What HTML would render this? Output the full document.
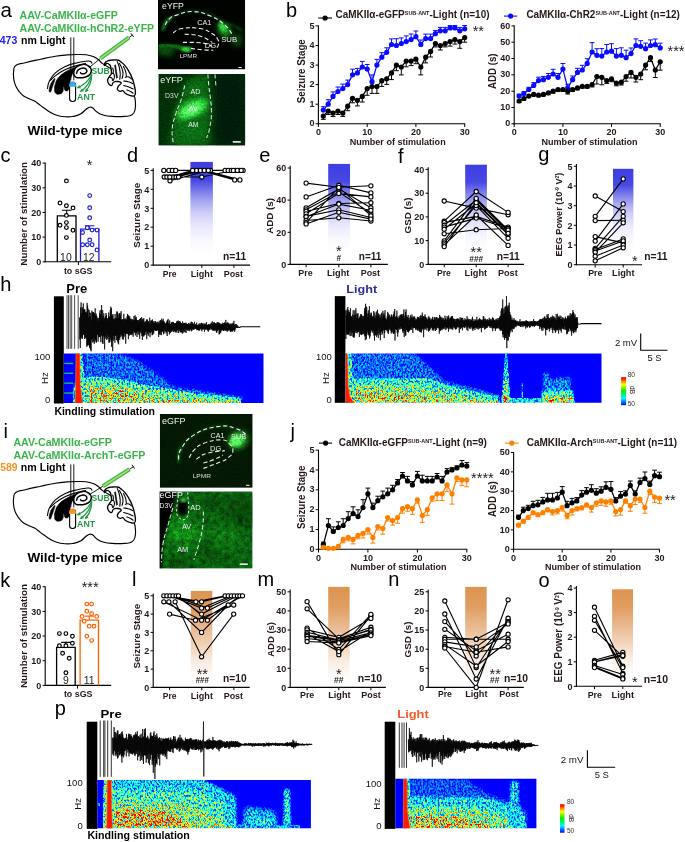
<!DOCTYPE html>
<html><head><meta charset="utf-8"><title>Figure</title>
<style>
html,body{margin:0;padding:0;background:#fff;}
svg{display:block;font-family:'Liberation Sans', Arial, sans-serif;font-weight:bold;will-change:transform;}
</style></head><body>
<svg width="685" height="842" viewBox="0 0 685 842">
<defs>
<linearGradient id="gb" x1="0" y1="0" x2="0" y2="1"><stop offset="0" stop-color="#3e3ee2"/><stop offset="0.2" stop-color="#4848e4"/><stop offset="0.3" stop-color="#7474ea"/><stop offset="0.42" stop-color="#a4a4f2"/><stop offset="0.55" stop-color="#cdcdf8"/><stop offset="0.7" stop-color="#e9e9fc"/><stop offset="0.85" stop-color="#f8f8ff"/><stop offset="1" stop-color="#fff"/></linearGradient>
<linearGradient id="go" x1="0" y1="0" x2="0" y2="1"><stop offset="0" stop-color="#dd9450"/><stop offset="0.22" stop-color="#e09e62"/><stop offset="0.5" stop-color="#ecc3a0"/><stop offset="0.8" stop-color="#f9ece0"/><stop offset="1" stop-color="#fff"/></linearGradient>
<filter id="bl1" x="-20%" y="-20%" width="140%" height="140%"><feGaussianBlur stdDeviation="1.6"/></filter>
<filter id="bl2" x="-30%" y="-30%" width="160%" height="160%"><feGaussianBlur stdDeviation="3.2"/></filter>
<filter id="bl3" x="-30%" y="-30%" width="160%" height="160%"><feGaussianBlur stdDeviation="6"/></filter>
<filter id="grain" x="0" y="0" width="1" height="1" color-interpolation-filters="sRGB">
<feTurbulence type="fractalNoise" baseFrequency="0.55" numOctaves="3" seed="7" result="n"/>
<feColorMatrix in="n" type="matrix" values="0 0 0 0 0  2.4 0 0 0 -0.7  0 0 0 0 0  0 0 0 0 1" result="g"/>
<feComposite in="SourceGraphic" in2="g" operator="arithmetic" k1="0.4" k2="0.82" k3="0" k4="0"/>
</filter>
<filter id="grain2" x="0" y="0" width="1" height="1" color-interpolation-filters="sRGB">
<feTurbulence type="fractalNoise" baseFrequency="0.2" numOctaves="3" seed="11" result="n1"/>
<feTurbulence type="fractalNoise" baseFrequency="0.8" numOctaves="2" seed="5" result="n2"/>
<feComposite in="n1" in2="n2" operator="arithmetic" k1="0" k2="0.62" k3="0.38" k4="0" result="n"/>
<feColorMatrix in="n" type="matrix" values="0 0 0 0 0  0 2.4 0 0 -0.7  0 0 0 0 0  0 0 0 0 1" result="g"/>
<feComposite in="SourceGraphic" in2="g" operator="arithmetic" k1="0.75" k2="0.62" k3="0" k4="0"/>
</filter>
<clipPath id="cA1"><rect x="158" y="0" width="87.2" height="69.4"/></clipPath>
<clipPath id="cA2"><rect x="158.4" y="73.9" width="86.8" height="71.7"/></clipPath>
<clipPath id="cI1"><rect x="159.8" y="414" width="92.8" height="73.7"/></clipPath>
<clipPath id="cI2"><rect x="159.6" y="491.4" width="92.9" height="77.1"/></clipPath>
<filter id="sb1" x="-50%" y="-10%" width="200%" height="120%"><feGaussianBlur stdDeviation="0.7"/></filter>
<filter id="sb2" x="-10%" y="-30%" width="120%" height="160%"><feGaussianBlur stdDeviation="1.8"/></filter>
<filter id="sb3" x="-10%" y="-30%" width="120%" height="160%"><feGaussianBlur stdDeviation="3"/></filter>
<linearGradient id="cbar" x1="0" y1="0" x2="0" y2="1"><stop offset="0" stop-color="#ff0a00"/><stop offset="0.06" stop-color="#ff1800"/><stop offset="0.16" stop-color="#ff9000"/><stop offset="0.26" stop-color="#ffff00"/><stop offset="0.48" stop-color="#0af000"/><stop offset="0.62" stop-color="#00f060"/><stop offset="0.76" stop-color="#00f8ff"/><stop offset="0.88" stop-color="#0078ff"/><stop offset="1" stop-color="#0000ff"/></linearGradient>
<clipPath id="sc1"><rect x="63.8" y="353.6" width="199.7" height="49.4"/></clipPath>
<filter id="jet1" x="0" y="0" width="1" height="1" color-interpolation-filters="sRGB">
<feTurbulence type="fractalNoise" baseFrequency="0.55 0.42" numOctaves="2" seed="3" result="n"/>
<feColorMatrix in="n" type="matrix" values="2.8 0 0 0 -0.9  2.8 0 0 0 -0.9  2.8 0 0 0 -0.9  0 0 0 0 1" result="g"/>
<feComposite in="SourceGraphic" in2="g" operator="arithmetic" k1="1.15" k2="0.44" k3="0" k4="-0.11" result="m"/>
<feComponentTransfer in="m"><feFuncR type="table" tableValues="0 0 0 0.5 1 1 1"/><feFuncG type="table" tableValues="0 0.5 1 1 1 0.45 0"/><feFuncB type="table" tableValues="1 1 1 0.5 0 0 0"/></feComponentTransfer>
</filter>
<clipPath id="sc2"><rect x="345.4" y="353.4" width="256.1" height="49.4"/></clipPath>
<filter id="jet2" x="0" y="0" width="1" height="1" color-interpolation-filters="sRGB">
<feTurbulence type="fractalNoise" baseFrequency="0.55 0.42" numOctaves="2" seed="9" result="n"/>
<feColorMatrix in="n" type="matrix" values="2.8 0 0 0 -0.9  2.8 0 0 0 -0.9  2.8 0 0 0 -0.9  0 0 0 0 1" result="g"/>
<feComposite in="SourceGraphic" in2="g" operator="arithmetic" k1="1.15" k2="0.44" k3="0" k4="-0.11" result="m"/>
<feComponentTransfer in="m"><feFuncR type="table" tableValues="0 0 0 0.5 1 1 1"/><feFuncG type="table" tableValues="0 0.5 1 1 1 0.45 0"/><feFuncB type="table" tableValues="1 1 1 0.5 0 0 0"/></feComponentTransfer>
</filter>
<clipPath id="sc3"><rect x="97.3" y="780.0" width="213.6" height="48.3"/></clipPath>
<filter id="jet3" x="0" y="0" width="1" height="1" color-interpolation-filters="sRGB">
<feTurbulence type="fractalNoise" baseFrequency="0.55 0.42" numOctaves="2" seed="21" result="n"/>
<feColorMatrix in="n" type="matrix" values="2.8 0 0 0 -0.9  2.8 0 0 0 -0.9  2.8 0 0 0 -0.9  0 0 0 0 1" result="g"/>
<feComposite in="SourceGraphic" in2="g" operator="arithmetic" k1="1.15" k2="0.44" k3="0" k4="-0.11" result="m"/>
<feComponentTransfer in="m"><feFuncR type="table" tableValues="0 0 0 0.5 1 1 1"/><feFuncG type="table" tableValues="0 0.5 1 1 1 0.45 0"/><feFuncB type="table" tableValues="1 1 1 0.5 0 0 0"/></feComponentTransfer>
</filter>
<clipPath id="sc4"><rect x="395.3" y="778.8" width="141.1" height="49.4"/></clipPath>
<filter id="jet4" x="0" y="0" width="1" height="1" color-interpolation-filters="sRGB">
<feTurbulence type="fractalNoise" baseFrequency="0.55 0.42" numOctaves="2" seed="33" result="n"/>
<feColorMatrix in="n" type="matrix" values="2.8 0 0 0 -0.9  2.8 0 0 0 -0.9  2.8 0 0 0 -0.9  0 0 0 0 1" result="g"/>
<feComposite in="SourceGraphic" in2="g" operator="arithmetic" k1="1.15" k2="0.44" k3="0" k4="-0.11" result="m"/>
<feComponentTransfer in="m"><feFuncR type="table" tableValues="0 0 0 0.5 1 1 1"/><feFuncG type="table" tableValues="0 0.5 1 1 1 0.45 0"/><feFuncB type="table" tableValues="1 1 1 0.5 0 0 0"/></feComponentTransfer>
</filter>
</defs>
<text x="286.0" y="16.6" font-size="20" font-weight="normal" fill="#000">b</text>
<line x1="318.4" y1="25.4" x2="318.4" y2="124.3" stroke="#000" stroke-width="1.1"/>
<line x1="317.9" y1="123.8" x2="465.2" y2="123.8" stroke="#000" stroke-width="1.1"/>
<line x1="315.6" y1="123.8" x2="318.4" y2="123.8" stroke="#000" stroke-width="1.0"/>
<text x="314.5" y="126.4" font-size="9" text-anchor="end" fill="#231815">0</text>
<line x1="315.6" y1="104.2" x2="318.4" y2="104.2" stroke="#000" stroke-width="1.0"/>
<text x="314.5" y="106.8" font-size="9" text-anchor="end" fill="#231815">1</text>
<line x1="315.6" y1="84.6" x2="318.4" y2="84.6" stroke="#000" stroke-width="1.0"/>
<text x="314.5" y="87.2" font-size="9" text-anchor="end" fill="#231815">2</text>
<line x1="315.6" y1="65.1" x2="318.4" y2="65.1" stroke="#000" stroke-width="1.0"/>
<text x="314.5" y="67.7" font-size="9" text-anchor="end" fill="#231815">3</text>
<line x1="315.6" y1="45.5" x2="318.4" y2="45.5" stroke="#000" stroke-width="1.0"/>
<text x="314.5" y="48.1" font-size="9" text-anchor="end" fill="#231815">4</text>
<line x1="315.6" y1="25.9" x2="318.4" y2="25.9" stroke="#000" stroke-width="1.0"/>
<text x="314.5" y="28.5" font-size="9" text-anchor="end" fill="#231815">5</text>
<line x1="318.4" y1="123.8" x2="318.4" y2="127.0" stroke="#000" stroke-width="1.0"/>
<text x="318.4" y="135.3" font-size="9" text-anchor="middle" fill="#231815">0</text>
<line x1="367.2" y1="123.8" x2="367.2" y2="127.0" stroke="#000" stroke-width="1.0"/>
<text x="367.2" y="135.3" font-size="9" text-anchor="middle" fill="#231815">10</text>
<line x1="415.9" y1="123.8" x2="415.9" y2="127.0" stroke="#000" stroke-width="1.0"/>
<text x="415.9" y="135.3" font-size="9" text-anchor="middle" fill="#231815">20</text>
<line x1="464.7" y1="123.8" x2="464.7" y2="127.0" stroke="#000" stroke-width="1.0"/>
<text x="464.7" y="135.3" font-size="9" text-anchor="middle" fill="#231815">30</text>
<text x="349.7" y="144.5" font-size="9" fill="#231815" textLength="96.0" lengthAdjust="spacingAndGlyphs">Number of stimulation</text>
<text x="304.6" y="71.2" font-size="10" text-anchor="middle" fill="#231815" textLength="64.0" lengthAdjust="spacingAndGlyphs" transform="rotate(-90 304.6 71.2)">Seizure Stage</text>
<path d="M323.3,110.1V106.7M320.9,106.7h4.8M328.2,104.2V99.7M325.8,99.7h4.8M333.0,96.4V91.9M330.6,91.9h4.8M337.9,91.5V87.0M335.5,87.0h4.8M342.8,88.6V84.1M340.4,84.1h4.8M347.7,84.6V80.1M345.3,80.1h4.8M352.5,74.8V69.2M350.1,69.2h4.8M357.4,72.9V68.4M355.0,68.4h4.8M362.3,67.0V61.4M359.9,61.4h4.8M367.2,69.0V64.5M364.8,64.5h4.8M372.0,81.7V74.9M369.6,74.9h4.8M376.9,65.1V59.4M374.5,59.4h4.8M381.8,57.2V52.7M379.4,52.7h4.8M386.7,52.3V47.8M384.3,47.8h4.8M391.5,44.5V38.9M389.1,38.9h4.8M396.4,45.5V38.7M394.0,38.7h4.8M401.3,43.5V37.9M398.9,37.9h4.8M406.2,41.6V35.9M403.8,35.9h4.8M411.1,39.6V34.0M408.7,34.0h4.8M415.9,36.7V31.0M413.5,31.0h4.8M420.8,44.5V40.0M418.4,40.0h4.8M425.7,38.6V34.1M423.3,34.1h4.8M430.6,38.6V34.1M428.2,34.1h4.8M435.4,33.7V30.4M433.0,30.4h4.8M440.3,30.8V27.4M437.9,27.4h4.8M445.2,30.8V27.4M442.8,27.4h4.8M450.1,27.9V25.6M447.7,25.6h4.8M454.9,27.9V25.6M452.5,25.6h4.8M459.8,30.8V27.4M457.4,27.4h4.8M464.7,28.8V25.5M462.3,25.5h4.8" fill="none" stroke="#0a0aff" stroke-width="1.0"/>
<path d="M323.3,110.1L328.2,104.2L333.0,96.4L337.9,91.5L342.8,88.6L347.7,84.6L352.5,74.8L357.4,72.9L362.3,67.0L367.2,69.0L372.0,81.7L376.9,65.1L381.8,57.2L386.7,52.3L391.5,44.5L396.4,45.5L401.3,43.5L406.2,41.6L411.1,39.6L415.9,36.7L420.8,44.5L425.7,38.6L430.6,38.6L435.4,33.7L440.3,30.8L445.2,30.8L450.1,27.9L454.9,27.9L459.8,30.8L464.7,28.8" fill="none" stroke="#0a0aff" stroke-width="1.25"/>
<circle cx="323.3" cy="110.1" r="2.6" fill="#0a0aff"/>
<circle cx="328.2" cy="104.2" r="2.6" fill="#0a0aff"/>
<circle cx="333.0" cy="96.4" r="2.6" fill="#0a0aff"/>
<circle cx="337.9" cy="91.5" r="2.6" fill="#0a0aff"/>
<circle cx="342.8" cy="88.6" r="2.6" fill="#0a0aff"/>
<circle cx="347.7" cy="84.6" r="2.6" fill="#0a0aff"/>
<circle cx="352.5" cy="74.8" r="2.6" fill="#0a0aff"/>
<circle cx="357.4" cy="72.9" r="2.6" fill="#0a0aff"/>
<circle cx="362.3" cy="67.0" r="2.6" fill="#0a0aff"/>
<circle cx="367.2" cy="69.0" r="2.6" fill="#0a0aff"/>
<circle cx="372.0" cy="81.7" r="2.6" fill="#0a0aff"/>
<circle cx="376.9" cy="65.1" r="2.6" fill="#0a0aff"/>
<circle cx="381.8" cy="57.2" r="2.6" fill="#0a0aff"/>
<circle cx="386.7" cy="52.3" r="2.6" fill="#0a0aff"/>
<circle cx="391.5" cy="44.5" r="2.6" fill="#0a0aff"/>
<circle cx="396.4" cy="45.5" r="2.6" fill="#0a0aff"/>
<circle cx="401.3" cy="43.5" r="2.6" fill="#0a0aff"/>
<circle cx="406.2" cy="41.6" r="2.6" fill="#0a0aff"/>
<circle cx="411.1" cy="39.6" r="2.6" fill="#0a0aff"/>
<circle cx="415.9" cy="36.7" r="2.6" fill="#0a0aff"/>
<circle cx="420.8" cy="44.5" r="2.6" fill="#0a0aff"/>
<circle cx="425.7" cy="38.6" r="2.6" fill="#0a0aff"/>
<circle cx="430.6" cy="38.6" r="2.6" fill="#0a0aff"/>
<circle cx="435.4" cy="33.7" r="2.6" fill="#0a0aff"/>
<circle cx="440.3" cy="30.8" r="2.6" fill="#0a0aff"/>
<circle cx="445.2" cy="30.8" r="2.6" fill="#0a0aff"/>
<circle cx="450.1" cy="27.9" r="2.6" fill="#0a0aff"/>
<circle cx="454.9" cy="27.9" r="2.6" fill="#0a0aff"/>
<circle cx="459.8" cy="30.8" r="2.6" fill="#0a0aff"/>
<circle cx="464.7" cy="28.8" r="2.6" fill="#0a0aff"/>
<path d="M323.3,116.0V119.3M320.9,119.3h4.8M328.2,111.1V114.5M325.8,114.5h4.8M333.0,113.0V116.4M330.6,116.4h4.8M337.9,111.1V114.5M335.5,114.5h4.8M342.8,113.0V116.4M340.4,116.4h4.8M347.7,106.2V110.7M345.3,110.7h4.8M352.5,98.3V102.8M350.1,102.8h4.8M357.4,100.3V105.9M355.0,105.9h4.8M362.3,96.4V102.0M359.9,102.0h4.8M367.2,88.6V95.3M364.8,95.3h4.8M372.0,86.6V93.4M369.6,93.4h4.8M376.9,86.6V93.4M374.5,93.4h4.8M381.8,80.7V86.4M379.4,86.4h4.8M386.7,78.8V84.4M384.3,84.4h4.8M391.5,72.9V79.6M389.1,79.6h4.8M396.4,65.1V70.7M394.0,70.7h4.8M401.3,67.0V74.9M398.9,74.9h4.8M406.2,61.1V66.8M403.8,66.8h4.8M411.1,61.1V65.6M408.7,65.6h4.8M415.9,59.2V63.7M413.5,63.7h4.8M420.8,67.0V74.9M418.4,74.9h4.8M425.7,57.2V62.9M423.3,62.9h4.8M430.6,51.4V57.0M428.2,57.0h4.8M435.4,43.5V46.9M433.0,46.9h4.8M440.3,45.5V50.0M437.9,50.0h4.8M445.2,43.5V46.9M442.8,46.9h4.8M450.1,41.6V46.1M447.7,46.1h4.8M454.9,39.6V44.1M452.5,44.1h4.8M459.8,41.6V48.3M457.4,48.3h4.8M464.7,37.6V42.2M462.3,42.2h4.8" fill="none" stroke="#000" stroke-width="1.0"/>
<path d="M323.3,116.0L328.2,111.1L333.0,113.0L337.9,111.1L342.8,113.0L347.7,106.2L352.5,98.3L357.4,100.3L362.3,96.4L367.2,88.6L372.0,86.6L376.9,86.6L381.8,80.7L386.7,78.8L391.5,72.9L396.4,65.1L401.3,67.0L406.2,61.1L411.1,61.1L415.9,59.2L420.8,67.0L425.7,57.2L430.6,51.4L435.4,43.5L440.3,45.5L445.2,43.5L450.1,41.6L454.9,39.6L459.8,41.6L464.7,37.6" fill="none" stroke="#000" stroke-width="1.25"/>
<circle cx="323.3" cy="116.0" r="2.6" fill="#000"/>
<circle cx="328.2" cy="111.1" r="2.6" fill="#000"/>
<circle cx="333.0" cy="113.0" r="2.6" fill="#000"/>
<circle cx="337.9" cy="111.1" r="2.6" fill="#000"/>
<circle cx="342.8" cy="113.0" r="2.6" fill="#000"/>
<circle cx="347.7" cy="106.2" r="2.6" fill="#000"/>
<circle cx="352.5" cy="98.3" r="2.6" fill="#000"/>
<circle cx="357.4" cy="100.3" r="2.6" fill="#000"/>
<circle cx="362.3" cy="96.4" r="2.6" fill="#000"/>
<circle cx="367.2" cy="88.6" r="2.6" fill="#000"/>
<circle cx="372.0" cy="86.6" r="2.6" fill="#000"/>
<circle cx="376.9" cy="86.6" r="2.6" fill="#000"/>
<circle cx="381.8" cy="80.7" r="2.6" fill="#000"/>
<circle cx="386.7" cy="78.8" r="2.6" fill="#000"/>
<circle cx="391.5" cy="72.9" r="2.6" fill="#000"/>
<circle cx="396.4" cy="65.1" r="2.6" fill="#000"/>
<circle cx="401.3" cy="67.0" r="2.6" fill="#000"/>
<circle cx="406.2" cy="61.1" r="2.6" fill="#000"/>
<circle cx="411.1" cy="61.1" r="2.6" fill="#000"/>
<circle cx="415.9" cy="59.2" r="2.6" fill="#000"/>
<circle cx="420.8" cy="67.0" r="2.6" fill="#000"/>
<circle cx="425.7" cy="57.2" r="2.6" fill="#000"/>
<circle cx="430.6" cy="51.4" r="2.6" fill="#000"/>
<circle cx="435.4" cy="43.5" r="2.6" fill="#000"/>
<circle cx="440.3" cy="45.5" r="2.6" fill="#000"/>
<circle cx="445.2" cy="43.5" r="2.6" fill="#000"/>
<circle cx="450.1" cy="41.6" r="2.6" fill="#000"/>
<circle cx="454.9" cy="39.6" r="2.6" fill="#000"/>
<circle cx="459.8" cy="41.6" r="2.6" fill="#000"/>
<circle cx="464.7" cy="37.6" r="2.6" fill="#000"/>
<line x1="318.3" y1="18.0" x2="332.0" y2="18.0" stroke="#000" stroke-width="1.1"/>
<circle cx="325.1" cy="18.0" r="2.6" fill="#000"/>
<text x="335.5" y="18.4" font-size="10" fill="#231815" textLength="154.0" lengthAdjust="spacingAndGlyphs">CaMKIIα-eGFP<tspan font-size="5.5" dy="-3.4">SUB-ANT</tspan><tspan dy="3.4">-Light (n=10)</tspan></text>
<text x="478.3" y="36.3" font-size="14.5" font-weight="normal" text-anchor="middle" fill="#231815">**</text>
<line x1="514.2" y1="25.4" x2="514.2" y2="124.3" stroke="#000" stroke-width="1.1"/>
<line x1="513.7" y1="123.8" x2="660.7" y2="123.8" stroke="#000" stroke-width="1.1"/>
<line x1="511.4" y1="123.8" x2="514.2" y2="123.8" stroke="#000" stroke-width="1.0"/>
<text x="510.3" y="126.4" font-size="9" text-anchor="end" fill="#231815">0</text>
<line x1="511.4" y1="107.5" x2="514.2" y2="107.5" stroke="#000" stroke-width="1.0"/>
<text x="510.3" y="110.1" font-size="9" text-anchor="end" fill="#231815">10</text>
<line x1="511.4" y1="91.2" x2="514.2" y2="91.2" stroke="#000" stroke-width="1.0"/>
<text x="510.3" y="93.8" font-size="9" text-anchor="end" fill="#231815">20</text>
<line x1="511.4" y1="74.8" x2="514.2" y2="74.8" stroke="#000" stroke-width="1.0"/>
<text x="510.3" y="77.4" font-size="9" text-anchor="end" fill="#231815">30</text>
<line x1="511.4" y1="58.5" x2="514.2" y2="58.5" stroke="#000" stroke-width="1.0"/>
<text x="510.3" y="61.1" font-size="9" text-anchor="end" fill="#231815">40</text>
<line x1="511.4" y1="42.2" x2="514.2" y2="42.2" stroke="#000" stroke-width="1.0"/>
<text x="510.3" y="44.8" font-size="9" text-anchor="end" fill="#231815">50</text>
<line x1="511.4" y1="25.9" x2="514.2" y2="25.9" stroke="#000" stroke-width="1.0"/>
<text x="510.3" y="28.5" font-size="9" text-anchor="end" fill="#231815">60</text>
<line x1="514.2" y1="123.8" x2="514.2" y2="127.0" stroke="#000" stroke-width="1.0"/>
<text x="514.2" y="135.3" font-size="9" text-anchor="middle" fill="#231815">0</text>
<line x1="562.9" y1="123.8" x2="562.9" y2="127.0" stroke="#000" stroke-width="1.0"/>
<text x="562.9" y="135.3" font-size="9" text-anchor="middle" fill="#231815">10</text>
<line x1="611.5" y1="123.8" x2="611.5" y2="127.0" stroke="#000" stroke-width="1.0"/>
<text x="611.5" y="135.3" font-size="9" text-anchor="middle" fill="#231815">20</text>
<line x1="660.2" y1="123.8" x2="660.2" y2="127.0" stroke="#000" stroke-width="1.0"/>
<text x="660.2" y="135.3" font-size="9" text-anchor="middle" fill="#231815">30</text>
<text x="541.5" y="144.5" font-size="9" fill="#231815" textLength="96.0" lengthAdjust="spacingAndGlyphs">Number of stimulation</text>
<text x="495.9" y="71.2" font-size="10" text-anchor="middle" fill="#231815" textLength="35.6" lengthAdjust="spacingAndGlyphs" transform="rotate(-90 495.9 71.2)">ADD (s)</text>
<path d="M519.1,96.1V94.2M516.7,94.2h4.8M523.9,93.6V91.7M521.5,91.7h4.8M528.8,89.5V87.3M526.4,87.3h4.8M533.7,85.5V82.6M531.3,82.6h4.8M538.5,80.6V77.2M536.1,77.2h4.8M543.4,79.7V76.4M541.0,76.4h4.8M548.3,77.3V73.5M545.9,73.5h4.8M553.1,74.0V69.3M550.7,69.3h4.8M558.0,77.3V73.5M555.6,73.5h4.8M562.9,69.1V63.5M560.5,63.5h4.8M567.7,87.9V84.2M565.3,84.2h4.8M572.6,79.7V76.0M570.2,76.0h4.8M577.5,72.4V68.3M575.1,68.3h4.8M582.3,70.0V65.3M579.9,65.3h4.8M587.2,63.4V58.7M584.8,58.7h4.8M592.1,52.0V42.6M589.7,42.6h4.8M596.9,55.3V48.7M594.5,48.7h4.8M601.8,56.1V48.6M599.4,48.6h4.8M606.7,52.0V44.5M604.3,44.5h4.8M611.5,51.2V43.7M609.1,43.7h4.8M616.4,56.1V48.6M614.0,48.6h4.8M621.3,55.3V47.8M618.9,47.8h4.8M626.1,57.7V50.2M623.7,50.2h4.8M631.0,53.6V48.0M628.6,48.0h4.8M635.9,45.5V38.9M633.5,38.9h4.8M640.7,46.3V40.7M638.3,40.7h4.8M645.6,48.7V43.1M643.2,43.1h4.8M650.5,45.5V39.9M648.1,39.9h4.8M655.3,44.7V39.0M652.9,39.0h4.8M660.2,47.9V43.2M657.8,43.2h4.8" fill="none" stroke="#0a0aff" stroke-width="1.0"/>
<path d="M519.1,96.1L523.9,93.6L528.8,89.5L533.7,85.5L538.5,80.6L543.4,79.7L548.3,77.3L553.1,74.0L558.0,77.3L562.9,69.1L567.7,87.9L572.6,79.7L577.5,72.4L582.3,70.0L587.2,63.4L592.1,52.0L596.9,55.3L601.8,56.1L606.7,52.0L611.5,51.2L616.4,56.1L621.3,55.3L626.1,57.7L631.0,53.6L635.9,45.5L640.7,46.3L645.6,48.7L650.5,45.5L655.3,44.7L660.2,47.9" fill="none" stroke="#0a0aff" stroke-width="1.25"/>
<circle cx="519.1" cy="96.1" r="2.6" fill="#0a0aff"/>
<circle cx="523.9" cy="93.6" r="2.6" fill="#0a0aff"/>
<circle cx="528.8" cy="89.5" r="2.6" fill="#0a0aff"/>
<circle cx="533.7" cy="85.5" r="2.6" fill="#0a0aff"/>
<circle cx="538.5" cy="80.6" r="2.6" fill="#0a0aff"/>
<circle cx="543.4" cy="79.7" r="2.6" fill="#0a0aff"/>
<circle cx="548.3" cy="77.3" r="2.6" fill="#0a0aff"/>
<circle cx="553.1" cy="74.0" r="2.6" fill="#0a0aff"/>
<circle cx="558.0" cy="77.3" r="2.6" fill="#0a0aff"/>
<circle cx="562.9" cy="69.1" r="2.6" fill="#0a0aff"/>
<circle cx="567.7" cy="87.9" r="2.6" fill="#0a0aff"/>
<circle cx="572.6" cy="79.7" r="2.6" fill="#0a0aff"/>
<circle cx="577.5" cy="72.4" r="2.6" fill="#0a0aff"/>
<circle cx="582.3" cy="70.0" r="2.6" fill="#0a0aff"/>
<circle cx="587.2" cy="63.4" r="2.6" fill="#0a0aff"/>
<circle cx="592.1" cy="52.0" r="2.6" fill="#0a0aff"/>
<circle cx="596.9" cy="55.3" r="2.6" fill="#0a0aff"/>
<circle cx="601.8" cy="56.1" r="2.6" fill="#0a0aff"/>
<circle cx="606.7" cy="52.0" r="2.6" fill="#0a0aff"/>
<circle cx="611.5" cy="51.2" r="2.6" fill="#0a0aff"/>
<circle cx="616.4" cy="56.1" r="2.6" fill="#0a0aff"/>
<circle cx="621.3" cy="55.3" r="2.6" fill="#0a0aff"/>
<circle cx="626.1" cy="57.7" r="2.6" fill="#0a0aff"/>
<circle cx="631.0" cy="53.6" r="2.6" fill="#0a0aff"/>
<circle cx="635.9" cy="45.5" r="2.6" fill="#0a0aff"/>
<circle cx="640.7" cy="46.3" r="2.6" fill="#0a0aff"/>
<circle cx="645.6" cy="48.7" r="2.6" fill="#0a0aff"/>
<circle cx="650.5" cy="45.5" r="2.6" fill="#0a0aff"/>
<circle cx="655.3" cy="44.7" r="2.6" fill="#0a0aff"/>
<circle cx="660.2" cy="47.9" r="2.6" fill="#0a0aff"/>
<path d="M519.1,101.0V102.5M516.7,102.5h4.8M523.9,98.5V100.0M521.5,100.0h4.8M528.8,96.1V97.6M526.4,97.6h4.8M533.7,94.4V95.9M531.3,95.9h4.8M538.5,95.2V96.7M536.1,96.7h4.8M543.4,94.4V95.9M541.0,95.9h4.8M548.3,92.8V94.7M545.9,94.7h4.8M553.1,91.2V93.0M550.7,93.0h4.8M558.0,89.5V91.4M555.6,91.4h4.8M562.9,89.5V91.4M560.5,91.4h4.8M567.7,91.2V94.0M565.3,94.0h4.8M572.6,89.5V91.4M570.2,91.4h4.8M577.5,87.9V89.8M575.1,89.8h4.8M582.3,86.3V88.1M579.9,88.1h4.8M587.2,86.3V88.1M584.8,88.1h4.8M592.1,84.6V86.9M589.7,86.9h4.8M596.9,76.5V84.0M594.5,84.0h4.8M601.8,77.3V84.8M599.4,84.8h4.8M606.7,80.6V83.4M604.3,83.4h4.8M611.5,78.9V81.7M609.1,81.7h4.8M616.4,83.0V85.8M614.0,85.8h4.8M621.3,82.2V85.0M618.9,85.0h4.8M626.1,76.5V81.2M623.7,81.2h4.8M631.0,72.4V78.0M628.6,78.0h4.8M635.9,77.3V82.0M633.5,82.0h4.8M640.7,74.0V79.7M638.3,79.7h4.8M645.6,65.1V69.8M643.2,69.8h4.8M650.5,57.7V61.5M648.1,61.5h4.8M655.3,70.0V77.5M652.9,77.5h4.8M660.2,61.8V70.2M657.8,70.2h4.8" fill="none" stroke="#000" stroke-width="1.0"/>
<path d="M519.1,101.0L523.9,98.5L528.8,96.1L533.7,94.4L538.5,95.2L543.4,94.4L548.3,92.8L553.1,91.2L558.0,89.5L562.9,89.5L567.7,91.2L572.6,89.5L577.5,87.9L582.3,86.3L587.2,86.3L592.1,84.6L596.9,76.5L601.8,77.3L606.7,80.6L611.5,78.9L616.4,83.0L621.3,82.2L626.1,76.5L631.0,72.4L635.9,77.3L640.7,74.0L645.6,65.1L650.5,57.7L655.3,70.0L660.2,61.8" fill="none" stroke="#000" stroke-width="1.25"/>
<circle cx="519.1" cy="101.0" r="2.6" fill="#000"/>
<circle cx="523.9" cy="98.5" r="2.6" fill="#000"/>
<circle cx="528.8" cy="96.1" r="2.6" fill="#000"/>
<circle cx="533.7" cy="94.4" r="2.6" fill="#000"/>
<circle cx="538.5" cy="95.2" r="2.6" fill="#000"/>
<circle cx="543.4" cy="94.4" r="2.6" fill="#000"/>
<circle cx="548.3" cy="92.8" r="2.6" fill="#000"/>
<circle cx="553.1" cy="91.2" r="2.6" fill="#000"/>
<circle cx="558.0" cy="89.5" r="2.6" fill="#000"/>
<circle cx="562.9" cy="89.5" r="2.6" fill="#000"/>
<circle cx="567.7" cy="91.2" r="2.6" fill="#000"/>
<circle cx="572.6" cy="89.5" r="2.6" fill="#000"/>
<circle cx="577.5" cy="87.9" r="2.6" fill="#000"/>
<circle cx="582.3" cy="86.3" r="2.6" fill="#000"/>
<circle cx="587.2" cy="86.3" r="2.6" fill="#000"/>
<circle cx="592.1" cy="84.6" r="2.6" fill="#000"/>
<circle cx="596.9" cy="76.5" r="2.6" fill="#000"/>
<circle cx="601.8" cy="77.3" r="2.6" fill="#000"/>
<circle cx="606.7" cy="80.6" r="2.6" fill="#000"/>
<circle cx="611.5" cy="78.9" r="2.6" fill="#000"/>
<circle cx="616.4" cy="83.0" r="2.6" fill="#000"/>
<circle cx="621.3" cy="82.2" r="2.6" fill="#000"/>
<circle cx="626.1" cy="76.5" r="2.6" fill="#000"/>
<circle cx="631.0" cy="72.4" r="2.6" fill="#000"/>
<circle cx="635.9" cy="77.3" r="2.6" fill="#000"/>
<circle cx="640.7" cy="74.0" r="2.6" fill="#000"/>
<circle cx="645.6" cy="65.1" r="2.6" fill="#000"/>
<circle cx="650.5" cy="57.7" r="2.6" fill="#000"/>
<circle cx="655.3" cy="70.0" r="2.6" fill="#000"/>
<circle cx="660.2" cy="61.8" r="2.6" fill="#000"/>
<line x1="504.0" y1="16.1" x2="517.3" y2="16.1" stroke="#0a0aff" stroke-width="1.1"/>
<circle cx="510.6" cy="16.1" r="2.6" fill="#0a0aff"/>
<text x="526.4" y="18.4" font-size="10" fill="#231815" textLength="153.4" lengthAdjust="spacingAndGlyphs">CaMKIIα-ChR2<tspan font-size="5.5" dy="-3.4">SUB-ANT</tspan><tspan dy="3.4">-Light (n=12)</tspan></text>
<text x="676.0" y="56.0" font-size="14.5" font-weight="normal" text-anchor="middle" fill="#231815">***</text>
<text x="290.5" y="437.5" font-size="20" font-weight="normal" fill="#000">j</text>
<line x1="318.5" y1="449.7" x2="318.5" y2="549.8" stroke="#000" stroke-width="1.1"/>
<line x1="318.0" y1="549.3" x2="467.3" y2="549.3" stroke="#000" stroke-width="1.1"/>
<line x1="315.7" y1="549.3" x2="318.5" y2="549.3" stroke="#000" stroke-width="1.0"/>
<text x="314.6" y="551.9" font-size="9" text-anchor="end" fill="#231815">0</text>
<line x1="315.7" y1="529.5" x2="318.5" y2="529.5" stroke="#000" stroke-width="1.0"/>
<text x="314.6" y="532.1" font-size="9" text-anchor="end" fill="#231815">1</text>
<line x1="315.7" y1="509.7" x2="318.5" y2="509.7" stroke="#000" stroke-width="1.0"/>
<text x="314.6" y="512.3" font-size="9" text-anchor="end" fill="#231815">2</text>
<line x1="315.7" y1="489.8" x2="318.5" y2="489.8" stroke="#000" stroke-width="1.0"/>
<text x="314.6" y="492.4" font-size="9" text-anchor="end" fill="#231815">3</text>
<line x1="315.7" y1="470.0" x2="318.5" y2="470.0" stroke="#000" stroke-width="1.0"/>
<text x="314.6" y="472.6" font-size="9" text-anchor="end" fill="#231815">4</text>
<line x1="315.7" y1="450.2" x2="318.5" y2="450.2" stroke="#000" stroke-width="1.0"/>
<text x="314.6" y="452.8" font-size="9" text-anchor="end" fill="#231815">5</text>
<line x1="318.5" y1="549.3" x2="318.5" y2="552.5" stroke="#000" stroke-width="1.0"/>
<text x="318.5" y="560.8" font-size="9" text-anchor="middle" fill="#231815">0</text>
<line x1="367.9" y1="549.3" x2="367.9" y2="552.5" stroke="#000" stroke-width="1.0"/>
<text x="367.9" y="560.8" font-size="9" text-anchor="middle" fill="#231815">10</text>
<line x1="417.4" y1="549.3" x2="417.4" y2="552.5" stroke="#000" stroke-width="1.0"/>
<text x="417.4" y="560.8" font-size="9" text-anchor="middle" fill="#231815">20</text>
<line x1="466.8" y1="549.3" x2="466.8" y2="552.5" stroke="#000" stroke-width="1.0"/>
<text x="466.8" y="560.8" font-size="9" text-anchor="middle" fill="#231815">30</text>
<text x="350.5" y="569.5" font-size="9" fill="#231815" textLength="96.0" lengthAdjust="spacingAndGlyphs">Number of stimulation</text>
<text x="304.6" y="497.3" font-size="10" text-anchor="middle" fill="#231815" textLength="63.4" lengthAdjust="spacingAndGlyphs" transform="rotate(-90 304.6 497.3)">Seizure Stage</text>
<path d="M323.4,544.3V542.1M321.0,542.1h4.8M328.4,525.5V518.7M326.0,518.7h4.8M333.3,531.5V526.9M330.9,526.9h4.8M338.3,527.5V521.8M335.9,521.8h4.8M343.2,525.5V518.7M340.8,518.7h4.8M348.2,518.6V511.7M345.8,511.7h4.8M353.1,513.6V506.8M350.7,506.8h4.8M358.0,516.6V509.8M355.6,509.8h4.8M363.0,507.7V499.7M360.6,499.7h4.8M367.9,493.8V488.1M365.5,488.1h4.8M372.9,507.7V503.1M370.5,503.1h4.8M377.8,500.7V496.2M375.4,496.2h4.8M382.8,496.8V491.1M380.4,491.1h4.8M387.7,493.8V488.1M385.3,488.1h4.8M392.6,489.8V485.3M390.2,485.3h4.8M397.6,482.9V479.5M395.2,479.5h4.8M402.5,476.0V472.5M400.1,472.5h4.8M407.5,480.9V476.4M405.1,476.4h4.8M412.4,484.9V481.5M410.0,481.5h4.8M417.4,476.0V471.4M415.0,471.4h4.8M422.3,480.9V475.2M419.9,475.2h4.8M427.3,480.9V476.4M424.9,476.4h4.8M432.2,480.9V476.4M429.8,476.4h4.8M437.1,477.0V473.5M434.7,473.5h4.8M442.1,480.9V476.4M439.7,476.4h4.8M447.0,472.0V468.6M444.6,468.6h4.8M452.0,470.0V467.7M449.6,467.7h4.8M456.9,468.0V465.8M454.5,465.8h4.8M461.9,465.1V460.5M459.5,460.5h4.8M466.8,466.1V462.6M464.4,462.6h4.8" fill="none" stroke="#000" stroke-width="1.0"/>
<path d="M323.4,544.3L328.4,525.5L333.3,531.5L338.3,527.5L343.2,525.5L348.2,518.6L353.1,513.6L358.0,516.6L363.0,507.7L367.9,493.8L372.9,507.7L377.8,500.7L382.8,496.8L387.7,493.8L392.6,489.8L397.6,482.9L402.5,476.0L407.5,480.9L412.4,484.9L417.4,476.0L422.3,480.9L427.3,480.9L432.2,480.9L437.1,477.0L442.1,480.9L447.0,472.0L452.0,470.0L456.9,468.0L461.9,465.1L466.8,466.1" fill="none" stroke="#000" stroke-width="1.25"/>
<circle cx="323.4" cy="544.3" r="2.6" fill="#000"/>
<circle cx="328.4" cy="525.5" r="2.6" fill="#000"/>
<circle cx="333.3" cy="531.5" r="2.6" fill="#000"/>
<circle cx="338.3" cy="527.5" r="2.6" fill="#000"/>
<circle cx="343.2" cy="525.5" r="2.6" fill="#000"/>
<circle cx="348.2" cy="518.6" r="2.6" fill="#000"/>
<circle cx="353.1" cy="513.6" r="2.6" fill="#000"/>
<circle cx="358.0" cy="516.6" r="2.6" fill="#000"/>
<circle cx="363.0" cy="507.7" r="2.6" fill="#000"/>
<circle cx="367.9" cy="493.8" r="2.6" fill="#000"/>
<circle cx="372.9" cy="507.7" r="2.6" fill="#000"/>
<circle cx="377.8" cy="500.7" r="2.6" fill="#000"/>
<circle cx="382.8" cy="496.8" r="2.6" fill="#000"/>
<circle cx="387.7" cy="493.8" r="2.6" fill="#000"/>
<circle cx="392.6" cy="489.8" r="2.6" fill="#000"/>
<circle cx="397.6" cy="482.9" r="2.6" fill="#000"/>
<circle cx="402.5" cy="476.0" r="2.6" fill="#000"/>
<circle cx="407.5" cy="480.9" r="2.6" fill="#000"/>
<circle cx="412.4" cy="484.9" r="2.6" fill="#000"/>
<circle cx="417.4" cy="476.0" r="2.6" fill="#000"/>
<circle cx="422.3" cy="480.9" r="2.6" fill="#000"/>
<circle cx="427.3" cy="480.9" r="2.6" fill="#000"/>
<circle cx="432.2" cy="480.9" r="2.6" fill="#000"/>
<circle cx="437.1" cy="477.0" r="2.6" fill="#000"/>
<circle cx="442.1" cy="480.9" r="2.6" fill="#000"/>
<circle cx="447.0" cy="472.0" r="2.6" fill="#000"/>
<circle cx="452.0" cy="470.0" r="2.6" fill="#000"/>
<circle cx="456.9" cy="468.0" r="2.6" fill="#000"/>
<circle cx="461.9" cy="465.1" r="2.6" fill="#000"/>
<circle cx="466.8" cy="466.1" r="2.6" fill="#000"/>
<path d="M323.4,547.3V548.5M321.0,548.5h4.8M328.4,548.3V549.4M326.0,549.4h4.8M333.3,548.3V549.4M330.9,549.4h4.8M338.3,546.3V548.6M335.9,548.6h4.8M343.2,539.4V542.8M340.8,542.8h4.8M348.2,537.4V540.8M345.8,540.8h4.8M353.1,539.4V543.9M350.7,543.9h4.8M358.0,535.4V538.8M355.6,538.8h4.8M363.0,533.4V538.0M360.6,538.0h4.8M367.9,529.5V534.0M365.5,534.0h4.8M372.9,537.4V543.1M370.5,543.1h4.8M377.8,526.5V529.9M375.4,529.9h4.8M382.8,528.5V534.2M380.4,534.2h4.8M387.7,517.6V521.0M385.3,521.0h4.8M392.6,520.6V525.1M390.2,525.1h4.8M397.6,517.6V523.3M395.2,523.3h4.8M402.5,508.7V513.2M400.1,513.2h4.8M407.5,506.7V511.2M405.1,511.2h4.8M412.4,508.7V514.4M410.0,514.4h4.8M417.4,499.8V503.2M415.0,503.2h4.8M422.3,515.6V522.4M419.9,522.4h4.8M427.3,509.7V515.4M424.9,515.4h4.8M432.2,497.8V501.2M429.8,501.2h4.8M437.1,493.8V500.6M434.7,500.6h4.8M442.1,493.8V500.6M439.7,500.6h4.8M447.0,484.9V491.7M444.6,491.7h4.8M452.0,493.8V504.1M449.6,504.1h4.8M456.9,477.9V481.4M454.5,481.4h4.8M461.9,479.9V485.6M459.5,485.6h4.8M466.8,479.9V486.8M464.4,486.8h4.8" fill="none" stroke="#ff8000" stroke-width="1.0"/>
<path d="M323.4,547.3L328.4,548.3L333.3,548.3L338.3,546.3L343.2,539.4L348.2,537.4L353.1,539.4L358.0,535.4L363.0,533.4L367.9,529.5L372.9,537.4L377.8,526.5L382.8,528.5L387.7,517.6L392.6,520.6L397.6,517.6L402.5,508.7L407.5,506.7L412.4,508.7L417.4,499.8L422.3,515.6L427.3,509.7L432.2,497.8L437.1,493.8L442.1,493.8L447.0,484.9L452.0,493.8L456.9,477.9L461.9,479.9L466.8,479.9" fill="none" stroke="#ff8000" stroke-width="1.25"/>
<circle cx="323.4" cy="547.3" r="2.6" fill="#ff8000"/>
<circle cx="328.4" cy="548.3" r="2.6" fill="#ff8000"/>
<circle cx="333.3" cy="548.3" r="2.6" fill="#ff8000"/>
<circle cx="338.3" cy="546.3" r="2.6" fill="#ff8000"/>
<circle cx="343.2" cy="539.4" r="2.6" fill="#ff8000"/>
<circle cx="348.2" cy="537.4" r="2.6" fill="#ff8000"/>
<circle cx="353.1" cy="539.4" r="2.6" fill="#ff8000"/>
<circle cx="358.0" cy="535.4" r="2.6" fill="#ff8000"/>
<circle cx="363.0" cy="533.4" r="2.6" fill="#ff8000"/>
<circle cx="367.9" cy="529.5" r="2.6" fill="#ff8000"/>
<circle cx="372.9" cy="537.4" r="2.6" fill="#ff8000"/>
<circle cx="377.8" cy="526.5" r="2.6" fill="#ff8000"/>
<circle cx="382.8" cy="528.5" r="2.6" fill="#ff8000"/>
<circle cx="387.7" cy="517.6" r="2.6" fill="#ff8000"/>
<circle cx="392.6" cy="520.6" r="2.6" fill="#ff8000"/>
<circle cx="397.6" cy="517.6" r="2.6" fill="#ff8000"/>
<circle cx="402.5" cy="508.7" r="2.6" fill="#ff8000"/>
<circle cx="407.5" cy="506.7" r="2.6" fill="#ff8000"/>
<circle cx="412.4" cy="508.7" r="2.6" fill="#ff8000"/>
<circle cx="417.4" cy="499.8" r="2.6" fill="#ff8000"/>
<circle cx="422.3" cy="515.6" r="2.6" fill="#ff8000"/>
<circle cx="427.3" cy="509.7" r="2.6" fill="#ff8000"/>
<circle cx="432.2" cy="497.8" r="2.6" fill="#ff8000"/>
<circle cx="437.1" cy="493.8" r="2.6" fill="#ff8000"/>
<circle cx="442.1" cy="493.8" r="2.6" fill="#ff8000"/>
<circle cx="447.0" cy="484.9" r="2.6" fill="#ff8000"/>
<circle cx="452.0" cy="493.8" r="2.6" fill="#ff8000"/>
<circle cx="456.9" cy="477.9" r="2.6" fill="#ff8000"/>
<circle cx="461.9" cy="479.9" r="2.6" fill="#ff8000"/>
<circle cx="466.8" cy="479.9" r="2.6" fill="#ff8000"/>
<line x1="319.0" y1="443.1" x2="332.1" y2="443.1" stroke="#000" stroke-width="1.1"/>
<circle cx="325.6" cy="443.1" r="2.6" fill="#000"/>
<text x="338.8" y="446.0" font-size="10" fill="#231815" textLength="148.1" lengthAdjust="spacingAndGlyphs">CaMKIIα-eGFP<tspan font-size="5.5" dy="-3.4">SUB-ANT</tspan><tspan dy="3.4">-Light (n=9)</tspan></text>
<text x="482.4" y="482.7" font-size="14.5" font-weight="normal" text-anchor="middle" fill="#231815">****</text>
<line x1="513.6" y1="452.0" x2="513.6" y2="549.8" stroke="#000" stroke-width="1.1"/>
<line x1="513.1" y1="549.3" x2="660.0" y2="549.3" stroke="#000" stroke-width="1.1"/>
<line x1="510.8" y1="549.3" x2="513.6" y2="549.3" stroke="#000" stroke-width="1.0"/>
<text x="509.7" y="551.9" font-size="9" text-anchor="end" fill="#231815">0</text>
<line x1="510.8" y1="529.9" x2="513.6" y2="529.9" stroke="#000" stroke-width="1.0"/>
<text x="509.7" y="532.5" font-size="9" text-anchor="end" fill="#231815">10</text>
<line x1="510.8" y1="510.6" x2="513.6" y2="510.6" stroke="#000" stroke-width="1.0"/>
<text x="509.7" y="513.2" font-size="9" text-anchor="end" fill="#231815">20</text>
<line x1="510.8" y1="491.2" x2="513.6" y2="491.2" stroke="#000" stroke-width="1.0"/>
<text x="509.7" y="493.8" font-size="9" text-anchor="end" fill="#231815">30</text>
<line x1="510.8" y1="471.9" x2="513.6" y2="471.9" stroke="#000" stroke-width="1.0"/>
<text x="509.7" y="474.5" font-size="9" text-anchor="end" fill="#231815">40</text>
<line x1="510.8" y1="452.5" x2="513.6" y2="452.5" stroke="#000" stroke-width="1.0"/>
<text x="509.7" y="455.1" font-size="9" text-anchor="end" fill="#231815">50</text>
<line x1="513.6" y1="549.3" x2="513.6" y2="552.5" stroke="#000" stroke-width="1.0"/>
<text x="513.6" y="560.8" font-size="9" text-anchor="middle" fill="#231815">0</text>
<line x1="562.2" y1="549.3" x2="562.2" y2="552.5" stroke="#000" stroke-width="1.0"/>
<text x="562.2" y="560.8" font-size="9" text-anchor="middle" fill="#231815">10</text>
<line x1="610.9" y1="549.3" x2="610.9" y2="552.5" stroke="#000" stroke-width="1.0"/>
<text x="610.9" y="560.8" font-size="9" text-anchor="middle" fill="#231815">20</text>
<line x1="659.5" y1="549.3" x2="659.5" y2="552.5" stroke="#000" stroke-width="1.0"/>
<text x="659.5" y="560.8" font-size="9" text-anchor="middle" fill="#231815">30</text>
<text x="545.0" y="569.5" font-size="9" fill="#231815" textLength="96.0" lengthAdjust="spacingAndGlyphs">Number of stimulation</text>
<text x="495.9" y="499.1" font-size="10" text-anchor="middle" fill="#231815" textLength="35.6" lengthAdjust="spacingAndGlyphs" transform="rotate(-90 495.9 499.1)">ADD (s)</text>
<path d="M518.5,517.4V515.1M516.1,515.1h4.8M523.3,510.6V507.2M520.9,507.2h4.8M528.2,508.6V505.3M525.8,505.3h4.8M533.1,505.7V501.3M530.7,501.3h4.8M537.9,504.8V500.3M535.5,500.3h4.8M542.8,501.9V497.4M540.4,497.4h4.8M547.6,499.9V493.3M545.2,493.3h4.8M552.5,499.9V493.3M550.1,493.3h4.8M557.4,498.0V492.4M555.0,492.4h4.8M562.2,492.2V486.6M559.8,486.6h4.8M567.1,505.7V501.3M564.7,501.3h4.8M572.0,502.8V498.4M569.6,498.4h4.8M576.8,500.9V497.6M574.4,497.6h4.8M581.7,495.1V490.6M579.3,490.6h4.8M586.5,492.2V487.7M584.1,487.7h4.8M591.4,490.3V484.7M589.0,484.7h4.8M596.3,493.2V488.7M593.9,488.7h4.8M601.1,491.2V486.8M598.7,486.8h4.8M606.0,487.3V481.8M603.6,481.8h4.8M610.9,489.3V481.5M608.5,481.5h4.8M615.7,500.9V497.6M613.3,497.6h4.8M620.6,496.1V491.6M618.2,491.6h4.8M625.5,494.1V490.8M623.1,490.8h4.8M630.3,485.4V481.0M627.9,481.0h4.8M635.2,494.1V490.8M632.8,490.8h4.8M640.0,482.5V478.1M637.6,478.1h4.8M644.9,478.6V472.0M642.5,472.0h4.8M649.8,484.4V481.1M647.4,481.1h4.8M654.6,475.7V470.2M652.2,470.2h4.8M659.5,476.7V472.2M657.1,472.2h4.8" fill="none" stroke="#000" stroke-width="1.0"/>
<path d="M518.5,517.4L523.3,510.6L528.2,508.6L533.1,505.7L537.9,504.8L542.8,501.9L547.6,499.9L552.5,499.9L557.4,498.0L562.2,492.2L567.1,505.7L572.0,502.8L576.8,500.9L581.7,495.1L586.5,492.2L591.4,490.3L596.3,493.2L601.1,491.2L606.0,487.3L610.9,489.3L615.7,500.9L620.6,496.1L625.5,494.1L630.3,485.4L635.2,494.1L640.0,482.5L644.9,478.6L649.8,484.4L654.6,475.7L659.5,476.7" fill="none" stroke="#000" stroke-width="1.25"/>
<circle cx="518.5" cy="517.4" r="2.6" fill="#000"/>
<circle cx="523.3" cy="510.6" r="2.6" fill="#000"/>
<circle cx="528.2" cy="508.6" r="2.6" fill="#000"/>
<circle cx="533.1" cy="505.7" r="2.6" fill="#000"/>
<circle cx="537.9" cy="504.8" r="2.6" fill="#000"/>
<circle cx="542.8" cy="501.9" r="2.6" fill="#000"/>
<circle cx="547.6" cy="499.9" r="2.6" fill="#000"/>
<circle cx="552.5" cy="499.9" r="2.6" fill="#000"/>
<circle cx="557.4" cy="498.0" r="2.6" fill="#000"/>
<circle cx="562.2" cy="492.2" r="2.6" fill="#000"/>
<circle cx="567.1" cy="505.7" r="2.6" fill="#000"/>
<circle cx="572.0" cy="502.8" r="2.6" fill="#000"/>
<circle cx="576.8" cy="500.9" r="2.6" fill="#000"/>
<circle cx="581.7" cy="495.1" r="2.6" fill="#000"/>
<circle cx="586.5" cy="492.2" r="2.6" fill="#000"/>
<circle cx="591.4" cy="490.3" r="2.6" fill="#000"/>
<circle cx="596.3" cy="493.2" r="2.6" fill="#000"/>
<circle cx="601.1" cy="491.2" r="2.6" fill="#000"/>
<circle cx="606.0" cy="487.3" r="2.6" fill="#000"/>
<circle cx="610.9" cy="489.3" r="2.6" fill="#000"/>
<circle cx="615.7" cy="500.9" r="2.6" fill="#000"/>
<circle cx="620.6" cy="496.1" r="2.6" fill="#000"/>
<circle cx="625.5" cy="494.1" r="2.6" fill="#000"/>
<circle cx="630.3" cy="485.4" r="2.6" fill="#000"/>
<circle cx="635.2" cy="494.1" r="2.6" fill="#000"/>
<circle cx="640.0" cy="482.5" r="2.6" fill="#000"/>
<circle cx="644.9" cy="478.6" r="2.6" fill="#000"/>
<circle cx="649.8" cy="484.4" r="2.6" fill="#000"/>
<circle cx="654.6" cy="475.7" r="2.6" fill="#000"/>
<circle cx="659.5" cy="476.7" r="2.6" fill="#000"/>
<path d="M518.5,525.1V526.9M516.1,526.9h4.8M523.3,521.2V523.0M520.9,523.0h4.8M528.2,517.4V519.1M525.8,519.1h4.8M533.1,512.5V514.7M530.7,514.7h4.8M537.9,514.5V516.7M535.5,516.7h4.8M542.8,512.5V514.7M540.4,514.7h4.8M547.6,509.6V511.8M545.2,511.8h4.8M552.5,511.5V514.9M550.1,514.9h4.8M557.4,510.6V513.9M555.0,513.9h4.8M562.2,507.7V511.0M559.8,511.0h4.8M567.1,515.4V518.8M564.7,518.8h4.8M572.0,510.6V515.0M569.6,515.0h4.8M576.8,508.6V510.9M574.4,510.9h4.8M581.7,507.7V509.9M579.3,509.9h4.8M586.5,504.8V507.0M584.1,507.0h4.8M591.4,507.7V512.1M589.0,512.1h4.8M596.3,502.8V506.2M593.9,506.2h4.8M601.1,500.9V505.4M598.7,505.4h4.8M606.0,501.9V506.3M603.6,506.3h4.8M610.9,500.9V504.2M608.5,504.2h4.8M615.7,511.5V516.0M613.3,516.0h4.8M620.6,509.6V515.2M618.2,515.2h4.8M625.5,500.9V503.1M623.1,503.1h4.8M630.3,505.7V511.3M627.9,511.3h4.8M635.2,499.0V504.5M632.8,504.5h4.8M640.0,499.0V502.3M637.6,502.3h4.8M644.9,507.7V513.2M642.5,513.2h4.8M649.8,491.2V494.6M647.4,494.6h4.8M654.6,497.0V502.6M652.2,502.6h4.8M659.5,498.0V503.6M657.1,503.6h4.8" fill="none" stroke="#ff8000" stroke-width="1.0"/>
<path d="M518.5,525.1L523.3,521.2L528.2,517.4L533.1,512.5L537.9,514.5L542.8,512.5L547.6,509.6L552.5,511.5L557.4,510.6L562.2,507.7L567.1,515.4L572.0,510.6L576.8,508.6L581.7,507.7L586.5,504.8L591.4,507.7L596.3,502.8L601.1,500.9L606.0,501.9L610.9,500.9L615.7,511.5L620.6,509.6L625.5,500.9L630.3,505.7L635.2,499.0L640.0,499.0L644.9,507.7L649.8,491.2L654.6,497.0L659.5,498.0" fill="none" stroke="#ff8000" stroke-width="1.25"/>
<circle cx="518.5" cy="525.1" r="2.6" fill="#ff8000"/>
<circle cx="523.3" cy="521.2" r="2.6" fill="#ff8000"/>
<circle cx="528.2" cy="517.4" r="2.6" fill="#ff8000"/>
<circle cx="533.1" cy="512.5" r="2.6" fill="#ff8000"/>
<circle cx="537.9" cy="514.5" r="2.6" fill="#ff8000"/>
<circle cx="542.8" cy="512.5" r="2.6" fill="#ff8000"/>
<circle cx="547.6" cy="509.6" r="2.6" fill="#ff8000"/>
<circle cx="552.5" cy="511.5" r="2.6" fill="#ff8000"/>
<circle cx="557.4" cy="510.6" r="2.6" fill="#ff8000"/>
<circle cx="562.2" cy="507.7" r="2.6" fill="#ff8000"/>
<circle cx="567.1" cy="515.4" r="2.6" fill="#ff8000"/>
<circle cx="572.0" cy="510.6" r="2.6" fill="#ff8000"/>
<circle cx="576.8" cy="508.6" r="2.6" fill="#ff8000"/>
<circle cx="581.7" cy="507.7" r="2.6" fill="#ff8000"/>
<circle cx="586.5" cy="504.8" r="2.6" fill="#ff8000"/>
<circle cx="591.4" cy="507.7" r="2.6" fill="#ff8000"/>
<circle cx="596.3" cy="502.8" r="2.6" fill="#ff8000"/>
<circle cx="601.1" cy="500.9" r="2.6" fill="#ff8000"/>
<circle cx="606.0" cy="501.9" r="2.6" fill="#ff8000"/>
<circle cx="610.9" cy="500.9" r="2.6" fill="#ff8000"/>
<circle cx="615.7" cy="511.5" r="2.6" fill="#ff8000"/>
<circle cx="620.6" cy="509.6" r="2.6" fill="#ff8000"/>
<circle cx="625.5" cy="500.9" r="2.6" fill="#ff8000"/>
<circle cx="630.3" cy="505.7" r="2.6" fill="#ff8000"/>
<circle cx="635.2" cy="499.0" r="2.6" fill="#ff8000"/>
<circle cx="640.0" cy="499.0" r="2.6" fill="#ff8000"/>
<circle cx="644.9" cy="507.7" r="2.6" fill="#ff8000"/>
<circle cx="649.8" cy="491.2" r="2.6" fill="#ff8000"/>
<circle cx="654.6" cy="497.0" r="2.6" fill="#ff8000"/>
<circle cx="659.5" cy="498.0" r="2.6" fill="#ff8000"/>
<line x1="504.9" y1="443.1" x2="518.6" y2="443.1" stroke="#ff8000" stroke-width="1.1"/>
<circle cx="511.8" cy="443.1" r="2.6" fill="#ff8000"/>
<text x="526.8" y="446.0" font-size="10" fill="#231815" textLength="150.3" lengthAdjust="spacingAndGlyphs">CaMKIIα-Arch<tspan font-size="5.5" dy="-3.4">SUB-ANT</tspan><tspan dy="3.4">-Light (n=11)</tspan></text>
<text x="670.1" y="504.8" font-size="14.5" font-weight="normal" text-anchor="middle" fill="#231815">**</text>
<text x="0.6" y="161.9" font-size="20" font-weight="normal" fill="#000">c</text>
<line x1="45.2" y1="162.6" x2="45.2" y2="262.3" stroke="#000" stroke-width="1.1"/>
<line x1="44.7" y1="261.8" x2="111.2" y2="261.8" stroke="#000" stroke-width="1.1"/>
<line x1="78.4" y1="261.8" x2="78.4" y2="265.0" stroke="#000" stroke-width="1.0"/>
<line x1="42.6" y1="261.8" x2="45.2" y2="261.8" stroke="#000" stroke-width="1.0"/>
<text x="41.3" y="265.0" font-size="9" text-anchor="end" fill="#231815">0</text>
<line x1="42.6" y1="237.1" x2="45.2" y2="237.1" stroke="#000" stroke-width="1.0"/>
<text x="41.3" y="240.3" font-size="9" text-anchor="end" fill="#231815">10</text>
<line x1="42.6" y1="212.4" x2="45.2" y2="212.4" stroke="#000" stroke-width="1.0"/>
<text x="41.3" y="215.6" font-size="9" text-anchor="end" fill="#231815">20</text>
<line x1="42.6" y1="187.8" x2="45.2" y2="187.8" stroke="#000" stroke-width="1.0"/>
<text x="41.3" y="191.0" font-size="9" text-anchor="end" fill="#231815">30</text>
<line x1="42.6" y1="163.1" x2="45.2" y2="163.1" stroke="#000" stroke-width="1.0"/>
<text x="41.3" y="166.3" font-size="9" text-anchor="end" fill="#231815">40</text>
<text x="26.9" y="213.8" font-size="9.5" text-anchor="middle" fill="#231815" textLength="103.7" lengthAdjust="spacingAndGlyphs" transform="rotate(-90 26.9 213.8)">Number of stimulation</text>
<text x="63.9" y="273.6" font-size="8.8" fill="#231815" textLength="28.6" lengthAdjust="spacingAndGlyphs">to sGS</text>
<path d="M57.3,261.8V215.9H76.0V261.8" fill="none" stroke="#000" stroke-width="1.3"/>
<path d="M66.7,215.9V210.3M61.9,210.3h9.6" fill="none" stroke="#000" stroke-width="1.1"/>
<circle cx="66.4" cy="180.9" r="1.85" fill="#fff" stroke="#000" stroke-width="1.2"/>
<circle cx="60.0" cy="203.0" r="1.85" fill="#fff" stroke="#000" stroke-width="1.2"/>
<circle cx="66.4" cy="205.7" r="1.85" fill="#fff" stroke="#000" stroke-width="1.2"/>
<circle cx="73.0" cy="207.9" r="1.85" fill="#fff" stroke="#000" stroke-width="1.2"/>
<circle cx="66.4" cy="215.4" r="1.85" fill="#fff" stroke="#000" stroke-width="1.2"/>
<circle cx="66.4" cy="222.6" r="1.85" fill="#fff" stroke="#000" stroke-width="1.2"/>
<circle cx="60.0" cy="225.3" r="1.85" fill="#fff" stroke="#000" stroke-width="1.2"/>
<circle cx="66.4" cy="227.6" r="1.85" fill="#fff" stroke="#000" stroke-width="1.2"/>
<circle cx="73.0" cy="230.3" r="1.85" fill="#fff" stroke="#000" stroke-width="1.2"/>
<circle cx="66.4" cy="237.6" r="1.85" fill="#fff" stroke="#000" stroke-width="1.2"/>
<path d="M80.5,261.8V229.2H98.9V261.8" fill="none" stroke="#2020cc" stroke-width="1.3"/>
<path d="M89.7,229.2V225.8M84.9,225.8h9.6" fill="none" stroke="#2020cc" stroke-width="1.1"/>
<circle cx="89.7" cy="195.6" r="1.85" fill="#fff" stroke="#2020cc" stroke-width="1.2"/>
<circle cx="89.7" cy="207.8" r="1.85" fill="#fff" stroke="#2020cc" stroke-width="1.2"/>
<circle cx="89.7" cy="217.8" r="1.85" fill="#fff" stroke="#2020cc" stroke-width="1.2"/>
<circle cx="87.3" cy="227.7" r="1.85" fill="#fff" stroke="#2020cc" stroke-width="1.2"/>
<circle cx="92.1" cy="230.1" r="1.85" fill="#fff" stroke="#2020cc" stroke-width="1.2"/>
<circle cx="97.0" cy="230.1" r="1.85" fill="#fff" stroke="#2020cc" stroke-width="1.2"/>
<circle cx="82.6" cy="232.5" r="1.85" fill="#fff" stroke="#2020cc" stroke-width="1.2"/>
<circle cx="89.7" cy="239.9" r="1.85" fill="#fff" stroke="#2020cc" stroke-width="1.2"/>
<circle cx="82.6" cy="244.8" r="1.85" fill="#fff" stroke="#2020cc" stroke-width="1.2"/>
<circle cx="87.3" cy="244.8" r="1.85" fill="#fff" stroke="#2020cc" stroke-width="1.2"/>
<circle cx="92.1" cy="244.8" r="1.85" fill="#fff" stroke="#2020cc" stroke-width="1.2"/>
<circle cx="97.0" cy="249.9" r="1.85" fill="#fff" stroke="#2020cc" stroke-width="1.2"/>
<text x="65.9" y="260.6" font-size="10.4" font-weight="normal" text-anchor="middle" fill="#222">10</text>
<text x="88.7" y="260.6" font-size="10.4" font-weight="normal" text-anchor="middle" fill="#222">12</text>
<text x="89.7" y="169.8" font-size="14.5" font-weight="normal" text-anchor="middle" fill="#231815">*</text>
<text x="0.3" y="586.9" font-size="20" font-weight="normal" fill="#000">k</text>
<line x1="45.2" y1="586.2" x2="45.2" y2="685.9" stroke="#000" stroke-width="1.1"/>
<line x1="44.7" y1="685.4" x2="111.2" y2="685.4" stroke="#000" stroke-width="1.1"/>
<line x1="77.5" y1="685.4" x2="77.5" y2="688.6" stroke="#000" stroke-width="1.0"/>
<line x1="42.6" y1="685.4" x2="45.2" y2="685.4" stroke="#000" stroke-width="1.0"/>
<text x="41.3" y="688.6" font-size="9" text-anchor="end" fill="#231815">0</text>
<line x1="42.6" y1="660.7" x2="45.2" y2="660.7" stroke="#000" stroke-width="1.0"/>
<text x="41.3" y="663.9" font-size="9" text-anchor="end" fill="#231815">10</text>
<line x1="42.6" y1="636.0" x2="45.2" y2="636.0" stroke="#000" stroke-width="1.0"/>
<text x="41.3" y="639.2" font-size="9" text-anchor="end" fill="#231815">20</text>
<line x1="42.6" y1="611.4" x2="45.2" y2="611.4" stroke="#000" stroke-width="1.0"/>
<text x="41.3" y="614.6" font-size="9" text-anchor="end" fill="#231815">30</text>
<line x1="42.6" y1="586.7" x2="45.2" y2="586.7" stroke="#000" stroke-width="1.0"/>
<text x="41.3" y="589.9" font-size="9" text-anchor="end" fill="#231815">40</text>
<text x="26.9" y="636.0" font-size="9.5" text-anchor="middle" fill="#231815" textLength="103.9" lengthAdjust="spacingAndGlyphs" transform="rotate(-90 26.9 636.0)">Number of stimulation</text>
<text x="63.9" y="697.2" font-size="8.8" fill="#231815" textLength="28.6" lengthAdjust="spacingAndGlyphs">to sGS</text>
<path d="M56.6,685.4V647.4H75.2V685.4" fill="none" stroke="#000" stroke-width="1.3"/>
<path d="M65.9,647.4V642.4M61.1,642.4h9.6" fill="none" stroke="#000" stroke-width="1.1"/>
<circle cx="59.4" cy="633.6" r="1.85" fill="#fff" stroke="#000" stroke-width="1.2"/>
<circle cx="65.9" cy="633.6" r="1.85" fill="#fff" stroke="#000" stroke-width="1.2"/>
<circle cx="72.4" cy="636.2" r="1.85" fill="#fff" stroke="#000" stroke-width="1.2"/>
<circle cx="72.4" cy="643.3" r="1.85" fill="#fff" stroke="#000" stroke-width="1.2"/>
<circle cx="59.4" cy="645.8" r="1.85" fill="#fff" stroke="#000" stroke-width="1.2"/>
<circle cx="65.9" cy="645.8" r="1.85" fill="#fff" stroke="#000" stroke-width="1.2"/>
<circle cx="62.6" cy="653.3" r="1.85" fill="#fff" stroke="#000" stroke-width="1.2"/>
<circle cx="69.2" cy="658.3" r="1.85" fill="#fff" stroke="#000" stroke-width="1.2"/>
<circle cx="65.9" cy="672.7" r="1.85" fill="#fff" stroke="#000" stroke-width="1.2"/>
<path d="M80.1,685.4V620.1H98.5V685.4" fill="none" stroke="#ff6200" stroke-width="1.3"/>
<path d="M89.3,620.1V616.1M84.5,616.1h9.6" fill="none" stroke="#ff6200" stroke-width="1.1"/>
<circle cx="86.8" cy="604.1" r="1.85" fill="#fff" stroke="#ff6200" stroke-width="1.2"/>
<circle cx="91.6" cy="604.1" r="1.85" fill="#fff" stroke="#ff6200" stroke-width="1.2"/>
<circle cx="86.8" cy="611.3" r="1.85" fill="#fff" stroke="#ff6200" stroke-width="1.2"/>
<circle cx="91.6" cy="613.8" r="1.85" fill="#fff" stroke="#ff6200" stroke-width="1.2"/>
<circle cx="82.0" cy="616.4" r="1.85" fill="#fff" stroke="#ff6200" stroke-width="1.2"/>
<circle cx="96.7" cy="616.4" r="1.85" fill="#fff" stroke="#ff6200" stroke-width="1.2"/>
<circle cx="84.2" cy="621.3" r="1.85" fill="#fff" stroke="#ff6200" stroke-width="1.2"/>
<circle cx="89.2" cy="626.3" r="1.85" fill="#fff" stroke="#ff6200" stroke-width="1.2"/>
<circle cx="94.0" cy="626.3" r="1.85" fill="#fff" stroke="#ff6200" stroke-width="1.2"/>
<circle cx="86.8" cy="636.2" r="1.85" fill="#fff" stroke="#ff6200" stroke-width="1.2"/>
<circle cx="91.6" cy="640.6" r="1.85" fill="#fff" stroke="#ff6200" stroke-width="1.2"/>
<text x="65.9" y="684.2" font-size="10.4" font-weight="normal" text-anchor="middle" fill="#222">9</text>
<text x="89.2" y="684.2" font-size="10.4" font-weight="normal" text-anchor="middle" fill="#222">11</text>
<text x="90.2" y="592.3" font-size="14.5" font-weight="normal" text-anchor="middle" fill="#231815">***</text>
<text x="126.9" y="161.9" font-size="20" font-weight="normal" fill="#000">d</text>
<rect x="190.4" y="161.9" width="22.5" height="92.3" fill="url(#gb)"/>
<line x1="153.2" y1="168.2" x2="153.2" y2="265.6" stroke="#000" stroke-width="1.1"/>
<line x1="152.7" y1="265.1" x2="250.1" y2="265.1" stroke="#000" stroke-width="1.1"/>
<line x1="150.6" y1="265.1" x2="153.2" y2="265.1" stroke="#000" stroke-width="1.0"/>
<text x="149.3" y="268.3" font-size="9" text-anchor="end" fill="#231815">0</text>
<line x1="150.6" y1="246.2" x2="153.2" y2="246.2" stroke="#000" stroke-width="1.0"/>
<text x="149.3" y="249.4" font-size="9" text-anchor="end" fill="#231815">1</text>
<line x1="150.6" y1="227.2" x2="153.2" y2="227.2" stroke="#000" stroke-width="1.0"/>
<text x="149.3" y="230.4" font-size="9" text-anchor="end" fill="#231815">2</text>
<line x1="150.6" y1="208.3" x2="153.2" y2="208.3" stroke="#000" stroke-width="1.0"/>
<text x="149.3" y="211.5" font-size="9" text-anchor="end" fill="#231815">3</text>
<line x1="150.6" y1="189.3" x2="153.2" y2="189.3" stroke="#000" stroke-width="1.0"/>
<text x="149.3" y="192.5" font-size="9" text-anchor="end" fill="#231815">4</text>
<line x1="150.6" y1="170.4" x2="153.2" y2="170.4" stroke="#000" stroke-width="1.0"/>
<text x="149.3" y="173.6" font-size="9" text-anchor="end" fill="#231815">5</text>
<line x1="169.6" y1="265.1" x2="169.6" y2="267.9" stroke="#000" stroke-width="1.0"/>
<line x1="201.8" y1="265.1" x2="201.8" y2="267.9" stroke="#000" stroke-width="1.0"/>
<line x1="233.9" y1="265.1" x2="233.9" y2="267.9" stroke="#000" stroke-width="1.0"/>
<text x="162.8" y="277.1" font-size="9" fill="#231815" textLength="13.7" lengthAdjust="spacingAndGlyphs">Pre</text>
<text x="190.8" y="277.1" font-size="9" fill="#231815" textLength="22.1" lengthAdjust="spacingAndGlyphs">Light</text>
<text x="223.7" y="277.1" font-size="9" fill="#231815" textLength="19.4" lengthAdjust="spacingAndGlyphs">Post</text>
<text x="139.9" y="215.2" font-size="9.5" text-anchor="middle" fill="#231815" textLength="65.0" lengthAdjust="spacingAndGlyphs" transform="rotate(-90 139.9 215.2)">Seizure Stage</text>
<text x="223.1" y="260.4" font-size="10" fill="#231815" textLength="23.1" lengthAdjust="spacingAndGlyphs">n=11</text>
<path d="M163.8,170.4L194.5,170.4L225.1,170.4M168.9,170.4L198.6,170.4L228.2,170.4M172.4,170.4L202.3,170.4L231.3,170.4M175.7,170.4L206.3,170.4L235.4,170.4M164.2,177.0L210.4,170.4L239.4,170.4M166.9,177.0L196.5,170.4L243.1,170.4M173.0,177.0L200.4,170.4L234.7,179.9M176.1,177.0L204.3,170.4L239.9,179.9M178.5,177.0L201.8,177.0L233.4,170.4M170.0,180.8L208.3,170.4L237.4,170.4M169.8,177.0L192.6,170.4L241.2,170.4" fill="none" stroke="#000" stroke-width="1.1"/>
<circle cx="163.8" cy="170.4" r="2.1" fill="#fff" stroke="#000" stroke-width="1.1"/>
<circle cx="194.5" cy="170.4" r="2.1" fill="#fff" stroke="#000" stroke-width="1.1"/>
<circle cx="225.1" cy="170.4" r="2.1" fill="#fff" stroke="#000" stroke-width="1.1"/>
<circle cx="168.9" cy="170.4" r="2.1" fill="#fff" stroke="#000" stroke-width="1.1"/>
<circle cx="198.6" cy="170.4" r="2.1" fill="#fff" stroke="#000" stroke-width="1.1"/>
<circle cx="228.2" cy="170.4" r="2.1" fill="#fff" stroke="#000" stroke-width="1.1"/>
<circle cx="172.4" cy="170.4" r="2.1" fill="#fff" stroke="#000" stroke-width="1.1"/>
<circle cx="202.3" cy="170.4" r="2.1" fill="#fff" stroke="#000" stroke-width="1.1"/>
<circle cx="231.3" cy="170.4" r="2.1" fill="#fff" stroke="#000" stroke-width="1.1"/>
<circle cx="175.7" cy="170.4" r="2.1" fill="#fff" stroke="#000" stroke-width="1.1"/>
<circle cx="206.3" cy="170.4" r="2.1" fill="#fff" stroke="#000" stroke-width="1.1"/>
<circle cx="235.4" cy="170.4" r="2.1" fill="#fff" stroke="#000" stroke-width="1.1"/>
<circle cx="164.2" cy="177.0" r="2.1" fill="#fff" stroke="#000" stroke-width="1.1"/>
<circle cx="210.4" cy="170.4" r="2.1" fill="#fff" stroke="#000" stroke-width="1.1"/>
<circle cx="239.4" cy="170.4" r="2.1" fill="#fff" stroke="#000" stroke-width="1.1"/>
<circle cx="166.9" cy="177.0" r="2.1" fill="#fff" stroke="#000" stroke-width="1.1"/>
<circle cx="196.5" cy="170.4" r="2.1" fill="#fff" stroke="#000" stroke-width="1.1"/>
<circle cx="243.1" cy="170.4" r="2.1" fill="#fff" stroke="#000" stroke-width="1.1"/>
<circle cx="173.0" cy="177.0" r="2.1" fill="#fff" stroke="#000" stroke-width="1.1"/>
<circle cx="200.4" cy="170.4" r="2.1" fill="#fff" stroke="#000" stroke-width="1.1"/>
<circle cx="234.7" cy="179.9" r="2.1" fill="#fff" stroke="#000" stroke-width="1.1"/>
<circle cx="176.1" cy="177.0" r="2.1" fill="#fff" stroke="#000" stroke-width="1.1"/>
<circle cx="204.3" cy="170.4" r="2.1" fill="#fff" stroke="#000" stroke-width="1.1"/>
<circle cx="239.9" cy="179.9" r="2.1" fill="#fff" stroke="#000" stroke-width="1.1"/>
<circle cx="178.5" cy="177.0" r="2.1" fill="#fff" stroke="#000" stroke-width="1.1"/>
<circle cx="201.8" cy="177.0" r="2.1" fill="#fff" stroke="#000" stroke-width="1.1"/>
<circle cx="233.4" cy="170.4" r="2.1" fill="#fff" stroke="#000" stroke-width="1.1"/>
<circle cx="170.0" cy="180.8" r="2.1" fill="#fff" stroke="#000" stroke-width="1.1"/>
<circle cx="208.3" cy="170.4" r="2.1" fill="#fff" stroke="#000" stroke-width="1.1"/>
<circle cx="237.4" cy="170.4" r="2.1" fill="#fff" stroke="#000" stroke-width="1.1"/>
<circle cx="169.8" cy="177.0" r="2.1" fill="#fff" stroke="#000" stroke-width="1.1"/>
<circle cx="192.6" cy="170.4" r="2.1" fill="#fff" stroke="#000" stroke-width="1.1"/>
<circle cx="241.2" cy="170.4" r="2.1" fill="#fff" stroke="#000" stroke-width="1.1"/>
<text x="259.3" y="161.9" font-size="20" font-weight="normal" fill="#000">e</text>
<rect x="328.2" y="163.9" width="21.8" height="88.1" fill="url(#gb)"/>
<line x1="290.2" y1="165.8" x2="290.2" y2="264.9" stroke="#000" stroke-width="1.1"/>
<line x1="289.7" y1="264.4" x2="387.8" y2="264.4" stroke="#000" stroke-width="1.1"/>
<line x1="287.6" y1="264.4" x2="290.2" y2="264.4" stroke="#000" stroke-width="1.0"/>
<text x="286.3" y="267.6" font-size="9" text-anchor="end" fill="#231815">0</text>
<line x1="287.6" y1="232.3" x2="290.2" y2="232.3" stroke="#000" stroke-width="1.0"/>
<text x="286.3" y="235.5" font-size="9" text-anchor="end" fill="#231815">20</text>
<line x1="287.6" y1="200.1" x2="290.2" y2="200.1" stroke="#000" stroke-width="1.0"/>
<text x="286.3" y="203.3" font-size="9" text-anchor="end" fill="#231815">40</text>
<line x1="287.6" y1="168.0" x2="290.2" y2="168.0" stroke="#000" stroke-width="1.0"/>
<text x="286.3" y="171.2" font-size="9" text-anchor="end" fill="#231815">60</text>
<line x1="306.1" y1="264.4" x2="306.1" y2="267.2" stroke="#000" stroke-width="1.0"/>
<line x1="338.8" y1="264.4" x2="338.8" y2="267.2" stroke="#000" stroke-width="1.0"/>
<line x1="370.9" y1="264.4" x2="370.9" y2="267.2" stroke="#000" stroke-width="1.0"/>
<text x="298.3" y="275.7" font-size="9" fill="#231815" textLength="14.3" lengthAdjust="spacingAndGlyphs">Pre</text>
<text x="326.9" y="275.7" font-size="9" fill="#231815" textLength="22.5" lengthAdjust="spacingAndGlyphs">Light</text>
<text x="360.7" y="275.7" font-size="9" fill="#231815" textLength="19.4" lengthAdjust="spacingAndGlyphs">Post</text>
<text x="273.0" y="215.9" font-size="9.5" text-anchor="middle" fill="#231815" textLength="35.8" lengthAdjust="spacingAndGlyphs" transform="rotate(-90 273.0 215.9)">ADD (s)</text>
<text x="358.8" y="260.4" font-size="10" fill="#231815" textLength="22.5" lengthAdjust="spacingAndGlyphs">n=11</text>
<path d="M306.1,183.1L338.8,187.3L370.9,185.8M306.1,196.9L338.8,185.2L370.9,192.9M306.1,207.8L338.8,188.9L370.9,207.7M306.1,209.8L338.8,192.1L370.9,213.3M306.1,211.4L338.8,203.5L370.9,202.7M306.1,213.8L338.8,193.4L370.9,196.9M306.1,216.4L338.8,209.8L370.9,217.5M306.1,216.8L338.8,204.1L370.9,210.3M306.1,220.5L338.8,217.8L370.9,221.0M306.1,222.6L338.8,187.4L370.9,215.7M306.1,223.9L338.8,212.3L370.9,219.1" fill="none" stroke="#000" stroke-width="1.1"/>
<circle cx="306.1" cy="183.1" r="2.1" fill="#fff" stroke="#000" stroke-width="1.1"/>
<circle cx="338.8" cy="187.3" r="2.1" fill="#fff" stroke="#000" stroke-width="1.1"/>
<circle cx="370.9" cy="185.8" r="2.1" fill="#fff" stroke="#000" stroke-width="1.1"/>
<circle cx="306.1" cy="196.9" r="2.1" fill="#fff" stroke="#000" stroke-width="1.1"/>
<circle cx="338.8" cy="185.2" r="2.1" fill="#fff" stroke="#000" stroke-width="1.1"/>
<circle cx="370.9" cy="192.9" r="2.1" fill="#fff" stroke="#000" stroke-width="1.1"/>
<circle cx="306.1" cy="207.8" r="2.1" fill="#fff" stroke="#000" stroke-width="1.1"/>
<circle cx="338.8" cy="188.9" r="2.1" fill="#fff" stroke="#000" stroke-width="1.1"/>
<circle cx="370.9" cy="207.7" r="2.1" fill="#fff" stroke="#000" stroke-width="1.1"/>
<circle cx="306.1" cy="209.8" r="2.1" fill="#fff" stroke="#000" stroke-width="1.1"/>
<circle cx="338.8" cy="192.1" r="2.1" fill="#fff" stroke="#000" stroke-width="1.1"/>
<circle cx="370.9" cy="213.3" r="2.1" fill="#fff" stroke="#000" stroke-width="1.1"/>
<circle cx="306.1" cy="211.4" r="2.1" fill="#fff" stroke="#000" stroke-width="1.1"/>
<circle cx="338.8" cy="203.5" r="2.1" fill="#fff" stroke="#000" stroke-width="1.1"/>
<circle cx="370.9" cy="202.7" r="2.1" fill="#fff" stroke="#000" stroke-width="1.1"/>
<circle cx="306.1" cy="213.8" r="2.1" fill="#fff" stroke="#000" stroke-width="1.1"/>
<circle cx="338.8" cy="193.4" r="2.1" fill="#fff" stroke="#000" stroke-width="1.1"/>
<circle cx="370.9" cy="196.9" r="2.1" fill="#fff" stroke="#000" stroke-width="1.1"/>
<circle cx="306.1" cy="216.4" r="2.1" fill="#fff" stroke="#000" stroke-width="1.1"/>
<circle cx="338.8" cy="209.8" r="2.1" fill="#fff" stroke="#000" stroke-width="1.1"/>
<circle cx="370.9" cy="217.5" r="2.1" fill="#fff" stroke="#000" stroke-width="1.1"/>
<circle cx="306.1" cy="216.8" r="2.1" fill="#fff" stroke="#000" stroke-width="1.1"/>
<circle cx="338.8" cy="204.1" r="2.1" fill="#fff" stroke="#000" stroke-width="1.1"/>
<circle cx="370.9" cy="210.3" r="2.1" fill="#fff" stroke="#000" stroke-width="1.1"/>
<circle cx="306.1" cy="220.5" r="2.1" fill="#fff" stroke="#000" stroke-width="1.1"/>
<circle cx="338.8" cy="217.8" r="2.1" fill="#fff" stroke="#000" stroke-width="1.1"/>
<circle cx="370.9" cy="221.0" r="2.1" fill="#fff" stroke="#000" stroke-width="1.1"/>
<circle cx="306.1" cy="222.6" r="2.1" fill="#fff" stroke="#000" stroke-width="1.1"/>
<circle cx="338.8" cy="187.4" r="2.1" fill="#fff" stroke="#000" stroke-width="1.1"/>
<circle cx="370.9" cy="215.7" r="2.1" fill="#fff" stroke="#000" stroke-width="1.1"/>
<circle cx="306.1" cy="223.9" r="2.1" fill="#fff" stroke="#000" stroke-width="1.1"/>
<circle cx="338.8" cy="212.3" r="2.1" fill="#fff" stroke="#000" stroke-width="1.1"/>
<circle cx="370.9" cy="219.1" r="2.1" fill="#fff" stroke="#000" stroke-width="1.1"/>
<text x="338.8" y="256.2" font-size="14.5" font-weight="normal" text-anchor="middle" fill="#231815">*</text>
<text x="338.8" y="261.3" font-size="8.6" text-anchor="middle" fill="#222" textLength="4.6" lengthAdjust="spacingAndGlyphs">#</text>
<text x="398.0" y="162.5" font-size="20" font-weight="normal" fill="#000">f</text>
<rect x="465.2" y="164.7" width="21.7" height="87.3" fill="url(#gb)"/>
<line x1="428.2" y1="167.2" x2="428.2" y2="264.9" stroke="#000" stroke-width="1.1"/>
<line x1="427.7" y1="264.4" x2="523.9" y2="264.4" stroke="#000" stroke-width="1.1"/>
<line x1="425.6" y1="264.4" x2="428.2" y2="264.4" stroke="#000" stroke-width="1.0"/>
<text x="424.3" y="267.6" font-size="9" text-anchor="end" fill="#231815">0</text>
<line x1="425.6" y1="240.6" x2="428.2" y2="240.6" stroke="#000" stroke-width="1.0"/>
<text x="424.3" y="243.8" font-size="9" text-anchor="end" fill="#231815">10</text>
<line x1="425.6" y1="216.9" x2="428.2" y2="216.9" stroke="#000" stroke-width="1.0"/>
<text x="424.3" y="220.1" font-size="9" text-anchor="end" fill="#231815">20</text>
<line x1="425.6" y1="193.2" x2="428.2" y2="193.2" stroke="#000" stroke-width="1.0"/>
<text x="424.3" y="196.3" font-size="9" text-anchor="end" fill="#231815">30</text>
<line x1="425.6" y1="169.4" x2="428.2" y2="169.4" stroke="#000" stroke-width="1.0"/>
<text x="424.3" y="172.6" font-size="9" text-anchor="end" fill="#231815">40</text>
<line x1="444.2" y1="264.4" x2="444.2" y2="267.2" stroke="#000" stroke-width="1.0"/>
<line x1="476.2" y1="264.4" x2="476.2" y2="267.2" stroke="#000" stroke-width="1.0"/>
<line x1="508.1" y1="264.4" x2="508.1" y2="267.2" stroke="#000" stroke-width="1.0"/>
<text x="437.0" y="275.7" font-size="9" fill="#231815" textLength="13.9" lengthAdjust="spacingAndGlyphs">Pre</text>
<text x="464.6" y="275.7" font-size="9" fill="#231815" textLength="22.5" lengthAdjust="spacingAndGlyphs">Light</text>
<text x="497.9" y="275.7" font-size="9" fill="#231815" textLength="19.8" lengthAdjust="spacingAndGlyphs">Post</text>
<text x="410.7" y="215.4" font-size="9.5" text-anchor="middle" fill="#231815" textLength="36.0" lengthAdjust="spacingAndGlyphs" transform="rotate(-90 410.7 215.4)">GSD (s)</text>
<text x="496.7" y="260.4" font-size="10" fill="#231815" textLength="23.1" lengthAdjust="spacingAndGlyphs">n=11</text>
<path d="M444.2,201.0L476.2,208.1L508.1,214.8M444.2,221.2L476.2,191.5L508.1,212.4M444.2,222.6L476.2,216.4L508.1,227.1M444.2,225.2L476.2,200.0L508.1,231.6M444.2,227.1L476.2,218.1L508.1,228.5M444.2,229.2L476.2,203.6L508.1,234.7M444.2,233.8L476.2,229.7L508.1,228.5M444.2,240.9L476.2,198.4L508.1,230.0M444.2,243.0L476.2,205.5L508.1,238.3M444.2,244.9L476.2,215.0L508.1,245.4M444.2,246.6L476.2,202.7L508.1,233.3" fill="none" stroke="#000" stroke-width="1.1"/>
<circle cx="444.2" cy="201.0" r="2.1" fill="#fff" stroke="#000" stroke-width="1.1"/>
<circle cx="476.2" cy="208.1" r="2.1" fill="#fff" stroke="#000" stroke-width="1.1"/>
<circle cx="508.1" cy="214.8" r="2.1" fill="#fff" stroke="#000" stroke-width="1.1"/>
<circle cx="444.2" cy="221.2" r="2.1" fill="#fff" stroke="#000" stroke-width="1.1"/>
<circle cx="476.2" cy="191.5" r="2.1" fill="#fff" stroke="#000" stroke-width="1.1"/>
<circle cx="508.1" cy="212.4" r="2.1" fill="#fff" stroke="#000" stroke-width="1.1"/>
<circle cx="444.2" cy="222.6" r="2.1" fill="#fff" stroke="#000" stroke-width="1.1"/>
<circle cx="476.2" cy="216.4" r="2.1" fill="#fff" stroke="#000" stroke-width="1.1"/>
<circle cx="508.1" cy="227.1" r="2.1" fill="#fff" stroke="#000" stroke-width="1.1"/>
<circle cx="444.2" cy="225.2" r="2.1" fill="#fff" stroke="#000" stroke-width="1.1"/>
<circle cx="476.2" cy="200.0" r="2.1" fill="#fff" stroke="#000" stroke-width="1.1"/>
<circle cx="508.1" cy="231.6" r="2.1" fill="#fff" stroke="#000" stroke-width="1.1"/>
<circle cx="444.2" cy="227.1" r="2.1" fill="#fff" stroke="#000" stroke-width="1.1"/>
<circle cx="476.2" cy="218.1" r="2.1" fill="#fff" stroke="#000" stroke-width="1.1"/>
<circle cx="508.1" cy="228.5" r="2.1" fill="#fff" stroke="#000" stroke-width="1.1"/>
<circle cx="444.2" cy="229.2" r="2.1" fill="#fff" stroke="#000" stroke-width="1.1"/>
<circle cx="476.2" cy="203.6" r="2.1" fill="#fff" stroke="#000" stroke-width="1.1"/>
<circle cx="508.1" cy="234.7" r="2.1" fill="#fff" stroke="#000" stroke-width="1.1"/>
<circle cx="444.2" cy="233.8" r="2.1" fill="#fff" stroke="#000" stroke-width="1.1"/>
<circle cx="476.2" cy="229.7" r="2.1" fill="#fff" stroke="#000" stroke-width="1.1"/>
<circle cx="508.1" cy="228.5" r="2.1" fill="#fff" stroke="#000" stroke-width="1.1"/>
<circle cx="444.2" cy="240.9" r="2.1" fill="#fff" stroke="#000" stroke-width="1.1"/>
<circle cx="476.2" cy="198.4" r="2.1" fill="#fff" stroke="#000" stroke-width="1.1"/>
<circle cx="508.1" cy="230.0" r="2.1" fill="#fff" stroke="#000" stroke-width="1.1"/>
<circle cx="444.2" cy="243.0" r="2.1" fill="#fff" stroke="#000" stroke-width="1.1"/>
<circle cx="476.2" cy="205.5" r="2.1" fill="#fff" stroke="#000" stroke-width="1.1"/>
<circle cx="508.1" cy="238.3" r="2.1" fill="#fff" stroke="#000" stroke-width="1.1"/>
<circle cx="444.2" cy="244.9" r="2.1" fill="#fff" stroke="#000" stroke-width="1.1"/>
<circle cx="476.2" cy="215.0" r="2.1" fill="#fff" stroke="#000" stroke-width="1.1"/>
<circle cx="508.1" cy="245.4" r="2.1" fill="#fff" stroke="#000" stroke-width="1.1"/>
<circle cx="444.2" cy="246.6" r="2.1" fill="#fff" stroke="#000" stroke-width="1.1"/>
<circle cx="476.2" cy="202.7" r="2.1" fill="#fff" stroke="#000" stroke-width="1.1"/>
<circle cx="508.1" cy="233.3" r="2.1" fill="#fff" stroke="#000" stroke-width="1.1"/>
<text x="476.2" y="256.6" font-size="14.5" font-weight="normal" text-anchor="middle" fill="#231815">**</text>
<text x="476.2" y="261.9" font-size="8.6" text-anchor="middle" fill="#222" textLength="13.7" lengthAdjust="spacingAndGlyphs">###</text>
<text x="538.3" y="161.3" font-size="20" font-weight="normal" fill="#000">g</text>
<rect x="613.0" y="168.8" width="20.4" height="80.8" fill="url(#gb)"/>
<line x1="576.4" y1="164.1" x2="576.4" y2="265.2" stroke="#000" stroke-width="1.1"/>
<line x1="575.9" y1="264.7" x2="642.0" y2="264.7" stroke="#000" stroke-width="1.1"/>
<line x1="573.8" y1="264.7" x2="576.4" y2="264.7" stroke="#000" stroke-width="1.0"/>
<text x="572.5" y="267.9" font-size="9" text-anchor="end" fill="#231815">0</text>
<line x1="573.8" y1="245.0" x2="576.4" y2="245.0" stroke="#000" stroke-width="1.0"/>
<text x="572.5" y="248.2" font-size="9" text-anchor="end" fill="#231815">1</text>
<line x1="573.8" y1="225.3" x2="576.4" y2="225.3" stroke="#000" stroke-width="1.0"/>
<text x="572.5" y="228.5" font-size="9" text-anchor="end" fill="#231815">2</text>
<line x1="573.8" y1="205.7" x2="576.4" y2="205.7" stroke="#000" stroke-width="1.0"/>
<text x="572.5" y="208.9" font-size="9" text-anchor="end" fill="#231815">3</text>
<line x1="573.8" y1="186.0" x2="576.4" y2="186.0" stroke="#000" stroke-width="1.0"/>
<text x="572.5" y="189.2" font-size="9" text-anchor="end" fill="#231815">4</text>
<line x1="573.8" y1="166.3" x2="576.4" y2="166.3" stroke="#000" stroke-width="1.0"/>
<text x="572.5" y="169.5" font-size="9" text-anchor="end" fill="#231815">5</text>
<line x1="595.2" y1="264.7" x2="595.2" y2="267.5" stroke="#000" stroke-width="1.0"/>
<line x1="623.2" y1="264.7" x2="623.2" y2="267.5" stroke="#000" stroke-width="1.0"/>
<text x="588.2" y="275.6" font-size="9" fill="#231815" textLength="14.2" lengthAdjust="spacingAndGlyphs">Pre</text>
<text x="612.1" y="275.6" font-size="9" fill="#231815" textLength="22.4" lengthAdjust="spacingAndGlyphs">Light</text>
<text x="561.6" y="214.5" font-size="9" text-anchor="middle" fill="#231815" textLength="83.8" lengthAdjust="spacingAndGlyphs" transform="rotate(-90 561.6 214.5)">EEG Power (10<tspan font-size="5" dy="-3">-9</tspan><tspan dy="3"> V</tspan><tspan font-size="5" dy="-3">2</tspan><tspan dy="3">)</tspan></text>
<text x="644.3" y="260.4" font-size="10" fill="#231815" textLength="23.3" lengthAdjust="spacingAndGlyphs">n=11</text>
<path d="M595.2,196.0L623.2,211.6M595.2,216.3L623.2,178.9M595.2,220.6L623.2,220.2M595.2,236.6L623.2,242.9M595.2,241.1L623.2,203.9M595.2,248.4L623.2,216.3M595.2,249.5L623.2,238.9M595.2,250.9L623.2,240.9M595.2,252.3L623.2,222.8M595.2,256.2L623.2,245.0M595.2,260.8L623.2,247.8" fill="none" stroke="#000" stroke-width="1.1"/>
<circle cx="595.2" cy="196.0" r="2.1" fill="#fff" stroke="#000" stroke-width="1.1"/>
<circle cx="623.2" cy="211.6" r="2.1" fill="#fff" stroke="#000" stroke-width="1.1"/>
<circle cx="595.2" cy="216.3" r="2.1" fill="#fff" stroke="#000" stroke-width="1.1"/>
<circle cx="623.2" cy="178.9" r="2.1" fill="#fff" stroke="#000" stroke-width="1.1"/>
<circle cx="595.2" cy="220.6" r="2.1" fill="#fff" stroke="#000" stroke-width="1.1"/>
<circle cx="623.2" cy="220.2" r="2.1" fill="#fff" stroke="#000" stroke-width="1.1"/>
<circle cx="595.2" cy="236.6" r="2.1" fill="#fff" stroke="#000" stroke-width="1.1"/>
<circle cx="623.2" cy="242.9" r="2.1" fill="#fff" stroke="#000" stroke-width="1.1"/>
<circle cx="595.2" cy="241.1" r="2.1" fill="#fff" stroke="#000" stroke-width="1.1"/>
<circle cx="623.2" cy="203.9" r="2.1" fill="#fff" stroke="#000" stroke-width="1.1"/>
<circle cx="595.2" cy="248.4" r="2.1" fill="#fff" stroke="#000" stroke-width="1.1"/>
<circle cx="623.2" cy="216.3" r="2.1" fill="#fff" stroke="#000" stroke-width="1.1"/>
<circle cx="595.2" cy="249.5" r="2.1" fill="#fff" stroke="#000" stroke-width="1.1"/>
<circle cx="623.2" cy="238.9" r="2.1" fill="#fff" stroke="#000" stroke-width="1.1"/>
<circle cx="595.2" cy="250.9" r="2.1" fill="#fff" stroke="#000" stroke-width="1.1"/>
<circle cx="623.2" cy="240.9" r="2.1" fill="#fff" stroke="#000" stroke-width="1.1"/>
<circle cx="595.2" cy="252.3" r="2.1" fill="#fff" stroke="#000" stroke-width="1.1"/>
<circle cx="623.2" cy="222.8" r="2.1" fill="#fff" stroke="#000" stroke-width="1.1"/>
<circle cx="595.2" cy="256.2" r="2.1" fill="#fff" stroke="#000" stroke-width="1.1"/>
<circle cx="623.2" cy="245.0" r="2.1" fill="#fff" stroke="#000" stroke-width="1.1"/>
<circle cx="595.2" cy="260.8" r="2.1" fill="#fff" stroke="#000" stroke-width="1.1"/>
<circle cx="623.2" cy="247.8" r="2.1" fill="#fff" stroke="#000" stroke-width="1.1"/>
<text x="634.8" y="265.7" font-size="14.5" font-weight="normal" text-anchor="middle" fill="#231815">*</text>
<text x="132.0" y="586.2" font-size="20" font-weight="normal" fill="#000">l</text>
<rect x="190.8" y="590.9" width="21.5" height="88.1" fill="url(#go)"/>
<line x1="153.2" y1="593.6" x2="153.2" y2="687.9" stroke="#000" stroke-width="1.1"/>
<line x1="152.7" y1="687.4" x2="249.7" y2="687.4" stroke="#000" stroke-width="1.1"/>
<line x1="150.6" y1="687.4" x2="153.2" y2="687.4" stroke="#000" stroke-width="1.0"/>
<text x="149.3" y="690.6" font-size="9" text-anchor="end" fill="#231815">0</text>
<line x1="150.6" y1="669.1" x2="153.2" y2="669.1" stroke="#000" stroke-width="1.0"/>
<text x="149.3" y="672.3" font-size="9" text-anchor="end" fill="#231815">1</text>
<line x1="150.6" y1="650.8" x2="153.2" y2="650.8" stroke="#000" stroke-width="1.0"/>
<text x="149.3" y="654.0" font-size="9" text-anchor="end" fill="#231815">2</text>
<line x1="150.6" y1="632.4" x2="153.2" y2="632.4" stroke="#000" stroke-width="1.0"/>
<text x="149.3" y="635.6" font-size="9" text-anchor="end" fill="#231815">3</text>
<line x1="150.6" y1="614.1" x2="153.2" y2="614.1" stroke="#000" stroke-width="1.0"/>
<text x="149.3" y="617.3" font-size="9" text-anchor="end" fill="#231815">4</text>
<line x1="150.6" y1="595.8" x2="153.2" y2="595.8" stroke="#000" stroke-width="1.0"/>
<text x="149.3" y="599.0" font-size="9" text-anchor="end" fill="#231815">5</text>
<line x1="169.6" y1="687.4" x2="169.6" y2="690.2" stroke="#000" stroke-width="1.0"/>
<line x1="201.8" y1="687.4" x2="201.8" y2="690.2" stroke="#000" stroke-width="1.0"/>
<line x1="233.9" y1="687.4" x2="233.9" y2="690.2" stroke="#000" stroke-width="1.0"/>
<text x="162.8" y="699.1" font-size="9" fill="#231815" textLength="13.7" lengthAdjust="spacingAndGlyphs">Pre</text>
<text x="190.8" y="699.1" font-size="9" fill="#231815" textLength="22.1" lengthAdjust="spacingAndGlyphs">Light</text>
<text x="223.7" y="699.1" font-size="9" fill="#231815" textLength="19.4" lengthAdjust="spacingAndGlyphs">Post</text>
<text x="139.9" y="636.1" font-size="9.5" text-anchor="middle" fill="#231815" textLength="65.0" lengthAdjust="spacingAndGlyphs" transform="rotate(-90 139.9 636.1)">Seizure Stage</text>
<text x="223.1" y="682.3" font-size="10" fill="#231815" textLength="23.5" lengthAdjust="spacingAndGlyphs">n=10</text>
<path d="M163.8,595.8L195.9,601.8L225.1,595.8M166.9,595.8L201.6,601.8L228.2,595.8M170.0,595.8L201.6,608.1L231.3,595.8M173.0,595.8L207.4,608.1L234.3,595.8M176.1,595.8L201.6,614.1L237.4,595.8M178.5,595.8L207.4,620.2L239.9,595.8M163.8,601.8L201.6,620.2L242.5,595.8M168.9,601.8L201.6,632.4L228.2,605.0M175.1,601.8L201.6,656.8L233.7,614.1M169.6,614.1L195.5,620.2L233.7,605.0" fill="none" stroke="#000" stroke-width="1.1"/>
<circle cx="163.8" cy="595.8" r="2.1" fill="#fff" stroke="#000" stroke-width="1.1"/>
<circle cx="195.9" cy="601.8" r="2.1" fill="#fff" stroke="#000" stroke-width="1.1"/>
<circle cx="225.1" cy="595.8" r="2.1" fill="#fff" stroke="#000" stroke-width="1.1"/>
<circle cx="166.9" cy="595.8" r="2.1" fill="#fff" stroke="#000" stroke-width="1.1"/>
<circle cx="201.6" cy="601.8" r="2.1" fill="#fff" stroke="#000" stroke-width="1.1"/>
<circle cx="228.2" cy="595.8" r="2.1" fill="#fff" stroke="#000" stroke-width="1.1"/>
<circle cx="170.0" cy="595.8" r="2.1" fill="#fff" stroke="#000" stroke-width="1.1"/>
<circle cx="201.6" cy="608.1" r="2.1" fill="#fff" stroke="#000" stroke-width="1.1"/>
<circle cx="231.3" cy="595.8" r="2.1" fill="#fff" stroke="#000" stroke-width="1.1"/>
<circle cx="173.0" cy="595.8" r="2.1" fill="#fff" stroke="#000" stroke-width="1.1"/>
<circle cx="207.4" cy="608.1" r="2.1" fill="#fff" stroke="#000" stroke-width="1.1"/>
<circle cx="234.3" cy="595.8" r="2.1" fill="#fff" stroke="#000" stroke-width="1.1"/>
<circle cx="176.1" cy="595.8" r="2.1" fill="#fff" stroke="#000" stroke-width="1.1"/>
<circle cx="201.6" cy="614.1" r="2.1" fill="#fff" stroke="#000" stroke-width="1.1"/>
<circle cx="237.4" cy="595.8" r="2.1" fill="#fff" stroke="#000" stroke-width="1.1"/>
<circle cx="178.5" cy="595.8" r="2.1" fill="#fff" stroke="#000" stroke-width="1.1"/>
<circle cx="207.4" cy="620.2" r="2.1" fill="#fff" stroke="#000" stroke-width="1.1"/>
<circle cx="239.9" cy="595.8" r="2.1" fill="#fff" stroke="#000" stroke-width="1.1"/>
<circle cx="163.8" cy="601.8" r="2.1" fill="#fff" stroke="#000" stroke-width="1.1"/>
<circle cx="201.6" cy="620.2" r="2.1" fill="#fff" stroke="#000" stroke-width="1.1"/>
<circle cx="242.5" cy="595.8" r="2.1" fill="#fff" stroke="#000" stroke-width="1.1"/>
<circle cx="168.9" cy="601.8" r="2.1" fill="#fff" stroke="#000" stroke-width="1.1"/>
<circle cx="201.6" cy="632.4" r="2.1" fill="#fff" stroke="#000" stroke-width="1.1"/>
<circle cx="228.2" cy="605.0" r="2.1" fill="#fff" stroke="#000" stroke-width="1.1"/>
<circle cx="175.1" cy="601.8" r="2.1" fill="#fff" stroke="#000" stroke-width="1.1"/>
<circle cx="201.6" cy="656.8" r="2.1" fill="#fff" stroke="#000" stroke-width="1.1"/>
<circle cx="233.7" cy="614.1" r="2.1" fill="#fff" stroke="#000" stroke-width="1.1"/>
<circle cx="169.6" cy="614.1" r="2.1" fill="#fff" stroke="#000" stroke-width="1.1"/>
<circle cx="195.5" cy="620.2" r="2.1" fill="#fff" stroke="#000" stroke-width="1.1"/>
<circle cx="233.7" cy="605.0" r="2.1" fill="#fff" stroke="#000" stroke-width="1.1"/>
<text x="202.3" y="679.0" font-size="14.5" font-weight="normal" text-anchor="middle" fill="#231815">**</text>
<text x="202.3" y="683.3" font-size="8.6" text-anchor="middle" fill="#222" textLength="13.3" lengthAdjust="spacingAndGlyphs">###</text>
<text x="257.5" y="586.2" font-size="20" font-weight="normal" fill="#000">m</text>
<rect x="328.2" y="586.9" width="21.4" height="92.1" fill="url(#go)"/>
<line x1="290.2" y1="589.6" x2="290.2" y2="687.9" stroke="#000" stroke-width="1.1"/>
<line x1="289.7" y1="687.4" x2="385.8" y2="687.4" stroke="#000" stroke-width="1.1"/>
<line x1="287.6" y1="687.4" x2="290.2" y2="687.4" stroke="#000" stroke-width="1.0"/>
<text x="286.3" y="690.6" font-size="9" text-anchor="end" fill="#231815">0</text>
<line x1="287.6" y1="668.3" x2="290.2" y2="668.3" stroke="#000" stroke-width="1.0"/>
<text x="286.3" y="671.5" font-size="9" text-anchor="end" fill="#231815">10</text>
<line x1="287.6" y1="649.2" x2="290.2" y2="649.2" stroke="#000" stroke-width="1.0"/>
<text x="286.3" y="652.4" font-size="9" text-anchor="end" fill="#231815">20</text>
<line x1="287.6" y1="630.0" x2="290.2" y2="630.0" stroke="#000" stroke-width="1.0"/>
<text x="286.3" y="633.2" font-size="9" text-anchor="end" fill="#231815">30</text>
<line x1="287.6" y1="610.9" x2="290.2" y2="610.9" stroke="#000" stroke-width="1.0"/>
<text x="286.3" y="614.1" font-size="9" text-anchor="end" fill="#231815">40</text>
<line x1="287.6" y1="591.8" x2="290.2" y2="591.8" stroke="#000" stroke-width="1.0"/>
<text x="286.3" y="595.0" font-size="9" text-anchor="end" fill="#231815">50</text>
<line x1="307.1" y1="687.4" x2="307.1" y2="690.2" stroke="#000" stroke-width="1.0"/>
<line x1="338.8" y1="687.4" x2="338.8" y2="690.2" stroke="#000" stroke-width="1.0"/>
<line x1="370.9" y1="687.4" x2="370.9" y2="690.2" stroke="#000" stroke-width="1.0"/>
<text x="300.0" y="697.6" font-size="9" fill="#231815" textLength="14.3" lengthAdjust="spacingAndGlyphs">Pre</text>
<text x="328.2" y="697.6" font-size="9" fill="#231815" textLength="22.4" lengthAdjust="spacingAndGlyphs">Light</text>
<text x="361.3" y="697.6" font-size="9" fill="#231815" textLength="19.4" lengthAdjust="spacingAndGlyphs">Post</text>
<text x="273.6" y="639.4" font-size="9.5" text-anchor="middle" fill="#231815" textLength="34.8" lengthAdjust="spacingAndGlyphs" transform="rotate(-90 273.6 639.4)">ADD (s)</text>
<text x="357.8" y="682.3" font-size="10" fill="#231815" textLength="24.3" lengthAdjust="spacingAndGlyphs">n=10</text>
<path d="M307.1,601.6L338.8,654.7L370.9,615.9M307.1,608.8L338.8,638.8L370.9,627.2M307.1,628.1L338.8,649.5L370.9,614.4M307.1,629.8L338.8,637.3L370.9,618.4M307.1,632.3L338.8,640.0L370.9,629.3M307.1,633.9L338.8,651.6L370.9,631.2M307.1,635.4L338.8,639.6L370.9,630.0M307.1,636.3L338.8,640.7L370.9,632.9M307.1,638.5L338.8,642.1L370.9,634.2M307.1,641.5L338.8,642.9L370.9,635.6" fill="none" stroke="#000" stroke-width="1.1"/>
<circle cx="307.1" cy="601.6" r="2.1" fill="#fff" stroke="#000" stroke-width="1.1"/>
<circle cx="338.8" cy="654.7" r="2.1" fill="#fff" stroke="#000" stroke-width="1.1"/>
<circle cx="370.9" cy="615.9" r="2.1" fill="#fff" stroke="#000" stroke-width="1.1"/>
<circle cx="307.1" cy="608.8" r="2.1" fill="#fff" stroke="#000" stroke-width="1.1"/>
<circle cx="338.8" cy="638.8" r="2.1" fill="#fff" stroke="#000" stroke-width="1.1"/>
<circle cx="370.9" cy="627.2" r="2.1" fill="#fff" stroke="#000" stroke-width="1.1"/>
<circle cx="307.1" cy="628.1" r="2.1" fill="#fff" stroke="#000" stroke-width="1.1"/>
<circle cx="338.8" cy="649.5" r="2.1" fill="#fff" stroke="#000" stroke-width="1.1"/>
<circle cx="370.9" cy="614.4" r="2.1" fill="#fff" stroke="#000" stroke-width="1.1"/>
<circle cx="307.1" cy="629.8" r="2.1" fill="#fff" stroke="#000" stroke-width="1.1"/>
<circle cx="338.8" cy="637.3" r="2.1" fill="#fff" stroke="#000" stroke-width="1.1"/>
<circle cx="370.9" cy="618.4" r="2.1" fill="#fff" stroke="#000" stroke-width="1.1"/>
<circle cx="307.1" cy="632.3" r="2.1" fill="#fff" stroke="#000" stroke-width="1.1"/>
<circle cx="338.8" cy="640.0" r="2.1" fill="#fff" stroke="#000" stroke-width="1.1"/>
<circle cx="370.9" cy="629.3" r="2.1" fill="#fff" stroke="#000" stroke-width="1.1"/>
<circle cx="307.1" cy="633.9" r="2.1" fill="#fff" stroke="#000" stroke-width="1.1"/>
<circle cx="338.8" cy="651.6" r="2.1" fill="#fff" stroke="#000" stroke-width="1.1"/>
<circle cx="370.9" cy="631.2" r="2.1" fill="#fff" stroke="#000" stroke-width="1.1"/>
<circle cx="307.1" cy="635.4" r="2.1" fill="#fff" stroke="#000" stroke-width="1.1"/>
<circle cx="338.8" cy="639.6" r="2.1" fill="#fff" stroke="#000" stroke-width="1.1"/>
<circle cx="370.9" cy="630.0" r="2.1" fill="#fff" stroke="#000" stroke-width="1.1"/>
<circle cx="307.1" cy="636.3" r="2.1" fill="#fff" stroke="#000" stroke-width="1.1"/>
<circle cx="338.8" cy="640.7" r="2.1" fill="#fff" stroke="#000" stroke-width="1.1"/>
<circle cx="370.9" cy="632.9" r="2.1" fill="#fff" stroke="#000" stroke-width="1.1"/>
<circle cx="307.1" cy="638.5" r="2.1" fill="#fff" stroke="#000" stroke-width="1.1"/>
<circle cx="338.8" cy="642.1" r="2.1" fill="#fff" stroke="#000" stroke-width="1.1"/>
<circle cx="370.9" cy="634.2" r="2.1" fill="#fff" stroke="#000" stroke-width="1.1"/>
<circle cx="307.1" cy="641.5" r="2.1" fill="#fff" stroke="#000" stroke-width="1.1"/>
<circle cx="338.8" cy="642.9" r="2.1" fill="#fff" stroke="#000" stroke-width="1.1"/>
<circle cx="370.9" cy="635.6" r="2.1" fill="#fff" stroke="#000" stroke-width="1.1"/>
<text x="338.8" y="678.5" font-size="14.5" font-weight="normal" text-anchor="middle" fill="#231815">*</text>
<text x="338.8" y="682.8" font-size="8.6" text-anchor="middle" fill="#222" textLength="9.6" lengthAdjust="spacingAndGlyphs">##</text>
<text x="388.2" y="586.3" font-size="20" font-weight="normal" fill="#000">n</text>
<rect x="465.2" y="586.9" width="21.5" height="92.1" fill="url(#go)"/>
<line x1="428.2" y1="589.6" x2="428.2" y2="687.9" stroke="#000" stroke-width="1.1"/>
<line x1="427.7" y1="687.4" x2="523.9" y2="687.4" stroke="#000" stroke-width="1.1"/>
<line x1="425.6" y1="687.4" x2="428.2" y2="687.4" stroke="#000" stroke-width="1.0"/>
<text x="424.3" y="690.6" font-size="9" text-anchor="end" fill="#231815">0</text>
<line x1="425.6" y1="668.3" x2="428.2" y2="668.3" stroke="#000" stroke-width="1.0"/>
<text x="424.3" y="671.5" font-size="9" text-anchor="end" fill="#231815">5</text>
<line x1="425.6" y1="649.2" x2="428.2" y2="649.2" stroke="#000" stroke-width="1.0"/>
<text x="424.3" y="652.4" font-size="9" text-anchor="end" fill="#231815">10</text>
<line x1="425.6" y1="630.0" x2="428.2" y2="630.0" stroke="#000" stroke-width="1.0"/>
<text x="424.3" y="633.2" font-size="9" text-anchor="end" fill="#231815">15</text>
<line x1="425.6" y1="610.9" x2="428.2" y2="610.9" stroke="#000" stroke-width="1.0"/>
<text x="424.3" y="614.1" font-size="9" text-anchor="end" fill="#231815">20</text>
<line x1="425.6" y1="591.8" x2="428.2" y2="591.8" stroke="#000" stroke-width="1.0"/>
<text x="424.3" y="595.0" font-size="9" text-anchor="end" fill="#231815">25</text>
<line x1="444.8" y1="687.4" x2="444.8" y2="690.2" stroke="#000" stroke-width="1.0"/>
<line x1="476.2" y1="687.4" x2="476.2" y2="690.2" stroke="#000" stroke-width="1.0"/>
<line x1="508.1" y1="687.4" x2="508.1" y2="690.2" stroke="#000" stroke-width="1.0"/>
<text x="438.0" y="697.0" font-size="9" fill="#231815" textLength="13.9" lengthAdjust="spacingAndGlyphs">Pre</text>
<text x="465.2" y="697.0" font-size="9" fill="#231815" textLength="22.3" lengthAdjust="spacingAndGlyphs">Light</text>
<text x="499.3" y="697.0" font-size="9" fill="#231815" textLength="19.5" lengthAdjust="spacingAndGlyphs">Post</text>
<text x="410.7" y="639.5" font-size="9.5" text-anchor="middle" fill="#231815" textLength="35.8" lengthAdjust="spacingAndGlyphs" transform="rotate(-90 410.7 639.5)">GSD (s)</text>
<text x="504.0" y="682.3" font-size="10" fill="#231815" textLength="24.0" lengthAdjust="spacingAndGlyphs">n=10</text>
<path d="M444.8,601.0L476.2,667.5L508.1,619.7M444.8,614.0L476.2,679.0L508.1,618.2M444.8,621.6L476.2,656.0L508.1,621.6M444.8,629.3L476.2,650.7L508.1,634.2M444.8,637.3L476.2,639.2L508.1,622.4M444.8,639.2L476.2,639.2L508.1,639.2M444.8,641.9L476.2,646.9L508.1,623.9M444.8,644.6L476.2,666.0L508.1,641.5M444.8,646.5L476.2,652.2L508.1,646.9M444.8,648.0L476.2,687.4L508.1,599.8" fill="none" stroke="#000" stroke-width="1.1"/>
<circle cx="444.8" cy="601.0" r="2.1" fill="#fff" stroke="#000" stroke-width="1.1"/>
<circle cx="476.2" cy="667.5" r="2.1" fill="#fff" stroke="#000" stroke-width="1.1"/>
<circle cx="508.1" cy="619.7" r="2.1" fill="#fff" stroke="#000" stroke-width="1.1"/>
<circle cx="444.8" cy="614.0" r="2.1" fill="#fff" stroke="#000" stroke-width="1.1"/>
<circle cx="476.2" cy="679.0" r="2.1" fill="#fff" stroke="#000" stroke-width="1.1"/>
<circle cx="508.1" cy="618.2" r="2.1" fill="#fff" stroke="#000" stroke-width="1.1"/>
<circle cx="444.8" cy="621.6" r="2.1" fill="#fff" stroke="#000" stroke-width="1.1"/>
<circle cx="476.2" cy="656.0" r="2.1" fill="#fff" stroke="#000" stroke-width="1.1"/>
<circle cx="508.1" cy="621.6" r="2.1" fill="#fff" stroke="#000" stroke-width="1.1"/>
<circle cx="444.8" cy="629.3" r="2.1" fill="#fff" stroke="#000" stroke-width="1.1"/>
<circle cx="476.2" cy="650.7" r="2.1" fill="#fff" stroke="#000" stroke-width="1.1"/>
<circle cx="508.1" cy="634.2" r="2.1" fill="#fff" stroke="#000" stroke-width="1.1"/>
<circle cx="444.8" cy="637.3" r="2.1" fill="#fff" stroke="#000" stroke-width="1.1"/>
<circle cx="476.2" cy="639.2" r="2.1" fill="#fff" stroke="#000" stroke-width="1.1"/>
<circle cx="508.1" cy="622.4" r="2.1" fill="#fff" stroke="#000" stroke-width="1.1"/>
<circle cx="444.8" cy="639.2" r="2.1" fill="#fff" stroke="#000" stroke-width="1.1"/>
<circle cx="476.2" cy="639.2" r="2.1" fill="#fff" stroke="#000" stroke-width="1.1"/>
<circle cx="508.1" cy="639.2" r="2.1" fill="#fff" stroke="#000" stroke-width="1.1"/>
<circle cx="444.8" cy="641.9" r="2.1" fill="#fff" stroke="#000" stroke-width="1.1"/>
<circle cx="476.2" cy="646.9" r="2.1" fill="#fff" stroke="#000" stroke-width="1.1"/>
<circle cx="508.1" cy="623.9" r="2.1" fill="#fff" stroke="#000" stroke-width="1.1"/>
<circle cx="444.8" cy="644.6" r="2.1" fill="#fff" stroke="#000" stroke-width="1.1"/>
<circle cx="476.2" cy="666.0" r="2.1" fill="#fff" stroke="#000" stroke-width="1.1"/>
<circle cx="508.1" cy="641.5" r="2.1" fill="#fff" stroke="#000" stroke-width="1.1"/>
<circle cx="444.8" cy="646.5" r="2.1" fill="#fff" stroke="#000" stroke-width="1.1"/>
<circle cx="476.2" cy="652.2" r="2.1" fill="#fff" stroke="#000" stroke-width="1.1"/>
<circle cx="508.1" cy="646.9" r="2.1" fill="#fff" stroke="#000" stroke-width="1.1"/>
<circle cx="444.8" cy="648.0" r="2.1" fill="#fff" stroke="#000" stroke-width="1.1"/>
<circle cx="476.2" cy="687.4" r="2.1" fill="#fff" stroke="#000" stroke-width="1.1"/>
<circle cx="508.1" cy="599.8" r="2.1" fill="#fff" stroke="#000" stroke-width="1.1"/>
<text x="495.2" y="679.0" font-size="14.5" font-weight="normal" text-anchor="middle" fill="#231815">**</text>
<text x="494.7" y="682.8" font-size="8.6" text-anchor="middle" fill="#222" textLength="9.4" lengthAdjust="spacingAndGlyphs">##</text>
<text x="538.4" y="586.8" font-size="20" font-weight="normal" fill="#000">o</text>
<rect x="612.1" y="589.3" width="20.9" height="85.3" fill="url(#go)"/>
<line x1="576.4" y1="585.9" x2="576.4" y2="686.8" stroke="#000" stroke-width="1.1"/>
<line x1="575.9" y1="686.3" x2="642.0" y2="686.3" stroke="#000" stroke-width="1.1"/>
<line x1="573.8" y1="686.3" x2="576.4" y2="686.3" stroke="#000" stroke-width="1.0"/>
<text x="572.5" y="689.5" font-size="9" text-anchor="end" fill="#231815">0</text>
<line x1="573.8" y1="661.8" x2="576.4" y2="661.8" stroke="#000" stroke-width="1.0"/>
<text x="572.5" y="665.0" font-size="9" text-anchor="end" fill="#231815">1</text>
<line x1="573.8" y1="637.2" x2="576.4" y2="637.2" stroke="#000" stroke-width="1.0"/>
<text x="572.5" y="640.4" font-size="9" text-anchor="end" fill="#231815">2</text>
<line x1="573.8" y1="612.6" x2="576.4" y2="612.6" stroke="#000" stroke-width="1.0"/>
<text x="572.5" y="615.9" font-size="9" text-anchor="end" fill="#231815">3</text>
<line x1="573.8" y1="588.1" x2="576.4" y2="588.1" stroke="#000" stroke-width="1.0"/>
<text x="572.5" y="591.3" font-size="9" text-anchor="end" fill="#231815">4</text>
<line x1="594.5" y1="686.3" x2="594.5" y2="689.1" stroke="#000" stroke-width="1.0"/>
<line x1="622.8" y1="686.3" x2="622.8" y2="689.1" stroke="#000" stroke-width="1.0"/>
<text x="587.7" y="698.3" font-size="9" fill="#231815" textLength="14.3" lengthAdjust="spacingAndGlyphs">Pre</text>
<text x="611.5" y="698.3" font-size="9" fill="#231815" textLength="22.6" lengthAdjust="spacingAndGlyphs">Light</text>
<text x="561.6" y="637.2" font-size="10.2" text-anchor="middle" fill="#231815" textLength="90.5" lengthAdjust="spacingAndGlyphs" transform="rotate(-90 561.6 637.2)">EEG Power (10<tspan font-size="5" dy="-3">-9</tspan><tspan dy="3"> V</tspan><tspan font-size="5" dy="-3">2</tspan><tspan dy="3">)</tspan></text>
<text x="643.8" y="682.5" font-size="10" fill="#231815" textLength="24.2" lengthAdjust="spacingAndGlyphs">n=10</text>
<path d="M594.5,607.2L622.8,666.2M594.5,616.3L622.8,673.3M594.5,620.3L622.8,667.6M594.5,630.3L622.8,656.3M594.5,660.3L622.8,652.4M594.5,661.8L622.8,654.6M594.5,662.0L622.8,655.6M594.5,665.4L622.8,674.5M594.5,666.7L622.8,678.0M594.5,667.6L622.8,678.9" fill="none" stroke="#000" stroke-width="1.1"/>
<circle cx="594.5" cy="607.2" r="2.1" fill="#fff" stroke="#000" stroke-width="1.1"/>
<circle cx="622.8" cy="666.2" r="2.1" fill="#fff" stroke="#000" stroke-width="1.1"/>
<circle cx="594.5" cy="616.3" r="2.1" fill="#fff" stroke="#000" stroke-width="1.1"/>
<circle cx="622.8" cy="673.3" r="2.1" fill="#fff" stroke="#000" stroke-width="1.1"/>
<circle cx="594.5" cy="620.3" r="2.1" fill="#fff" stroke="#000" stroke-width="1.1"/>
<circle cx="622.8" cy="667.6" r="2.1" fill="#fff" stroke="#000" stroke-width="1.1"/>
<circle cx="594.5" cy="630.3" r="2.1" fill="#fff" stroke="#000" stroke-width="1.1"/>
<circle cx="622.8" cy="656.3" r="2.1" fill="#fff" stroke="#000" stroke-width="1.1"/>
<circle cx="594.5" cy="660.3" r="2.1" fill="#fff" stroke="#000" stroke-width="1.1"/>
<circle cx="622.8" cy="652.4" r="2.1" fill="#fff" stroke="#000" stroke-width="1.1"/>
<circle cx="594.5" cy="661.8" r="2.1" fill="#fff" stroke="#000" stroke-width="1.1"/>
<circle cx="622.8" cy="654.6" r="2.1" fill="#fff" stroke="#000" stroke-width="1.1"/>
<circle cx="594.5" cy="662.0" r="2.1" fill="#fff" stroke="#000" stroke-width="1.1"/>
<circle cx="622.8" cy="655.6" r="2.1" fill="#fff" stroke="#000" stroke-width="1.1"/>
<circle cx="594.5" cy="665.4" r="2.1" fill="#fff" stroke="#000" stroke-width="1.1"/>
<circle cx="622.8" cy="674.5" r="2.1" fill="#fff" stroke="#000" stroke-width="1.1"/>
<circle cx="594.5" cy="666.7" r="2.1" fill="#fff" stroke="#000" stroke-width="1.1"/>
<circle cx="622.8" cy="678.0" r="2.1" fill="#fff" stroke="#000" stroke-width="1.1"/>
<circle cx="594.5" cy="667.6" r="2.1" fill="#fff" stroke="#000" stroke-width="1.1"/>
<circle cx="622.8" cy="678.9" r="2.1" fill="#fff" stroke="#000" stroke-width="1.1"/>
<text x="634.8" y="687.3" font-size="14.5" font-weight="normal" text-anchor="middle" fill="#231815">*</text>
<text x="0.5" y="17.3" font-size="20.5" font-weight="normal" fill="#000">a</text>
<text x="19.5" y="19.4" font-size="10.8" fill="#39b54a" textLength="98.4" lengthAdjust="spacingAndGlyphs">AAV-CaMKIIα-eGFP</text>
<text x="19.5" y="31.7" font-size="10.8" fill="#39b54a" textLength="134.7" lengthAdjust="spacingAndGlyphs">AAV-CaMKIIα-hChR2-eYFP</text>
<text x="-0.3" y="43.7" font-size="10.8" fill="#1a1aff" textLength="17.6" lengthAdjust="spacingAndGlyphs">473</text>
<text x="21.0" y="43.7" font-size="10.8" fill="#000" textLength="44.5" lengthAdjust="spacingAndGlyphs">nm Light</text>
<path d="M13.7,70.4C14.3,67.1 13.2,67.3 16.1,65.3C19.0,63.4 19.2,64.2 25.3,62.7C31.5,61.1 33.8,60.7 40.7,59.2C47.6,57.7 46.8,57.8 52.9,56.7C59.1,55.7 58.5,55.7 65.2,55.1C71.8,54.5 73.1,54.3 79.5,54.5C85.9,54.6 86.1,54.5 90.7,55.7C95.3,56.9 94.8,57.2 97.9,59.2C100.9,61.2 98.4,60.6 103.0,63.9C107.6,67.2 109.6,66.8 116.3,72.5C122.9,78.2 125.2,81.1 129.6,86.8C134.0,92.5 132.4,91.8 133.9,95.4C135.3,98.9 135.0,97.6 135.3,101.1C135.6,104.6 135.9,105.8 135.1,109.3C134.3,112.7 134.7,113.0 132.0,114.8C129.4,116.6 129.4,116.0 124.4,116.4C119.5,116.8 117.6,116.8 112.2,116.4C106.8,116.1 106.8,116.1 103.0,115.0C99.2,113.9 99.4,113.7 96.9,111.9C94.3,110.2 94.6,109.2 92.8,108.0C91.0,106.9 91.5,106.8 89.7,107.2C87.9,107.6 87.9,108.0 85.6,109.7C83.3,111.4 83.6,112.3 80.5,114.0C77.4,115.7 77.2,115.7 73.4,116.4C69.5,117.1 69.5,117.2 65.2,116.8C60.8,116.5 60.3,116.5 56.0,115.0C51.6,113.5 51.6,113.0 47.8,110.7C44.0,108.3 44.0,108.0 40.7,105.6C37.3,103.2 37.8,103.0 34.5,101.1C31.2,99.2 30.7,99.8 27.4,98.0C24.0,96.2 24.1,96.8 21.2,93.9C18.4,91.1 18.0,90.6 16.1,86.8C14.2,83.0 14.3,82.7 13.7,78.6C13.1,74.5 13.1,73.8 13.7,70.4Z" fill="#fff" stroke="#000" stroke-width="1.15"/>
<path d="M47.4,88.8C47.9,86.9 47.5,85.1 49.4,81.1C51.4,77.1 51.5,76.5 55.4,72.9C59.2,69.3 59.3,69.3 64.8,66.8C70.3,64.2 71.5,64.1 77.4,62.7C83.4,61.2 85.0,60.8 88.7,61.0C92.4,61.2 91.3,62.9 92.2,63.5" fill="none" stroke="#000" stroke-width="1.1"/>
<path d="M50.1,80.7C51.7,79.2 52.6,77.8 56.6,74.9C60.6,72.1 60.5,71.7 66.0,69.2C71.5,66.8 73.5,66.6 78.5,65.1C83.5,63.7 84.1,63.9 86.0,63.5" fill="none" stroke="#000" stroke-width="1.1"/>
<path d="M55.4,83.7C56.4,80.7 56.2,80.5 58.6,77.6C61.1,74.7 61.4,74.5 65.2,72.1C69.0,69.7 69.7,69.6 73.8,68.0C77.9,66.3 80.1,65.4 81.5,65.5C83.0,65.6 81.3,66.9 79.5,68.4C77.7,69.9 76.4,69.6 74.4,71.7C72.3,73.7 72.4,73.8 71.3,76.6C70.2,79.3 70.4,79.6 69.9,82.7C69.4,85.8 70.3,86.8 69.3,88.8C68.2,90.9 67.0,91.4 65.6,90.9C64.2,90.4 64.3,86.5 63.5,86.8C62.8,87.0 63.9,90.1 62.7,91.9C61.6,93.7 60.8,93.8 59.0,94.1C57.3,94.5 56.9,94.4 55.8,93.3C54.7,92.3 54.7,92.3 54.6,89.9C54.5,87.5 54.3,86.8 55.4,83.7Z" fill="#000" stroke="#000" stroke-width="0.6"/>
<path d="M49.2,90.9C49.1,89.2 49.4,87.6 50.3,85.2C51.1,82.7 51.3,82.7 52.5,81.1C53.7,79.4 54.7,78.1 55.0,78.6C55.3,79.1 54.5,80.8 53.7,83.1C53.0,85.4 52.9,85.7 52.1,87.8C51.3,90.0 51.4,90.9 50.7,91.7C50.0,92.5 49.3,92.5 49.2,90.9Z" fill="#000" stroke="#000" stroke-width="0.6"/>
<path d="M75.8,77.1C74.1,76.0 73.9,75.6 73.6,73.6C73.3,71.7 73.5,71.1 74.6,69.3C75.7,67.4 75.9,67.4 78.0,66.2C80.0,65.0 80.5,64.6 82.9,64.4C85.3,64.2 85.6,64.5 87.5,65.4C89.4,66.3 89.7,66.4 90.6,68.0C91.5,69.6 91.6,70.0 91.2,71.8C90.9,73.5 90.7,73.8 89.2,75.1C87.8,76.4 87.6,76.3 85.4,77.0C83.2,77.6 82.8,77.8 80.4,77.8C78.0,77.9 77.6,78.1 75.8,77.1Z" fill="#fff" stroke="#000" stroke-width="1.5"/>
<path d="M76.3,73.9C76.8,72.9 76.7,71.6 78.1,70.1C79.4,68.7 79.9,68.5 81.8,68.2C83.7,67.8 84.3,67.9 85.5,68.6C86.8,69.4 87.0,70.0 86.9,71.1C86.8,72.3 86.3,72.7 85.0,73.4C83.8,74.0 83.0,74.0 81.8,73.7C80.6,73.5 80.5,72.6 80.1,72.2" fill="none" stroke="#000" stroke-width="1.5"/>
<rect x="69.6" y="82.5" width="6.0" height="19.0" rx="2.7" fill="#fff" stroke="#000" stroke-width="1.1"/>
<path d="M68.9,86.8Q69.1,81.3 72.6,81.3Q75.8,81.3 76.2,86.8Z" fill="#3fa9e0" stroke="none" stroke-width="0"/>
<path d="M104.4,65.6C104.0,65.4 104.4,63.8 105.2,62.6C106.0,61.4 106.2,61.6 107.6,61.0C109.0,60.4 108.4,60.5 110.8,60.2C113.3,60.0 114.8,59.6 117.3,60.0C119.7,60.3 118.7,60.2 120.6,61.6C122.5,63.0 122.9,63.2 125.0,65.6C127.0,68.0 127.1,68.2 128.8,71.3C130.6,74.3 130.8,74.5 132.0,77.7C133.3,80.9 133.1,80.6 134.0,84.1C134.8,87.6 135.3,88.9 135.4,91.8C135.4,94.8 135.7,95.1 134.1,95.9C132.5,96.8 131.3,95.8 129.1,95.2C126.9,94.5 126.9,94.4 125.3,93.2C123.7,92.1 124.1,91.1 122.7,90.7C121.4,90.2 121.3,91.6 120.0,91.3C118.6,91.0 117.8,90.7 117.4,89.4C117.0,88.1 117.5,87.8 118.4,86.2C119.4,84.6 121.5,84.1 121.2,83.0C121.0,81.8 119.3,81.7 117.4,81.5C115.5,81.4 115.0,81.2 113.5,82.2C112.1,83.2 112.7,85.0 111.6,85.5C110.5,86.0 110.0,85.5 109.0,84.2C108.1,83.0 107.5,82.3 107.6,80.4C107.7,78.5 108.5,78.3 109.4,76.5C110.4,74.8 111.0,75.4 111.4,73.3C111.7,71.2 111.4,70.3 111.0,68.2C110.6,66.1 110.7,66.0 109.7,64.8C108.7,63.7 108.3,63.2 107.0,63.4C105.7,63.6 104.9,65.8 104.4,65.6Z" fill="#fff" stroke="#000" stroke-width="1.35"/>
<path d="M114.6,65.2L115.5,64.8L117.5,77.7L116.5,78.2Z" fill="#000" stroke="#000" stroke-width="0.6" stroke-linejoin="round"/>
<path d="M119.5,63.6C120.1,64.7 120.9,65.6 121.8,68.1C122.6,70.5 123.0,70.6 123.0,73.2C123.1,75.8 122.3,77.1 122.1,78.5" fill="none" stroke="#000" stroke-width="1.1" stroke-linecap="round"/>
<path d="M117.3,61.6C117.7,62.9 118.5,63.9 119.2,66.8C119.9,69.7 120.0,70.1 120.2,73.2C120.3,76.3 119.9,77.8 119.8,79.3" fill="none" stroke="#000" stroke-width="1.1" stroke-linecap="round"/>
<path d="M123.4,66.5C123.9,67.7 124.9,68.7 125.6,71.3C126.4,73.8 126.2,75.2 126.4,76.5" fill="none" stroke="#000" stroke-width="1.1" stroke-linecap="round"/>
<path d="M125.3,77.4C126.0,77.3 126.6,76.4 128.2,76.8C129.7,77.2 130.7,78.4 131.5,79.0" fill="none" stroke="#000" stroke-width="1.1" stroke-linecap="round"/>
<path d="M123.7,81.0C124.8,81.2 125.9,81.0 128.2,81.7C130.5,82.3 131.7,83.1 132.8,83.6" fill="none" stroke="#000" stroke-width="1.1" stroke-linecap="round"/>
<path d="M123.7,85.5C124.8,85.8 125.8,85.9 128.2,86.8C130.5,87.7 131.8,88.4 133.1,89.0" fill="none" stroke="#000" stroke-width="1.1" stroke-linecap="round"/>
<path d="M126.9,89.9C127.7,90.2 128.6,90.5 130.1,91.3C131.7,92.1 132.3,92.8 133.1,93.2" fill="none" stroke="#000" stroke-width="1.1" stroke-linecap="round"/>
<path d="M111.8,73.2C112.3,73.4 113.1,73.0 113.8,74.0C114.5,75.0 114.6,75.6 114.4,77.2C114.3,78.8 113.5,79.6 113.2,80.4" fill="none" stroke="#000" stroke-width="1.1" stroke-linecap="round"/>
<path d="M109.6,77.2C110.1,77.3 111.1,77.0 111.8,77.8C112.5,78.6 112.3,79.7 112.5,80.4" fill="none" stroke="#000" stroke-width="1.1" stroke-linecap="round"/>
<path d="M112.8,68.1C112.9,68.9 113.4,69.9 113.4,71.3C113.4,72.6 113.0,73.0 112.9,73.5" fill="none" stroke="#000" stroke-width="1.1" stroke-linecap="round"/>
<line x1="70.8" y1="37.4" x2="70.8" y2="80.4" stroke="#000" stroke-width="0.9"/>
<line x1="73.8" y1="37.4" x2="73.8" y2="80.4" stroke="#000" stroke-width="0.9"/>
<line x1="88.7" y1="68.0" x2="100.4" y2="58.4" stroke="#000" stroke-width="0.9"/>
<line x1="100.4" y1="58.4" x2="129.2" y2="37.4" stroke="#39b54a" stroke-width="4.1"/>
<line x1="100.4" y1="58.4" x2="129.2" y2="37.4" stroke="#a8dc6e" stroke-width="1.7"/>
<line x1="129.2" y1="37.4" x2="132.3" y2="35.1" stroke="#000" stroke-width="0.9"/>
<line x1="130.9" y1="33.3" x2="133.7" y2="36.9" stroke="#000" stroke-width="1.0"/>
<path d="M91.7,74.6Q87.5,83.5 77.6,87.8" fill="none" stroke="#1f9a45" stroke-width="1.25"/>
<path d="M76.3,88.3L79.5,85.1L80.8,88.3Z" fill="#1f9a45"/>
<path d="M91.7,74.6Q89.7,85.4 80.7,91.4" fill="none" stroke="#1f9a45" stroke-width="1.25"/>
<path d="M79.5,92.1L82.1,88.4L84.0,91.3Z" fill="#1f9a45"/>
<path d="M91.7,74.6Q91.7,84.8 85.5,91.5" fill="none" stroke="#1f9a45" stroke-width="1.25"/>
<path d="M84.6,92.5L86.1,88.2L88.7,90.6Z" fill="#1f9a45"/>
<text x="91.6" y="73.6" font-size="8.7" fill="#1f9a45" textLength="18.0" lengthAdjust="spacingAndGlyphs">SUB</text>
<text x="77.1" y="100.3" font-size="8.7" fill="#1f9a45" textLength="17.9" lengthAdjust="spacingAndGlyphs">ANT</text>
<text x="27.4" y="134.6" font-size="13.4" fill="#000" textLength="95.0" lengthAdjust="spacingAndGlyphs">Wild-type mice</text>
<text x="3.6" y="438.1" font-size="20" font-weight="normal" fill="#000">i</text>
<text x="13.4" y="446.4" font-size="10.8" fill="#39b54a" textLength="98.4" lengthAdjust="spacingAndGlyphs">AAV-CaMKIIα-eGFP</text>
<text x="13.4" y="458.9" font-size="10.8" fill="#39b54a" textLength="132.0" lengthAdjust="spacingAndGlyphs">AAV-CaMKIIα-ArchT-eGFP</text>
<text x="0.3" y="471.0" font-size="10.8" fill="#f7931e" textLength="17.3" lengthAdjust="spacingAndGlyphs">589</text>
<text x="20.8" y="471.0" font-size="10.8" fill="#000" textLength="44.8" lengthAdjust="spacingAndGlyphs">nm Light</text>
<path d="M13.7,497.4C14.3,494.1 13.2,494.3 16.1,492.3C19.0,490.4 19.2,491.2 25.3,489.7C31.5,488.1 33.8,487.7 40.7,486.2C47.6,484.7 46.8,484.8 52.9,483.7C59.1,482.7 58.5,482.7 65.2,482.1C71.8,481.5 73.1,481.3 79.5,481.5C85.9,481.6 86.1,481.5 90.7,482.7C95.3,483.9 94.8,484.2 97.9,486.2C100.9,488.2 98.4,487.6 103.0,490.9C107.6,494.2 109.6,493.8 116.3,499.5C122.9,505.2 125.2,508.1 129.6,513.8C134.0,519.5 132.4,518.8 133.9,522.4C135.3,525.9 135.0,524.6 135.3,528.1C135.6,531.6 135.9,532.8 135.1,536.3C134.3,539.7 134.7,540.0 132.0,541.8C129.4,543.6 129.4,543.0 124.4,543.4C119.5,543.8 117.6,543.8 112.2,543.4C106.8,543.1 106.8,543.1 103.0,542.0C99.2,540.9 99.4,540.7 96.9,538.9C94.3,537.2 94.6,536.2 92.8,535.0C91.0,533.9 91.5,533.8 89.7,534.2C87.9,534.6 87.9,535.0 85.6,536.7C83.3,538.4 83.6,539.3 80.5,541.0C77.4,542.7 77.2,542.7 73.4,543.4C69.5,544.1 69.5,544.2 65.2,543.8C60.8,543.5 60.3,543.5 56.0,542.0C51.6,540.5 51.6,540.0 47.8,537.7C44.0,535.3 44.0,535.0 40.7,532.6C37.3,530.2 37.8,530.0 34.5,528.1C31.2,526.2 30.7,526.8 27.4,525.0C24.0,523.2 24.1,523.8 21.2,520.9C18.4,518.1 18.0,517.6 16.1,513.8C14.2,510.0 14.3,509.7 13.7,505.6C13.1,501.5 13.1,500.8 13.7,497.4Z" fill="#fff" stroke="#000" stroke-width="1.15"/>
<path d="M47.4,515.8C47.9,513.9 47.5,512.1 49.4,508.1C51.4,504.1 51.5,503.5 55.4,499.9C59.2,496.3 59.3,496.3 64.8,493.8C70.3,491.2 71.5,491.1 77.4,489.7C83.4,488.2 85.0,487.8 88.7,488.0C92.4,488.2 91.3,489.9 92.2,490.5" fill="none" stroke="#000" stroke-width="1.1"/>
<path d="M50.1,507.7C51.7,506.2 52.6,504.8 56.6,501.9C60.6,499.1 60.5,498.7 66.0,496.2C71.5,493.8 73.5,493.6 78.5,492.1C83.5,490.7 84.1,490.9 86.0,490.5" fill="none" stroke="#000" stroke-width="1.1"/>
<path d="M55.4,510.7C56.4,507.7 56.2,507.5 58.6,504.6C61.1,501.7 61.4,501.5 65.2,499.1C69.0,496.7 69.7,496.6 73.8,495.0C77.9,493.3 80.1,492.4 81.5,492.5C83.0,492.6 81.3,493.9 79.5,495.4C77.7,496.9 76.4,496.6 74.4,498.7C72.3,500.7 72.4,500.8 71.3,503.6C70.2,506.3 70.4,506.6 69.9,509.7C69.4,512.8 70.3,513.8 69.3,515.8C68.2,517.9 67.0,518.4 65.6,517.9C64.2,517.4 64.3,513.5 63.5,513.8C62.8,514.0 63.9,517.1 62.7,518.9C61.6,520.7 60.8,520.8 59.0,521.1C57.3,521.5 56.9,521.4 55.8,520.3C54.7,519.3 54.7,519.3 54.6,516.9C54.5,514.5 54.3,513.8 55.4,510.7Z" fill="#000" stroke="#000" stroke-width="0.6"/>
<path d="M49.2,517.9C49.1,516.2 49.4,514.6 50.3,512.2C51.1,509.7 51.3,509.7 52.5,508.1C53.7,506.4 54.7,505.1 55.0,505.6C55.3,506.1 54.5,507.8 53.7,510.1C53.0,512.4 52.9,512.7 52.1,514.8C51.3,517.0 51.4,517.9 50.7,518.7C50.0,519.5 49.3,519.5 49.2,517.9Z" fill="#000" stroke="#000" stroke-width="0.6"/>
<path d="M75.8,504.1C74.1,503.0 73.9,502.6 73.6,500.6C73.3,498.7 73.5,498.1 74.6,496.3C75.7,494.4 75.9,494.4 78.0,493.2C80.0,492.0 80.5,491.6 82.9,491.4C85.3,491.2 85.6,491.5 87.5,492.4C89.4,493.3 89.7,493.4 90.6,495.0C91.5,496.6 91.6,497.0 91.2,498.8C90.9,500.5 90.7,500.8 89.2,502.1C87.8,503.4 87.6,503.3 85.4,504.0C83.2,504.6 82.8,504.8 80.4,504.8C78.0,504.9 77.6,505.1 75.8,504.1Z" fill="#fff" stroke="#000" stroke-width="1.5"/>
<path d="M76.3,500.9C76.8,499.9 76.7,498.6 78.1,497.1C79.4,495.7 79.9,495.5 81.8,495.2C83.7,494.8 84.3,494.9 85.5,495.6C86.8,496.4 87.0,497.0 86.9,498.1C86.8,499.3 86.3,499.7 85.0,500.4C83.8,501.0 83.0,501.0 81.8,500.7C80.6,500.5 80.5,499.6 80.1,499.2" fill="none" stroke="#000" stroke-width="1.5"/>
<rect x="69.6" y="509.5" width="6.0" height="19.0" rx="2.7" fill="#fff" stroke="#000" stroke-width="1.1"/>
<path d="M68.9,513.8Q69.1,508.3 72.6,508.3Q75.8,508.3 76.2,513.8Z" fill="#f7931e" stroke="none" stroke-width="0"/>
<path d="M104.4,492.6C104.0,492.4 104.4,490.8 105.2,489.6C106.0,488.4 106.2,488.6 107.6,488.0C109.0,487.4 108.4,487.5 110.8,487.2C113.3,487.0 114.8,486.6 117.3,487.0C119.7,487.3 118.7,487.2 120.6,488.6C122.5,490.0 122.9,490.2 125.0,492.6C127.0,495.0 127.1,495.2 128.8,498.3C130.6,501.3 130.8,501.5 132.0,504.7C133.3,507.9 133.1,507.6 134.0,511.1C134.8,514.6 135.3,515.9 135.4,518.8C135.4,521.8 135.7,522.1 134.1,522.9C132.5,523.8 131.3,522.8 129.1,522.2C126.9,521.5 126.9,521.4 125.3,520.2C123.7,519.1 124.1,518.1 122.7,517.7C121.4,517.2 121.3,518.6 120.0,518.3C118.6,518.0 117.8,517.7 117.4,516.4C117.0,515.1 117.5,514.8 118.4,513.2C119.4,511.6 121.5,511.1 121.2,510.0C121.0,508.8 119.3,508.7 117.4,508.5C115.5,508.4 115.0,508.2 113.5,509.2C112.1,510.2 112.7,512.0 111.6,512.5C110.5,513.0 110.0,512.5 109.0,511.2C108.1,510.0 107.5,509.3 107.6,507.4C107.7,505.5 108.5,505.3 109.4,503.5C110.4,501.8 111.0,502.4 111.4,500.3C111.7,498.2 111.4,497.3 111.0,495.2C110.6,493.1 110.7,493.0 109.7,491.8C108.7,490.7 108.3,490.2 107.0,490.4C105.7,490.6 104.9,492.8 104.4,492.6Z" fill="#fff" stroke="#000" stroke-width="1.35"/>
<path d="M114.6,492.2L115.5,491.8L117.5,504.7L116.5,505.2Z" fill="#000" stroke="#000" stroke-width="0.6" stroke-linejoin="round"/>
<path d="M119.5,490.6C120.1,491.7 120.9,492.6 121.8,495.1C122.6,497.5 123.0,497.6 123.0,500.2C123.1,502.8 122.3,504.1 122.1,505.5" fill="none" stroke="#000" stroke-width="1.1" stroke-linecap="round"/>
<path d="M117.3,488.6C117.7,489.9 118.5,490.9 119.2,493.8C119.9,496.7 120.0,497.1 120.2,500.2C120.3,503.3 119.9,504.8 119.8,506.3" fill="none" stroke="#000" stroke-width="1.1" stroke-linecap="round"/>
<path d="M123.4,493.5C123.9,494.7 124.9,495.7 125.6,498.3C126.4,500.8 126.2,502.2 126.4,503.5" fill="none" stroke="#000" stroke-width="1.1" stroke-linecap="round"/>
<path d="M125.3,504.4C126.0,504.3 126.6,503.4 128.2,503.8C129.7,504.2 130.7,505.4 131.5,506.0" fill="none" stroke="#000" stroke-width="1.1" stroke-linecap="round"/>
<path d="M123.7,508.0C124.8,508.2 125.9,508.0 128.2,508.7C130.5,509.3 131.7,510.1 132.8,510.6" fill="none" stroke="#000" stroke-width="1.1" stroke-linecap="round"/>
<path d="M123.7,512.5C124.8,512.8 125.8,512.9 128.2,513.8C130.5,514.7 131.8,515.4 133.1,516.0" fill="none" stroke="#000" stroke-width="1.1" stroke-linecap="round"/>
<path d="M126.9,516.9C127.7,517.2 128.6,517.5 130.1,518.3C131.7,519.1 132.3,519.8 133.1,520.2" fill="none" stroke="#000" stroke-width="1.1" stroke-linecap="round"/>
<path d="M111.8,500.2C112.3,500.4 113.1,500.0 113.8,501.0C114.5,502.0 114.6,502.6 114.4,504.2C114.3,505.8 113.5,506.6 113.2,507.4" fill="none" stroke="#000" stroke-width="1.1" stroke-linecap="round"/>
<path d="M109.6,504.2C110.1,504.3 111.1,504.0 111.8,504.8C112.5,505.6 112.3,506.7 112.5,507.4" fill="none" stroke="#000" stroke-width="1.1" stroke-linecap="round"/>
<path d="M112.8,495.1C112.9,495.9 113.4,496.9 113.4,498.3C113.4,499.6 113.0,500.0 112.9,500.5" fill="none" stroke="#000" stroke-width="1.1" stroke-linecap="round"/>
<line x1="70.8" y1="464.4" x2="70.8" y2="507.4" stroke="#000" stroke-width="0.9"/>
<line x1="73.8" y1="464.4" x2="73.8" y2="507.4" stroke="#000" stroke-width="0.9"/>
<line x1="88.7" y1="495.0" x2="102.8" y2="486.3" stroke="#000" stroke-width="0.9"/>
<line x1="102.8" y1="486.3" x2="129.6" y2="469.2" stroke="#39b54a" stroke-width="4.1"/>
<line x1="102.8" y1="486.3" x2="129.6" y2="469.2" stroke="#a8dc6e" stroke-width="1.7"/>
<line x1="129.6" y1="469.2" x2="133.3" y2="466.8" stroke="#000" stroke-width="0.9"/>
<line x1="132.0" y1="464.9" x2="134.6" y2="468.7" stroke="#000" stroke-width="1.0"/>
<path d="M91.7,501.6Q87.5,510.5 77.6,514.8" fill="none" stroke="#1f9a45" stroke-width="1.25"/>
<path d="M76.3,515.3L79.5,512.1L80.8,515.3Z" fill="#1f9a45"/>
<path d="M91.7,501.6Q89.7,512.4 80.7,518.4" fill="none" stroke="#1f9a45" stroke-width="1.25"/>
<path d="M79.5,519.1L82.1,515.4L84.0,518.3Z" fill="#1f9a45"/>
<path d="M91.7,501.6Q91.7,511.8 85.5,518.5" fill="none" stroke="#1f9a45" stroke-width="1.25"/>
<path d="M84.6,519.5L86.1,515.2L88.7,517.6Z" fill="#1f9a45"/>
<text x="91.6" y="500.6" font-size="8.7" fill="#1f9a45" textLength="18.0" lengthAdjust="spacingAndGlyphs">SUB</text>
<text x="77.1" y="527.3" font-size="8.7" fill="#1f9a45" textLength="17.9" lengthAdjust="spacingAndGlyphs">ANT</text>
<text x="27.4" y="561.6" font-size="13.4" fill="#000" textLength="95.0" lengthAdjust="spacingAndGlyphs">Wild-type mice</text>
<g clip-path="url(#cA1)"><g filter="url(#grain)">
<rect x="158.0" y="0.0" width="87.2" height="69.4" fill="#000300"/>
<path d="M162.5,31.2C163.6,28.7 163.4,25.4 166.9,21.4C170.5,17.4 170.7,17.7 176.7,15.1C182.7,12.6 182.9,11.3 190.9,11.0C199.0,10.8 200.7,11.7 208.8,14.2C216.8,16.8 219.4,19.6 223.0,21.4" fill="none" stroke="#0a4410" stroke-width="2.0" filter="url(#bl1)" opacity="0.9"/>
<path d="M162.8,30.3C163.6,28.3 163.9,25.4 166.0,22.3C168.2,19.1 170.0,18.9 171.4,17.8" fill="none" stroke="#1fa52a" stroke-width="2.0" filter="url(#bl1)"/>
<ellipse cx="224.4" cy="29.9" rx="5" ry="7.5" fill="#2cc038" filter="url(#bl2)" transform="rotate(-35 224.4 29.9)"/>
<ellipse cx="222.1" cy="26.7" rx="2.6" ry="4.5" fill="#4ae055" filter="url(#bl1)" transform="rotate(-35 222.1 26.7)"/>
<ellipse cx="237.2" cy="40.1" rx="5.5" ry="7" fill="#0a4410" filter="url(#bl2)"/>
<path d="M228.3,23.1C230.1,24.0 231.9,24.7 235.5,26.7C239.0,28.7 240.8,30.0 242.6,31.2" fill="none" stroke="#0e5a14" stroke-width="1.6" filter="url(#bl1)"/>
<path d="M158.0,46.6C160.5,46.3 162.2,45.1 167.8,45.4C173.4,45.7 175.1,46.6 180.3,47.7C185.4,48.8 186.3,49.3 188.3,49.8" fill="none" stroke="#178a20" stroke-width="3.4" filter="url(#bl1)"/>
<ellipse cx="186.5" cy="49.5" rx="5" ry="2.4" fill="#3fe048" filter="url(#bl1)"/>
<ellipse cx="166.0" cy="50.7" rx="9" ry="5" fill="#0f5a14" filter="url(#bl2)"/>
</g>
<path d="M165.1,24.9C166.2,23.4 166.7,21.1 169.6,18.7C172.5,16.2 170.9,16.9 176.7,15.1C182.5,13.4 184.3,11.3 192.7,11.6C201.2,11.8 202.5,12.7 210.5,16.0C218.5,19.4 219.4,20.5 224.8,24.9C230.1,29.4 230.1,31.6 231.9,33.8" fill="none" stroke="#f0f0f0" stroke-width="1.1" stroke-dasharray="4.2 2.6"/>
<path d="M173.1,32.9C175.4,31.8 175.4,29.6 182.0,28.5C188.7,27.4 192.3,27.1 199.8,28.5C207.4,29.8 207.9,31.2 212.3,33.8C216.8,36.5 216.1,36.5 217.7,39.2C219.2,41.8 219.0,42.1 218.5,44.5C218.1,47.0 216.5,47.8 215.9,49.0" fill="none" stroke="#f0f0f0" stroke-width="1.1" stroke-dasharray="4.2 2.6"/>
<path d="M184.7,34.2C188.5,34.6 192.9,33.9 199.8,36.0C206.7,38.0 209.2,40.8 212.3,42.4" fill="none" stroke="#f0f0f0" stroke-width="1.1" stroke-dasharray="4.2 2.6"/>
<path d="M182.9,42.4C188.1,42.5 196.1,42.0 203.4,43.1C210.8,44.2 210.1,45.8 212.3,46.6" fill="none" stroke="#f0f0f0" stroke-width="1.1" stroke-dasharray="4.2 2.6"/>
<path d="M190.9,48.4C194.1,48.8 197.8,49.4 203.4,49.8C209.0,50.3 210.8,50.1 213.2,50.2" fill="none" stroke="#f0f0f0" stroke-width="1.1" stroke-dasharray="4.2 2.6"/>
<rect x="238.5" y="67.0" width="3.2" height="1.0" fill="#fff"/>
</g>
<text x="162.1" y="8.9" font-size="9.2" font-weight="normal" fill="#f4f4f4" textLength="21.7" lengthAdjust="spacingAndGlyphs">eYFP</text>
<text x="197.2" y="24.9" font-size="7.4" font-weight="normal" fill="#eee" textLength="14.2" lengthAdjust="spacingAndGlyphs">CA1</text>
<text x="221.2" y="41.8" font-size="7.6" font-weight="normal" fill="#eee" textLength="16.0" lengthAdjust="spacingAndGlyphs">SUB</text>
<text x="204.8" y="48.1" font-size="7.4" font-weight="normal" fill="#eee" textLength="11.4" lengthAdjust="spacingAndGlyphs">DG</text>
<text x="179.4" y="58.4" font-size="6.2" font-weight="normal" fill="#ddd" textLength="17.8" lengthAdjust="spacingAndGlyphs">LPMR</text>
<g clip-path="url(#cA2)"><g filter="url(#grain)">
<rect x="158.4" y="73.9" width="86.8" height="71.7" fill="#043009"/>
<rect x="215.0" y="73.9" width="30.2" height="71.7" fill="#021d07" filter="url(#bl2)"/>
<path d="M185.6,83.7C189.2,79.7 190.7,78.6 196.3,76.6C201.9,74.5 204.5,71.7 207.9,75.7C211.2,79.7 208.7,83.9 209.6,92.6C210.5,101.3 211.4,101.5 211.4,110.4C211.4,119.3 211.0,119.5 209.6,128.2C208.3,136.9 215.2,140.9 206.1,145.1C197.0,149.3 181.6,149.3 173.1,145.1C164.7,140.9 171.4,137.8 172.3,128.2C173.1,118.6 174.3,115.7 176.7,106.8C179.2,97.9 179.8,98.4 182.0,92.6C184.3,86.8 182.0,87.7 185.6,83.7Z" fill="#0c6214" stroke="none" stroke-width="0" filter="url(#bl2)"/>
<ellipse cx="192.4" cy="109.0" rx="17" ry="7.5" fill="#40e850" filter="url(#bl2)" transform="rotate(-27 192.4 109.0)"/>
<ellipse cx="191.3" cy="110.0" rx="10" ry="4" fill="#8cffa0" filter="url(#bl2)" transform="rotate(-27 191.3 110.0)"/>
<ellipse cx="191.8" cy="130.0" rx="11" ry="9" fill="#11701a" filter="url(#bl2)"/>
<ellipse cx="194.5" cy="89.0" rx="9" ry="7" fill="#0f6a17" filter="url(#bl2)"/>
</g>
<path d="M184.7,85.5C183.8,89.0 183.4,92.6 181.2,99.7C178.9,106.8 178.0,106.8 175.8,113.9C173.6,121.1 172.9,121.1 172.3,128.2C171.6,135.3 172.9,138.9 173.1,142.4" fill="none" stroke="#f0f0f0" stroke-width="1.0" stroke-dasharray="4.2 2.6"/>
<path d="M207.9,74.4C208.1,77.2 207.9,76.5 208.8,85.5C209.6,94.4 211.2,99.7 211.4,110.4C211.6,121.1 210.8,121.3 209.6,128.2C208.4,135.1 207.4,135.5 206.6,138.0" fill="none" stroke="#f0f0f0" stroke-width="1.0" stroke-dasharray="4.2 2.6"/>
<path d="M215.0,74.4C215.2,77.2 215.6,82.7 215.9,85.5" fill="none" stroke="#f0f0f0" stroke-width="1.0" stroke-dasharray="4.2 2.6"/>
<rect x="232.8" y="141.0" width="8.0" height="1.8" fill="#ddd"/>
</g>
<text x="160.3" y="82.8" font-size="9.2" font-weight="normal" fill="#f4f4f4" textLength="22.6" lengthAdjust="spacingAndGlyphs">eYFP</text>
<text x="165.1" y="97.9" font-size="6.6" font-weight="normal" fill="#ddd" textLength="13.4" lengthAdjust="spacingAndGlyphs">D3V</text>
<text x="190.6" y="93.5" font-size="7.4" font-weight="normal" fill="#eee" textLength="9.8" lengthAdjust="spacingAndGlyphs">AD</text>
<text x="188.8" y="111.3" font-size="7.4" font-weight="normal" fill="#eee" textLength="8.9" lengthAdjust="spacingAndGlyphs">AV</text>
<text x="188.3" y="126.9" font-size="7.4" font-weight="normal" fill="#eee" textLength="10.1" lengthAdjust="spacingAndGlyphs">AM</text>
<g clip-path="url(#cI1)"><g filter="url(#grain)">
<rect x="159.8" y="414.0" width="92.8" height="73.7" fill="#051805"/>
<ellipse cx="238.1" cy="439.9" rx="9" ry="7.5" fill="#45e04e" filter="url(#bl2)" transform="rotate(-30 238.1 439.9)"/>
<ellipse cx="235.5" cy="441.7" rx="5.5" ry="4.5" fill="#72ff78" filter="url(#bl1)"/>
<path d="M178.5,462.2C178.7,459.5 176.9,457.1 179.4,451.5C181.8,445.9 182.3,445.3 188.3,439.9C194.3,434.6 195.2,433.6 203.4,430.1C211.6,426.7 213.6,426.3 221.2,426.0C228.8,425.8 230.6,428.4 233.7,429.2" fill="none" stroke="#0b4a11" stroke-width="2.0" filter="url(#bl1)"/>
<path d="M178.1,462.7C178.2,460.4 177.5,457.2 178.5,453.3C179.5,449.4 181.2,448.6 182.0,447.0" fill="none" stroke="#17821f" stroke-width="1.5" filter="url(#bl1)"/>
</g>
<path d="M178.5,459.5C179.2,456.8 177.1,455.1 181.2,448.8C185.2,442.6 185.4,440.1 194.5,434.6C203.6,429.0 207.4,428.1 217.7,426.6C227.9,425.0 228.3,426.3 235.5,428.4C242.6,430.4 243.5,433.0 246.1,434.6" fill="none" stroke="#f0f0f0" stroke-width="1.1" stroke-dasharray="4.2 2.6"/>
<path d="M189.2,457.7C190.5,455.7 190.9,453.3 194.5,449.7C198.1,446.2 196.7,445.9 203.4,443.5C210.1,441.0 214.5,439.7 221.2,439.9C227.9,440.1 227.2,441.5 230.1,444.4C233.0,447.3 233.2,448.2 232.8,451.5C232.3,454.8 231.2,455.2 228.3,457.7C225.4,460.3 227.4,459.0 221.2,461.6C215.0,464.3 207.9,466.7 203.4,468.4" fill="none" stroke="#f0f0f0" stroke-width="1.1" stroke-dasharray="4.2 2.6"/>
<path d="M196.3,459.2C199.0,457.7 199.8,455.4 207.0,453.3C214.1,451.1 220.3,451.3 224.8,450.6" fill="none" stroke="#f0f0f0" stroke-width="1.1" stroke-dasharray="4.2 2.6"/>
<path d="M203.4,463.1C206.1,462.2 209.2,461.5 214.1,459.5C219.0,457.5 220.8,456.2 223.0,455.1" fill="none" stroke="#f0f0f0" stroke-width="1.1" stroke-dasharray="4.2 2.6"/>
<rect x="246.1" y="484.8" width="3.4" height="1.0" fill="#fff"/>
</g>
<text x="162.1" y="423.9" font-size="9.2" font-weight="normal" fill="#f4f4f4" textLength="23.5" lengthAdjust="spacingAndGlyphs">eGFP</text>
<text x="210.5" y="438.1" font-size="7.4" font-weight="normal" fill="#eee" textLength="13.9" lengthAdjust="spacingAndGlyphs">CA1</text>
<text x="231.0" y="439.0" font-size="7.6" font-weight="normal" fill="#eee" textLength="15.1" lengthAdjust="spacingAndGlyphs">SUB</text>
<text x="210.0" y="450.6" font-size="7.4" font-weight="normal" fill="#eee" textLength="11.2" lengthAdjust="spacingAndGlyphs">DG</text>
<text x="192.7" y="477.7" font-size="6.2" font-weight="normal" fill="#ddd" textLength="18.4" lengthAdjust="spacingAndGlyphs">LPMR</text>
<g clip-path="url(#cI2)"><g filter="url(#grain2)">
<rect x="159.6" y="491.4" width="92.9" height="77.1" fill="#11621a"/>
<ellipse cx="241.1" cy="511.5" rx="18" ry="14" fill="#0a4a0e" filter="url(#bl3)"/>
<ellipse cx="213.1" cy="553.6" rx="14" ry="8" fill="#0a480e" filter="url(#bl3)"/>
<ellipse cx="211.3" cy="502.8" rx="10" ry="7" fill="#0a480e" filter="url(#bl2)"/>
<ellipse cx="178.0" cy="562.3" rx="12" ry="6" fill="#0b4c10" filter="url(#bl2)"/>
<ellipse cx="183.3" cy="532.6" rx="16" ry="13" fill="#1e9227" filter="url(#bl3)"/>
<ellipse cx="225.3" cy="537.8" rx="14" ry="12" fill="#167a1e" filter="url(#bl3)"/>
<path d="M158.8,490.5L176.3,490.5L172.4,510.7Q165.8,525.6 161.9,546.6L160.9,569.3L158.8,569.3Z" fill="#000" stroke="#000" stroke-width="1" filter="url(#bl1)"/>
<rect x="178.0" y="499.6" width="9.1" height="15.1" rx="2.5" fill="#000" filter="url(#bl1)"/>
<ellipse cx="240.2" cy="521.2" rx="1.8" ry="3.6" fill="#021a03" filter="url(#bl1)"/>
</g>
<ellipse cx="183.3" cy="500.3" rx="3" ry="1.8" fill="#4dfa55" filter="url(#bl1)"/>
<path d="M172.8,508.0C171.7,512.0 170.8,515.0 168.4,523.8C166.0,532.6 164.9,533.4 163.1,543.1C161.4,552.7 161.8,557.5 161.4,562.3" fill="none" stroke="#f0f0f0" stroke-width="1.0" stroke-dasharray="4.2 2.6"/>
<path d="M203.4,511.5C203.2,515.5 203.7,519.4 202.6,527.3C201.5,535.2 201.2,535.0 199.1,543.1C196.9,551.2 195.1,555.6 193.8,559.7" fill="none" stroke="#f0f0f0" stroke-width="1.0" stroke-dasharray="4.2 2.6"/>
<path d="M187.7,492.3C187.7,498.2 190.2,510.0 187.7,515.9C185.2,521.8 180.2,520.1 177.7,515.9C175.2,511.8 177.7,503.4 177.7,499.3" fill="none" stroke="#f0f0f0" stroke-width="0.9" stroke-dasharray="2.6 2"/>
<rect x="239.7" y="563.4" width="8.1" height="1.5" fill="#fff"/>
</g>
<text x="159.6" y="498.4" font-size="9.4" font-weight="normal" fill="#fff" textLength="23.4" lengthAdjust="spacingAndGlyphs">eGFP</text>
<text x="159.6" y="508.0" font-size="6.4" font-weight="normal" fill="#eee" textLength="13.2" lengthAdjust="spacingAndGlyphs">D3V</text>
<text x="190.3" y="509.8" font-size="7.4" font-weight="normal" fill="#eee" textLength="10.5" lengthAdjust="spacingAndGlyphs">AD</text>
<text x="181.9" y="529.0" font-size="7.4" font-weight="normal" fill="#eee" textLength="9.3" lengthAdjust="spacingAndGlyphs">AV</text>
<text x="177.2" y="551.8" font-size="7.4" font-weight="normal" fill="#eee" textLength="11.0" lengthAdjust="spacingAndGlyphs">AM</text>
<text x="0.2" y="291.0" font-size="20" font-weight="normal" fill="#000">h</text>
<text x="66.3" y="293.4" font-size="12.5" fill="#000" textLength="21.0" lengthAdjust="spacingAndGlyphs">Pre</text>
<rect x="53.9" y="296.3" width="9.9" height="107.2" fill="#000"/>
<path d="M67.0,295.2V348.8M68.5,295.2V348.8M70.2,295.2V348.8M71.7,295.2V348.8M74.6,295.2V348.8M78.2,295.2V348.8" fill="none" stroke="#000" stroke-width="0.7"/>
<path d="M79.5,318.1 79.8,339.5 80.0,317.1 80.3,348.0 80.6,307.5 80.8,337.9 81.1,302.4 81.4,336.8 81.7,313.4 81.9,338.8 82.2,307.3 82.5,338.6 82.7,308.4 83.0,332.6 83.3,303.4 83.5,334.7 83.8,309.5 84.1,335.2 84.4,309.2 84.6,339.0 84.9,309.7 85.2,337.0 85.4,312.2 85.7,337.9 86.0,311.8 86.2,338.6 86.5,313.1 86.8,346.8 87.1,302.9 87.3,345.3 87.6,305.7 87.9,345.5 88.1,308.8 88.4,345.1 88.7,317.1 88.9,342.3 89.2,310.0 89.5,348.1 89.8,312.6 90.0,346.6 90.3,316.5 90.6,349.9 90.8,312.9 91.1,351.3 91.4,319.7 91.6,339.7 91.9,310.6 92.2,339.0 92.5,312.0 92.7,342.6 93.0,312.7 93.3,341.9 93.5,312.1 93.8,337.7 94.1,313.1 94.3,343.9 94.6,313.6 94.9,340.8 95.2,308.3 95.4,339.6 95.7,315.6 96.0,342.3 96.2,313.7 96.5,342.5 96.8,316.1 97.0,335.0 97.3,318.7 97.6,334.6 97.9,317.9 98.1,341.8 98.4,320.8 98.7,337.2 98.9,317.8 99.2,337.0 99.5,313.3 99.7,336.6 100.0,310.5 100.3,337.2 100.6,314.9 100.8,342.1 101.1,309.7 101.4,334.8 101.6,305.1 101.9,336.0 102.2,318.1 102.4,343.1 102.7,310.2 103.0,344.0 103.3,316.3 103.5,335.6 103.8,313.4 104.1,337.3 104.3,317.8 104.6,349.4 104.9,319.0 105.1,338.8 105.4,316.6 105.7,335.6 106.0,313.0 106.2,338.2 106.5,314.9 106.8,340.0 107.0,321.2 107.3,334.5 107.6,318.5 107.8,338.8 108.1,318.0 108.4,336.6 108.7,312.5 108.9,342.8 109.2,316.2 109.5,342.3 109.7,317.1 110.0,334.4 110.3,309.9 110.5,339.5 110.8,306.7 111.1,342.1 111.4,308.2 111.6,346.9 111.9,315.7 112.2,340.1 112.4,315.4 112.7,351.2 113.0,314.0 113.2,340.7 113.5,319.4 113.8,335.4 114.1,318.5 114.3,339.5 114.6,319.3 114.9,342.7 115.1,313.9 115.4,335.8 115.7,318.0 115.9,335.4 116.2,318.0 116.5,340.1 116.8,311.6 117.0,335.3 117.3,311.6 117.6,341.4 117.8,312.9 118.1,343.3 118.4,318.0 118.6,344.3 118.9,314.4 119.2,337.9 119.5,313.5 119.7,339.9 120.0,312.9 120.3,335.2 120.5,315.5 120.8,337.2 121.1,311.2 121.3,334.6 121.6,320.1 121.9,335.9 122.2,319.1 122.4,339.4 122.7,319.8 123.0,335.8 123.2,319.0 123.5,339.5 123.8,313.8 124.0,337.1 124.3,318.7 124.6,333.1 124.9,320.6 125.1,335.9 125.4,318.4 125.7,343.7 125.9,319.7 126.2,334.0 126.5,319.7 126.7,333.3 127.0,316.5 127.3,333.5 127.6,313.9 127.8,334.1 128.1,315.9 128.4,339.2 128.6,315.3 128.9,334.5 129.2,317.1 129.4,335.6 129.7,316.2 130.0,334.4 130.3,319.7 130.5,334.6 130.8,318.4 131.1,334.8 131.3,319.2 131.6,333.5 131.9,320.7 132.1,335.2 132.4,319.2 132.7,333.4 133.0,320.6 133.2,336.7 133.5,319.8 133.8,331.4 134.0,316.0 134.3,332.2 134.6,319.8 134.8,332.9 135.1,315.3 135.4,335.4 135.7,318.0 135.9,331.4 136.2,316.9 136.5,333.2 136.7,319.9 137.0,337.0 137.3,320.1 137.5,331.2 137.8,320.2 138.1,334.3 138.4,320.1 138.6,331.6 138.9,322.2 139.2,335.1 139.4,319.2 139.7,338.8 140.0,318.9 140.2,331.7 140.5,318.2 140.8,332.5 141.1,321.5 141.3,333.3 141.6,317.1 141.9,336.0 142.1,320.6 142.4,340.0 142.7,318.8 142.9,335.4 143.2,319.3 143.5,336.5 143.8,318.2 144.0,336.2 144.3,321.7 144.6,334.9 144.8,322.1 145.1,334.7 145.4,322.5 145.6,331.9 145.9,320.9 146.2,331.5 146.5,319.4 146.7,339.2 147.0,321.1 147.3,332.2 147.5,319.5 147.8,334.1 148.1,321.5 148.3,335.8 148.6,321.2 148.9,332.2 149.2,323.2 149.4,332.6 149.7,317.6 150.0,337.1 150.2,322.7 150.5,333.0 150.8,320.6 151.0,331.0 151.3,320.9 151.6,332.2 151.9,320.1 152.1,335.2 152.4,319.4 152.7,335.0 152.9,321.5 153.2,332.7 153.5,322.9 153.7,333.7 154.0,321.1 154.3,330.1 154.6,323.0 154.8,330.4 155.1,321.3 155.4,330.8 155.6,321.3 155.9,330.8 156.2,323.9 156.4,330.8 156.7,322.1 157.0,330.5 157.3,323.3 157.5,330.1 157.8,321.7 158.1,330.5 158.3,324.0 158.6,337.0 158.9,321.6 159.1,333.6 159.4,323.4 159.7,334.7 160.0,320.5 160.2,332.1 160.5,320.2 160.8,334.7 161.0,323.3 161.3,335.2 161.6,318.7 161.8,331.9 162.1,320.3 162.4,331.7 162.7,321.3 162.9,330.2 163.2,318.7 163.5,334.3 163.7,321.0 164.0,333.4 164.3,321.8 164.5,330.2 164.8,323.5 165.1,331.8 165.4,323.7 165.6,330.7 165.9,323.0 166.2,333.4 166.4,322.4 166.7,331.3 167.0,320.8 167.2,336.0 167.5,320.0 167.8,330.5 168.1,318.9 168.3,331.2 168.6,322.9 168.9,332.0 169.1,323.2 169.4,334.5 169.7,320.4 169.9,333.1 170.2,324.0 170.5,332.6 170.8,323.9 171.0,332.1 171.3,322.3 171.6,331.4 171.8,322.7 172.1,329.8 172.4,322.5 172.6,331.3 172.9,321.8 173.2,330.2 173.5,322.2 173.7,332.2 174.0,323.2 174.3,330.6 174.5,323.5 174.8,331.4 175.1,323.4 175.3,332.4 175.6,323.1 175.9,331.9 176.2,322.9 176.4,331.0 176.7,321.4 177.0,332.8 177.2,321.7 177.5,330.3 177.8,320.8 178.0,329.6 178.3,320.7 178.6,333.0 178.9,323.1 179.1,330.3 179.4,321.5 179.7,330.5 179.9,321.2 180.2,332.3 180.5,322.3 180.7,332.2 181.0,323.3 181.3,332.0 181.6,323.2 181.8,332.6 182.1,324.3 182.4,333.6 182.6,321.4 182.9,330.3 183.2,323.0 183.4,332.6 183.7,323.3 184.0,329.3 184.3,322.9 184.5,331.6 184.8,323.1 185.1,332.3 185.3,323.5 185.6,329.3 185.9,322.6 186.1,333.0 186.4,323.5 186.7,329.5 187.0,324.5 187.2,330.2 187.5,324.0 187.8,330.5 188.0,323.8 188.3,330.5 188.6,323.0 188.8,329.0 189.1,323.9 189.4,331.2 189.7,324.5 189.9,329.8 190.2,322.7 190.5,329.1 190.7,324.2 191.0,330.5 191.3,321.7 191.5,331.3 191.8,322.6 192.1,330.4 192.4,322.4 192.6,329.0 192.9,323.9 193.2,329.9 193.4,323.6 193.7,328.8 194.0,323.9 194.2,329.5 194.5,321.8 194.8,328.8 195.1,324.8 195.3,328.5 195.6,324.2 195.9,328.7 196.1,325.1 196.4,328.9 196.7,322.6 196.9,330.3 197.2,324.9 197.5,330.0 197.8,325.2 198.0,329.6 198.3,324.9 198.6,330.5 198.8,323.9 199.1,329.5 199.4,324.6 199.6,330.7 199.9,323.1 200.2,329.4 200.5,324.5 200.7,328.6 201.0,323.7 201.3,329.1 201.5,322.8 201.8,331.3 202.1,323.6 202.3,329.1 202.6,323.5 202.9,329.9 203.2,325.1 203.4,329.1 203.7,323.5 204.0,328.9 204.2,324.6 204.5,331.7 204.8,323.5 205.0,328.7 205.3,323.8 205.6,329.7 205.9,325.0 206.1,329.3 206.4,322.1 206.7,329.2 206.9,324.9 207.2,329.9 207.5,325.3 207.7,330.6 208.0,324.5 208.3,331.7 208.6,324.3 208.8,330.2 209.1,323.9 209.4,329.3 209.6,324.8 209.9,330.1 210.2,324.9 210.4,328.3 210.7,323.7 211.0,329.1 211.3,322.6 211.5,329.4 211.8,323.9 212.1,329.4 212.3,321.3 212.6,330.3 212.9,324.4 213.1,330.7 213.4,322.6 213.7,330.6 214.0,322.3 214.2,330.0 214.5,322.6 214.8,330.9 215.0,323.3 215.3,330.6 215.6,323.4 215.8,329.0 216.1,323.7 216.4,332.4 216.7,322.6 216.9,332.7 217.2,324.4 217.5,330.8 217.7,322.1 218.0,329.7 218.3,322.8 218.5,329.7 218.8,322.4 219.1,334.5 219.4,323.5 219.6,333.9 219.9,323.4 220.2,331.8 220.4,324.0 220.7,333.1 221.0,323.9 221.2,329.9 221.5,323.9 221.8,331.1 222.1,324.2 222.3,330.0 222.6,322.7 222.9,329.9 223.1,324.7 223.4,330.8 223.7,323.2 223.9,331.0 224.2,322.9 224.5,330.1 224.8,322.3 225.0,329.3 225.3,323.1 225.6,330.6 225.8,319.9 226.1,330.5 226.4,324.0 226.6,330.3 226.9,322.7 227.2,331.8 227.5,322.6 227.7,330.6 228.0,322.6 228.3,330.0 228.5,323.5 228.8,331.0 229.1,323.4 229.3,329.8 229.6,324.7 229.9,329.9 230.2,324.9 230.4,332.0 230.7,323.6 231.0,331.9 231.2,323.6 231.5,331.1 231.8,324.1 232.0,331.0 232.3,324.4 232.6,331.6 232.9,322.8 233.1,329.7 233.4,323.2 233.7,330.5 233.9,320.9 234.2,330.2 234.5,324.7 234.7,332.0 235.0,324.6 235.3,329.4 235.6,324.4 235.8,327.9 236.1,324.1 236.4,327.7 236.6,324.6 236.9,328.1 237.2,325.0 237.4,327.7 237.7,326.1 238.0,327.3" fill="none" stroke="#000" stroke-width="0.7" stroke-linejoin="round"/>
<path d="M237.5,326.8Q239.0,328.0 241.0,326.8L260.3,326.8" fill="none" stroke="#000" stroke-width="1.1"/>
<g clip-path="url(#sc1)"><g filter="url(#jet1)">
<rect x="61.8" y="351.6" width="203.7" height="53.4" fill="#000"/>
<path d="M84.0,352.6L118.0,352.6L138.0,360.0L156.0,372.0L175.0,386.0L243.0,396.0L243.0,404.0L84.0,404.0Z" fill="rgb(59,59,59)" filter="url(#sb2)"/>
<path d="M84.0,377.0L105.0,377.0L125.0,380.0L146.0,385.0L170.0,389.0L194.0,393.0L241.0,398.0L241.0,404.0L84.0,404.0Z" fill="rgb(121,121,121)" filter="url(#sb1)"/>
<path d="M84.0,382.0L110.0,383.0L140.0,389.0L175.0,394.0L215.0,399.0L215.0,404.0L84.0,404.0Z" fill="rgb(149,149,149)" filter="url(#sb2)"/>
<path d="M88.0,388.0L115.0,388.0L135.0,393.0L158.0,399.0L158.0,404.0L88.0,404.0Z" fill="rgb(181,181,181)" filter="url(#sb2)"/>
<path d="M86.0,399.5L240.0,400.8L240.0,404.0L86.0,404.0Z" fill="rgb(171,171,171)" filter="url(#sb1)"/>
<path d="M79.5,352.6L82.6,352.6L86.5,404.0L80.0,404.0Z" fill="rgb(121,121,121)" filter="url(#sb1)"/>
<path d="M73.8,383.0L76.2,383.0L76.2,404.0L72.6,404.0Z" fill="rgb(111,111,111)" filter="url(#sb1)"/>
</g>
<path d="M76.0,353.6L79.8,353.6L80.4,385.0L82.6,404.0L75.0,404.0L75.6,385.0Z" fill="#ff1a00" stroke="#ffb000" stroke-width="0.5"/>
<rect x="64.2" y="362.8" width="9" height="1.3" fill="#12cc60"/>
<rect x="64.2" y="372.6" width="9" height="1.3" fill="#12cc60"/>
<rect x="64.2" y="382.5" width="9" height="1.3" fill="#12cc60"/>
<rect x="64.2" y="392.4" width="9" height="1.3" fill="#12cc60"/>
</g>
<text x="50.3" y="360.3" font-size="9.5" font-weight="normal" text-anchor="end" fill="#111">100</text>
<text x="50.3" y="403.3" font-size="9.5" font-weight="normal" text-anchor="end" fill="#111">0</text>
<text x="48.0" y="378.1" font-size="9.6" font-weight="normal" text-anchor="middle" fill="#111" transform="rotate(-90 48.0 378.1)">Hz</text>
<text x="54.4" y="415.3" font-size="10.2" fill="#000" textLength="100.6" lengthAdjust="spacingAndGlyphs">Kindling stimulation</text>
<text x="346.2" y="292.7" font-size="11.5" fill="#2e3192" textLength="31.0" lengthAdjust="spacingAndGlyphs">Light</text>
<rect x="334.8" y="296.1" width="10.6" height="106.7" fill="#000"/>
<path d="M345.6,310.2 345.9,339.0 346.1,310.7 346.4,334.4 346.7,315.3 346.9,331.3 347.2,309.1 347.5,334.6 347.8,307.1 348.0,334.4 348.3,312.3 348.6,334.1 348.8,310.1 349.1,335.2 349.4,311.9 349.6,332.2 349.9,313.9 350.2,336.1 350.5,308.3 350.7,330.8 351.0,316.2 351.3,335.8 351.5,316.4 351.8,332.7 352.1,317.9 352.3,332.5 352.6,314.6 352.9,336.7 353.2,310.2 353.4,337.2 353.7,317.7 354.0,337.9 354.2,315.0 354.5,336.6 354.8,310.4 355.0,332.8 355.3,314.8 355.6,331.4 355.9,308.2 356.1,333.1 356.4,318.1 356.7,331.3 356.9,313.5 357.2,333.3 357.5,314.7 357.7,332.2 358.0,313.1 358.3,331.7 358.6,319.2 358.8,331.9 359.1,317.9 359.4,337.1 359.6,317.3 359.9,329.7 360.2,315.6 360.4,334.3 360.7,314.3 361.0,334.5 361.3,314.2 361.5,335.0 361.8,315.2 362.1,334.5 362.3,316.0 362.6,333.8 362.9,319.2 363.1,331.8 363.4,315.9 363.7,334.0 364.0,317.3 364.2,334.6 364.5,308.3 364.8,336.4 365.0,311.0 365.3,340.2 365.6,303.8 365.8,335.9 366.1,306.5 366.4,339.2 366.7,307.1 366.9,334.9 367.2,313.5 367.5,331.3 367.7,317.0 368.0,333.6 368.3,310.3 368.5,335.2 368.8,313.2 369.1,335.2 369.4,306.2 369.6,338.5 369.9,317.5 370.2,336.4 370.4,314.7 370.7,332.7 371.0,312.7 371.2,329.5 371.5,312.8 371.8,330.8 372.1,317.3 372.3,331.4 372.6,316.4 372.9,333.0 373.1,315.8 373.4,330.9 373.7,311.0 373.9,335.4 374.2,317.5 374.5,340.6 374.8,312.5 375.0,335.8 375.3,318.2 375.6,334.9 375.8,315.3 376.1,330.0 376.4,311.5 376.6,337.0 376.9,316.4 377.2,335.2 377.5,309.7 377.7,333.1 378.0,315.5 378.3,338.1 378.5,313.5 378.8,329.7 379.1,314.3 379.3,332.9 379.6,317.2 379.9,335.1 380.2,315.2 380.4,340.2 380.7,318.6 381.0,331.8 381.2,313.6 381.5,331.4 381.8,312.7 382.0,334.7 382.3,317.6 382.6,333.2 382.9,310.8 383.1,330.9 383.4,315.1 383.7,329.5 383.9,313.3 384.2,338.1 384.5,315.4 384.7,333.0 385.0,310.2 385.3,330.0 385.6,318.2 385.8,329.8 386.1,318.6 386.4,330.5 386.6,320.1 386.9,330.0 387.2,316.3 387.4,331.7 387.7,311.9 388.0,333.3 388.3,313.4 388.5,333.8 388.8,316.3 389.1,330.3 389.3,314.6 389.6,328.5 389.9,317.9 390.1,329.2 390.4,317.1 390.7,330.8 391.0,315.5 391.2,333.5 391.5,314.5 391.8,332.1 392.0,316.5 392.3,330.4 392.6,317.4 392.8,332.5 393.1,315.0 393.4,334.0 393.7,314.0 393.9,333.8 394.2,311.5 394.5,333.1 394.7,309.0 395.0,340.5 395.3,317.7 395.5,329.2 395.8,316.6 396.1,329.3 396.4,316.2 396.6,329.9 396.9,310.6 397.2,332.9 397.4,317.4 397.7,336.7 398.0,317.7 398.2,332.4 398.5,318.3 398.8,328.6 399.1,315.8 399.3,328.5 399.6,317.1 399.9,329.7 400.1,315.2 400.4,327.1 400.7,315.2 400.9,329.0 401.2,314.1 401.5,328.2 401.8,314.1 402.0,329.0 402.3,316.4 402.6,331.3 402.8,314.7 403.1,332.8 403.4,313.8 403.6,331.0 403.9,309.4 404.2,337.1 404.5,318.0 404.7,331.3 405.0,315.7 405.3,335.6 405.5,311.9 405.8,335.4 406.1,309.4 406.3,330.1 406.6,315.7 406.9,329.6 407.2,316.8 407.4,332.0 407.7,317.6 408.0,331.5 408.2,315.0 408.5,332.5 408.8,318.5 409.0,329.8 409.3,320.0 409.6,331.1 409.9,317.6 410.1,329.8 410.4,315.2 410.7,329.5 410.9,319.0 411.2,327.6 411.5,316.8 411.7,329.9 412.0,314.5 412.3,326.8 412.6,318.2 412.8,332.8 413.1,316.6 413.4,328.0 413.6,317.5 413.9,328.2 414.2,316.3 414.4,328.0 414.7,316.8 415.0,327.3 415.3,320.1 415.5,329.3 415.8,318.4 416.1,330.1 416.3,319.7 416.6,328.1 416.9,319.0 417.1,329.1 417.4,316.8 417.7,330.7 418.0,317.2 418.2,330.4 418.5,317.5 418.8,329.2 419.0,317.2 419.3,331.0 419.6,318.4 419.8,332.0 420.1,316.1 420.4,332.2 420.7,315.2 420.9,328.6 421.2,318.3 421.5,332.6 421.7,315.8 422.0,330.4 422.3,312.6 422.5,328.9 422.8,317.6 423.1,328.6 423.4,316.4 423.6,337.2 423.9,316.1 424.2,327.4 424.4,317.3 424.7,329.6 425.0,314.4 425.2,328.0 425.5,316.7 425.8,329.4 426.1,317.4 426.3,327.4 426.6,318.3 426.9,330.5 427.1,319.2 427.4,327.8 427.7,320.2 427.9,327.5 428.2,317.4 428.5,331.6 428.8,316.2 429.0,329.3 429.3,317.6 429.6,330.9 429.8,318.8 430.1,329.5 430.4,320.4 430.6,328.3 430.9,318.4 431.2,327.6 431.5,320.2 431.7,327.4 432.0,318.9 432.3,330.3 432.5,316.8 432.8,328.7 433.1,319.5 433.3,330.2 433.6,320.0 433.9,330.7 434.2,317.2 434.4,328.3 434.7,317.1 435.0,328.4 435.2,317.7 435.5,331.0 435.8,320.0 436.0,327.5 436.3,317.0 436.6,329.9 436.9,317.1 437.1,328.0 437.4,319.4 437.7,327.1 437.9,318.0 438.2,328.3 438.5,318.3 438.7,328.1 439.0,319.3 439.3,333.7 439.6,314.9 439.8,330.8 440.1,316.8 440.4,330.9 440.6,316.6 440.9,328.1 441.2,319.1 441.4,329.6 441.7,317.4 442.0,330.3 442.3,319.8 442.5,328.4 442.8,317.8 443.1,328.8 443.3,318.3 443.6,328.5 443.9,320.5 444.1,329.2 444.4,319.7 444.7,327.3 445.0,315.6 445.2,326.9 445.5,318.2 445.8,330.1 446.0,319.9 446.3,328.7 446.6,319.5 446.8,327.7 447.1,316.1 447.4,327.4 447.7,318.0 447.9,328.5 448.2,316.8 448.5,331.7 448.7,315.5 449.0,328.8 449.3,318.4 449.5,327.0 449.8,319.5 450.1,329.3 450.4,317.5 450.6,327.7 450.9,317.8 451.2,328.6 451.4,316.0 451.7,328.6 452.0,317.2 452.2,329.5 452.5,316.0 452.8,329.5 453.1,318.5 453.3,326.2 453.6,318.8 453.9,327.7 454.1,318.9 454.4,327.2 454.7,319.2 454.9,328.5 455.2,319.1 455.5,329.3 455.8,321.1 456.0,329.3 456.3,319.0 456.6,328.7 456.8,318.9 457.1,327.6 457.4,318.4 457.6,326.8 457.9,318.7 458.2,326.2 458.5,319.1 458.7,327.5 459.0,318.8 459.3,332.9 459.5,320.7 459.8,327.0 460.1,317.3 460.3,329.2 460.6,319.8 460.9,328.6 461.2,317.8 461.4,327.8 461.7,317.9 462.0,326.8 462.2,318.4 462.5,330.3 462.8,317.9 463.0,327.1 463.3,319.9 463.6,327.2 463.9,320.9 464.1,327.2 464.4,320.4 464.7,328.1 464.9,318.3 465.2,325.9 465.5,319.5 465.7,327.2 466.0,319.9 466.3,325.8 466.6,319.7 466.8,329.9 467.1,316.2 467.4,327.8 467.6,318.8 467.9,330.9 468.2,319.9 468.4,326.4 468.7,318.8 469.0,327.5 469.3,321.0 469.5,328.2 469.8,319.0 470.1,329.1 470.3,319.6 470.6,327.2 470.9,321.0 471.1,327.7 471.4,320.0 471.7,326.4 472.0,318.6 472.2,329.2 472.5,316.8 472.8,330.8 473.0,320.9 473.3,328.6 473.6,321.4 473.8,328.6 474.1,319.0 474.4,328.0 474.7,320.8 474.9,330.1 475.2,320.9 475.5,327.7 475.7,319.5 476.0,326.8 476.3,320.3 476.5,328.5 476.8,316.8 477.1,327.0 477.4,321.1 477.6,328.6 477.9,319.7 478.2,329.6 478.4,320.1 478.7,326.6 479.0,319.0 479.2,328.4 479.5,318.2 479.8,328.3 480.1,318.8 480.3,327.7 480.6,319.9 480.9,328.0 481.1,319.6 481.4,332.2 481.7,320.3 481.9,326.5 482.2,320.7 482.5,328.0 482.8,319.4 483.0,326.0 483.3,316.0 483.6,327.7 483.8,316.6 484.1,326.2 484.4,318.9 484.6,329.6 484.9,320.8 485.2,328.4 485.5,318.6 485.7,328.8 486.0,319.9 486.3,327.9 486.5,320.6 486.8,327.3 487.1,319.2 487.3,327.7 487.6,319.4 487.9,325.9 488.2,321.0 488.4,326.0 488.7,319.9 489.0,326.5 489.2,317.8 489.5,326.0 489.8,319.9 490.0,328.0 490.3,318.8 490.6,326.6 490.9,320.4 491.1,327.9 491.4,320.6 491.7,326.5 491.9,318.8 492.2,328.4 492.5,317.4 492.7,331.2 493.0,317.8 493.3,328.3 493.6,318.5 493.8,327.8 494.1,320.2 494.4,327.7 494.6,319.9 494.9,328.5 495.2,321.1 495.4,330.9 495.7,319.5 496.0,328.9 496.3,318.7 496.5,328.1 496.8,320.0 497.1,328.1 497.3,320.6 497.6,328.3 497.9,318.0 498.1,326.4 498.4,319.8 498.7,328.3 499.0,318.1 499.2,328.5 499.5,317.6 499.8,329.6 500.0,316.2 500.3,330.8 500.6,315.7 500.8,329.4 501.1,310.7 501.4,329.9 501.7,308.6 501.9,330.9 502.2,308.0 502.5,334.2 502.7,299.5 503.0,337.1 503.3,314.3 503.5,334.2 503.8,308.7 504.1,338.0 504.4,312.9 504.6,339.8 504.9,307.4 505.2,335.9 505.4,306.2 505.7,338.1 506.0,311.3 506.2,338.0 506.5,296.1 506.8,348.2 507.1,305.5 507.3,340.4 507.6,307.4 507.9,333.2 508.1,309.9 508.4,340.4 508.7,305.5 508.9,335.6 509.2,302.7 509.5,336.8 509.8,312.1 510.0,333.1 510.3,314.6 510.6,330.9 510.8,315.0 511.1,330.6 511.4,319.9 511.6,328.7 511.9,317.4 512.2,332.2 512.5,319.7 512.7,328.0 513.0,321.1 513.3,328.9 513.5,319.7 513.8,329.1 514.1,318.2 514.3,328.2 514.6,320.5 514.9,326.2 515.2,320.8 515.4,326.6 515.7,319.9 516.0,327.2 516.2,321.4 516.5,325.5 516.8,320.9 517.0,325.6 517.3,321.1 517.6,325.4 517.9,322.2 518.1,325.0 518.4,322.5 518.7,325.9 518.9,321.1 519.2,325.6 519.5,321.9 519.7,326.0 520.0,319.2 520.3,326.6 520.6,321.9 520.8,327.0 521.1,322.0 521.4,324.9 521.6,321.4 521.9,326.6 522.2,321.3 522.4,325.3 522.7,321.6 523.0,327.2 523.3,321.6 523.5,325.5 523.8,321.4 524.1,325.9 524.3,321.4 524.6,326.1 524.9,321.3 525.1,326.1 525.4,321.6 525.7,328.5 526.0,320.1 526.2,326.1 526.5,320.9 526.8,327.1 527.0,321.2 527.3,327.6 527.6,321.0 527.8,326.4 528.1,321.6 528.4,326.2 528.7,321.9 528.9,325.9 529.2,322.4 529.5,327.6 529.7,321.5 530.0,327.4 530.3,321.4 530.5,326.6 530.8,321.7 531.1,325.4 531.4,321.2 531.6,325.8 531.9,321.2 532.2,326.2 532.4,321.6 532.7,326.3 533.0,321.5 533.2,326.0 533.5,319.0 533.8,325.6 534.1,320.9 534.3,327.0 534.6,321.1 534.9,325.2 535.1,321.3 535.4,325.8 535.7,321.3 535.9,325.7 536.2,321.9 536.5,325.0 536.8,321.5 537.0,325.3 537.3,321.3 537.6,325.8 537.8,321.5 538.1,324.6 538.4,321.3 538.6,325.9 538.9,320.5 539.2,326.2 539.5,319.9 539.7,329.2 540.0,319.1 540.3,327.2 540.5,319.2 540.8,327.0 541.1,319.0 541.3,328.7 541.6,319.4 541.9,330.9 542.2,320.3 542.4,327.5 542.7,318.5 543.0,330.4 543.2,318.1 543.5,327.5 543.8,320.1 544.0,327.0 544.3,316.7 544.6,328.2 544.9,316.6 545.1,328.4 545.4,318.8 545.7,335.4 545.9,318.1 546.2,330.0 546.5,318.7 546.7,329.8 547.0,314.5 547.3,329.9 547.6,316.6 547.8,327.7 548.1,314.0 548.4,328.6 548.6,317.6 548.9,328.5 549.2,318.1 549.4,331.4 549.7,318.4 550.0,329.4 550.3,319.4 550.5,327.8 550.8,316.8 551.1,327.5 551.3,317.2 551.6,327.4 551.9,318.3 552.1,329.9 552.4,315.6 552.7,333.1 553.0,319.1 553.2,327.6 553.5,316.7 553.8,329.6 554.0,316.5 554.3,330.2 554.6,318.0 554.8,330.4 555.1,317.8 555.4,332.8 555.7,319.5 555.9,331.6 556.2,314.1 556.5,329.7 556.7,320.0 557.0,330.0 557.3,313.8 557.5,330.3 557.8,317.7 558.1,327.5 558.4,316.2 558.6,333.5 558.9,318.0 559.2,330.2 559.4,317.1 559.7,328.5 560.0,315.4 560.2,329.2 560.5,319.1 560.8,330.6 561.1,316.2 561.3,332.6 561.6,319.1 561.9,327.1 562.1,319.2 562.4,328.7 562.7,317.2 562.9,328.4 563.2,317.9 563.5,329.0 563.8,320.0 564.0,329.6 564.3,318.6 564.6,326.3 564.8,319.2 565.1,329.9 565.4,316.6 565.6,328.5 565.9,318.1 566.2,329.9 566.5,319.6 566.7,334.3 567.0,318.4 567.3,333.8 567.5,315.8 567.8,331.4 568.1,317.6 568.3,331.4 568.6,315.7 568.9,331.4 569.2,318.0 569.4,327.9 569.7,315.6 570.0,328.9 570.2,313.1 570.5,329.9 570.8,316.7 571.0,331.5 571.3,314.5 571.6,335.7 571.9,314.5 572.1,327.7 572.4,313.1 572.7,331.1 572.9,310.1 573.2,332.5 573.5,312.2 573.7,333.3 574.0,313.4 574.3,331.9 574.6,316.8 574.8,330.4 575.1,314.5 575.4,330.4 575.6,318.1 575.9,332.3 576.2,317.7 576.4,329.5 576.7,317.4 577.0,328.1 577.3,317.3 577.5,327.8 577.8,321.5" fill="none" stroke="#000" stroke-width="0.7" stroke-linejoin="round"/>
<path d="M577.5,323.6Q579.0,324.8 581.0,323.6L601.5,323.6" fill="none" stroke="#000" stroke-width="1.1"/>
<g clip-path="url(#sc2)"><g filter="url(#jet2)">
<rect x="343.4" y="351.4" width="260.1" height="53.4" fill="#000"/>
<path d="M349.0,352.4L415.0,352.4L430.0,366.0L445.0,380.0L500.0,394.0L500.0,403.8L349.0,403.8Z" fill="rgb(61,61,61)" filter="url(#sb2)"/>
<path d="M349.0,378.5L428.0,378.5L450.0,386.0L498.0,397.0L498.0,403.8L349.0,403.8Z" fill="rgb(121,121,121)" filter="url(#sb1)"/>
<path d="M349.0,385.0L415.0,386.0L450.0,393.0L485.0,399.0L485.0,403.8L349.0,403.8Z" fill="rgb(153,153,153)" filter="url(#sb2)"/>
<path d="M350.0,392.0L400.0,393.0L430.0,398.0L455.0,401.0L455.0,403.8L350.0,403.8Z" fill="rgb(181,181,181)" filter="url(#sb2)"/>
<path d="M350.0,399.5L500.0,400.5L500.0,403.8L350.0,403.8Z" fill="rgb(171,171,171)" filter="url(#sb1)"/>
<path d="M510.0,398.0L541.0,398.0L541.0,403.8L510.0,403.8Z" fill="rgb(101,101,101)" filter="url(#sb1)"/>
<path d="M543.0,372.0L548.0,372.0L552.0,380.0L560.0,376.0L566.0,378.0L571.0,374.0L573.0,403.8L542.0,403.8Z" fill="rgb(69,69,69)" filter="url(#sb2)"/>
<path d="M542.0,391.0L573.0,391.0L574.0,403.8L542.0,403.8Z" fill="rgb(131,131,131)" filter="url(#sb2)"/>
<path d="M543.0,397.0L573.0,397.0L573.0,403.8L543.0,403.8Z" fill="rgb(191,191,191)" filter="url(#sb2)"/>
<path d="M505.0,352.4L507.0,352.4L511.0,403.8L501.0,403.8Z" fill="rgb(105,105,105)" filter="url(#sb1)"/>
<path d="M505.0,380.0L507.0,380.0L510.0,403.8L502.0,403.8Z" fill="rgb(151,151,151)" filter="url(#sb1)"/>
<path d="M504.0,396.0L508.0,396.0L509.0,403.8L503.0,403.8Z" fill="rgb(221,221,221)" filter="url(#sb1)"/>
<path d="M347.3,352.4L350.8,352.4L354.5,403.8L348.0,403.8Z" fill="rgb(131,131,131)" filter="url(#sb1)"/>
<rect x="521.5" y="383.0" width="1.6" height="15.0" fill="rgb(89,89,89)" filter="url(#sb1)"/>
</g>
<path d="M345.4,353.4L347.4,353.4L348.2,385.0L350.0,396.0L354.5,403.8L345.4,403.8Z" fill="#ff1a00" stroke="#ffb000" stroke-width="0.5"/>
</g>
<text x="331.8" y="360.3" font-size="9.5" font-weight="normal" text-anchor="end" fill="#111">100</text>
<text x="331.8" y="403.3" font-size="9.5" font-weight="normal" text-anchor="end" fill="#111">0</text>
<text x="329.0" y="378.1" font-size="9.6" font-weight="normal" text-anchor="middle" fill="#111" transform="rotate(-90 329.0 378.1)">Hz</text>
<text x="614.9" y="345.8" font-size="9.5" font-weight="normal" fill="#111" textLength="22.3" lengthAdjust="spacingAndGlyphs">2 mV</text>
<path d="M640.7,333.4V350.2H667.4" fill="none" stroke="#000" stroke-width="1.1"/>
<text x="647.4" y="360.9" font-size="9.5" font-weight="normal" fill="#111" textLength="14.0" lengthAdjust="spacingAndGlyphs">5 S</text>
<rect x="621.1" y="377.1" width="5.0" height="28.1" fill="url(#cbar)"/>
<text x="627.7" y="377.1" font-size="6.6" font-weight="normal" fill="#333">80</text>
<text x="627.7" y="405.8" font-size="6.6" font-weight="normal" fill="#333">50</text>
<text x="629.5" y="390.0" font-size="6.4" font-weight="normal" text-anchor="middle" fill="#333" transform="rotate(90 629.5 390.0)">dB</text>
<text x="54.8" y="715.0" font-size="20" font-weight="normal" fill="#000">p</text>
<text x="100.5" y="717.7" font-size="11.5" fill="#000" textLength="21.2" lengthAdjust="spacingAndGlyphs">Pre</text>
<rect x="86.7" y="721.7" width="10.6" height="107.2" fill="#000"/>
<path d="M100.2,720.5V776.9M103.7,720.5V776.9M104.9,720.5V776.9M107.7,720.5V776.9M111.3,720.5V776.9" fill="none" stroke="#000" stroke-width="0.8"/>
<path d="M112.5,738.0 112.8,754.5 113.0,737.3 113.3,753.2 113.6,738.9 113.8,755.8 114.1,727.1 114.4,750.5 114.7,732.2 114.9,751.3 115.2,736.8 115.5,754.5 115.7,732.1 116.0,756.3 116.3,738.3 116.5,754.2 116.8,733.5 117.1,754.5 117.4,730.6 117.6,758.5 117.9,730.6 118.2,757.4 118.4,735.6 118.7,751.5 119.0,734.3 119.2,754.8 119.5,734.1 119.8,755.4 120.1,736.1 120.3,754.1 120.6,733.5 120.9,753.0 121.1,736.8 121.4,756.5 121.7,732.2 121.9,762.6 122.2,731.4 122.5,756.1 122.8,734.3 123.0,753.7 123.3,737.6 123.6,757.4 123.8,739.1 124.1,755.1 124.4,738.2 124.6,751.1 124.9,739.1 125.2,750.9 125.5,737.8 125.7,748.9 126.0,740.0 126.3,756.4 126.5,734.1 126.8,749.2 127.1,738.9 127.3,749.7 127.6,740.2 127.9,752.7 128.2,736.9 128.4,750.4 128.7,733.8 129.0,756.4 129.2,733.8 129.5,752.2 129.8,734.6 130.0,753.4 130.3,735.7 130.6,752.9 130.9,734.2 131.1,753.8 131.4,735.9 131.7,753.3 131.9,736.6 132.2,754.3 132.5,737.8 132.7,754.5 133.0,739.8 133.3,752.8 133.6,735.1 133.8,752.5 134.1,736.0 134.4,754.2 134.6,734.5 134.9,756.1 135.2,735.6 135.4,754.6 135.7,732.4 136.0,750.2 136.3,734.2 136.5,753.9 136.8,735.4 137.1,751.5 137.3,731.3 137.6,760.3 137.9,736.6 138.1,750.4 138.4,736.0 138.7,756.8 139.0,740.0 139.2,755.2 139.5,737.2 139.8,755.3 140.0,734.9 140.3,761.1 140.6,737.5 140.8,752.2 141.1,733.7 141.4,759.8 141.7,738.2 141.9,753.9 142.2,737.8 142.5,756.9 142.7,729.0 143.0,760.6 143.3,737.0 143.5,764.0 143.8,736.4 144.1,755.1 144.4,729.2 144.6,754.8 144.9,733.0 145.2,755.9 145.4,728.3 145.7,755.0 146.0,737.8 146.2,762.6 146.5,737.8 146.8,758.8 147.1,737.8 147.3,758.8 147.6,735.7 147.9,754.7 148.1,737.3 148.4,763.2 148.7,739.3 148.9,752.7 149.2,739.4 149.5,765.1 149.8,738.5 150.0,754.5 150.3,733.5 150.6,759.6 150.8,732.3 151.1,753.7 151.4,735.7 151.6,754.7 151.9,736.1 152.2,764.7 152.5,736.3 152.7,760.8 153.0,735.8 153.3,772.8 153.5,733.5 153.8,765.6 154.1,731.4 154.3,758.4 154.6,736.8 154.9,779.0 155.2,737.3 155.4,766.7 155.7,735.0 156.0,763.1 156.2,738.0 156.5,762.9 156.8,733.6 157.0,764.6 157.3,736.5 157.6,753.6 157.9,739.0 158.1,756.8 158.4,738.0 158.7,759.1 158.9,739.1 159.2,754.1 159.5,737.3 159.7,765.4 160.0,738.7 160.3,753.2 160.6,740.7 160.8,754.7 161.1,737.9 161.4,753.3 161.6,741.0 161.9,753.9 162.2,740.9 162.4,754.6 162.7,738.6 163.0,755.8 163.3,739.2 163.5,754.2 163.8,738.4 164.1,751.5 164.3,739.0 164.6,754.3 164.9,739.2 165.1,757.2 165.4,738.9 165.7,755.8 166.0,737.9 166.2,752.9 166.5,739.1 166.8,759.2 167.0,738.4 167.3,749.2 167.6,738.9 167.8,751.3 168.1,738.2 168.4,751.1 168.7,737.7 168.9,749.4 169.2,741.3 169.5,751.3 169.7,739.9 170.0,751.9 170.3,739.2 170.5,751.6 170.8,737.4 171.1,748.8 171.4,740.2 171.6,749.1 171.9,740.5 172.2,751.9 172.4,739.4 172.7,749.1 173.0,740.8 173.2,753.0 173.5,736.1 173.8,747.4 174.1,736.7 174.3,747.9 174.6,739.8 174.9,748.4 175.1,736.5 175.4,747.8 175.7,739.1 175.9,748.3 176.2,741.4 176.5,748.7 176.8,741.6 177.0,750.0 177.3,740.4 177.6,748.6 177.8,738.8 178.1,747.7 178.4,737.4 178.6,748.3 178.9,737.7 179.2,751.4 179.5,740.1 179.7,751.3 180.0,734.8 180.3,750.3 180.5,738.3 180.8,747.9 181.1,739.8 181.3,748.7 181.6,737.6 181.9,747.6 182.2,740.4 182.4,749.9 182.7,739.4 183.0,747.6 183.2,740.4 183.5,749.3 183.8,741.5 184.0,750.6 184.3,741.1 184.6,750.0 184.9,740.6 185.1,750.1 185.4,737.6 185.7,750.7 185.9,739.0 186.2,749.3 186.5,739.4 186.7,751.6 187.0,739.3 187.3,751.2 187.6,738.9 187.8,754.6 188.1,739.0 188.4,752.2 188.6,739.9 188.9,751.8 189.2,739.5 189.4,749.8 189.7,738.7 190.0,748.3 190.3,738.1 190.5,747.5 190.8,738.3 191.1,748.7 191.3,738.5 191.6,749.1 191.9,741.0 192.1,749.5 192.4,740.2 192.7,749.2 193.0,739.3 193.2,749.7 193.5,740.6 193.8,747.7 194.0,740.1 194.3,747.3 194.6,740.2 194.8,749.8 195.1,739.2 195.4,750.0 195.7,739.9 195.9,749.4 196.2,739.2 196.5,749.9 196.7,739.3 197.0,749.1 197.3,741.6 197.5,749.1 197.8,740.6 198.1,749.0 198.4,739.6 198.6,750.3 198.9,741.9 199.2,749.0 199.4,741.1 199.7,749.3 200.0,740.0 200.2,749.3 200.5,739.9 200.8,752.4 201.1,741.5 201.3,748.0 201.6,740.9 201.9,751.5 202.1,741.8 202.4,749.5 202.7,739.8 202.9,749.2 203.2,741.5 203.5,721.5 203.8,776.5 204.0,747.2 204.3,741.6 204.6,747.9 204.8,741.6 205.1,747.9 205.4,741.3 205.6,746.3 205.9,741.7 206.2,748.7 206.5,741.6 206.7,749.3 207.0,739.9 207.3,748.9 207.5,740.6 207.8,749.3 208.1,739.4 208.3,749.3 208.6,740.9 208.9,747.7 209.2,738.6 209.4,749.1 209.7,740.2 210.0,747.7 210.2,740.4 210.5,748.4 210.8,739.9 211.0,748.2 211.3,741.1 211.6,748.8 211.9,740.6 212.1,748.2 212.4,740.9 212.7,749.8 212.9,736.9 213.2,749.0 213.5,740.2 213.7,748.2 214.0,741.2 214.3,748.0 214.6,740.2 214.8,747.3 215.1,741.5 215.4,747.4 215.6,740.5 215.9,746.9 216.2,741.4 216.4,748.5 216.7,741.1 217.0,748.8 217.3,740.7 217.5,747.1 217.8,741.3 218.1,749.8 218.3,740.1 218.6,748.7 218.9,742.2 219.1,751.3 219.4,740.2 219.7,747.9 220.0,739.7 220.2,748.9 220.5,740.7 220.8,748.1 221.0,740.7 221.3,747.2 221.6,740.3 221.8,747.3 222.1,741.4 222.4,747.3 222.7,741.5 222.9,746.2 223.2,741.5 223.5,746.3 223.7,742.9 224.0,746.9 224.3,741.5 224.5,747.8 224.8,742.0 225.1,747.7 225.4,742.4 225.6,747.6 225.9,742.4 226.2,746.5 226.4,741.2 226.7,748.0 227.0,741.3 227.2,747.0 227.5,741.3 227.8,746.4 228.1,742.2 228.3,747.1 228.6,743.0 228.9,749.1 229.1,741.3 229.4,747.4 229.7,741.5 229.9,748.3 230.2,741.5 230.5,746.3 230.8,742.4 231.0,746.4 231.3,740.8 231.6,747.0 231.8,741.1 232.1,747.1 232.4,741.5 232.6,747.0 232.9,741.9 233.2,746.9 233.5,741.1 233.7,746.4 234.0,741.5 234.3,747.1 234.5,742.1 234.8,746.6 235.1,741.5 235.3,747.5 235.6,741.0 235.9,746.0 236.2,741.3 236.4,747.0 236.7,742.3 237.0,746.2 237.2,741.7 237.5,747.0 237.8,741.3 238.0,747.0 238.3,742.1 238.6,747.3 238.9,742.9 239.1,747.2 239.4,742.6 239.7,746.1 239.9,743.6 240.2,746.5 240.5,743.1 240.7,745.7 241.0,743.6 241.3,745.7 241.6,743.8 241.8,745.1 242.1,743.9 242.4,745.4 242.6,743.9 242.9,745.1 243.2,744.1 243.4,745.2 243.7,743.8 244.0,745.6 244.3,743.9 244.5,745.5 244.8,743.3 245.1,745.6 245.3,743.4 245.6,745.3 245.9,743.7 246.1,745.6 246.4,743.2 246.7,745.1 247.0,743.9 247.2,745.4 247.5,743.8 247.8,745.3 248.0,743.9 248.3,745.4 248.6,742.9 248.8,745.3 249.1,743.8 249.4,745.6 249.7,743.3 249.9,745.4 250.2,743.2 250.5,745.2 250.7,743.3 251.0,745.7 251.3,743.2 251.5,745.5 251.8,743.7 252.1,746.4 252.4,743.6 252.6,746.5 252.9,743.5 253.2,745.2 253.4,743.4 253.7,745.7 254.0,743.8 254.2,746.4 254.5,743.8 254.8,745.6 255.1,743.4 255.3,745.8 255.6,743.0 255.9,745.8 256.1,743.6 256.4,745.6 256.7,743.8 256.9,745.7 257.2,743.9 257.5,745.6 257.8,743.4 258.0,745.9 258.3,743.2 258.6,745.7 258.8,743.7 259.1,745.6 259.4,743.8 259.6,745.6 259.9,743.1 260.2,745.3 260.5,743.6 260.7,745.6 261.0,743.7 261.3,746.0 261.5,743.8 261.8,746.0 262.1,743.4 262.3,745.4 262.6,743.4 262.9,745.3 263.2,743.5 263.4,746.6 263.7,743.4 264.0,745.7 264.2,743.0 264.5,746.0 264.8,743.8 265.0,746.7 265.3,743.8 265.6,745.5 265.9,743.9 266.1,745.4 266.4,742.6 266.7,745.4 266.9,743.3 267.2,745.9 267.5,743.1 267.7,745.4 268.0,743.1 268.3,745.7 268.6,742.7 268.8,746.4 269.1,743.3 269.4,745.9 269.6,742.9 269.9,745.5 270.2,743.2 270.4,745.3 270.7,743.3 271.0,745.1 271.3,743.1 271.5,745.7 271.8,743.4 272.1,745.1 272.3,743.1 272.6,745.1 272.9,742.8 273.1,745.0 273.4,743.5 273.7,745.4 274.0,743.0 274.2,745.2 274.5,743.6 274.8,745.0 275.0,743.1 275.3,745.7 275.6,742.6 275.8,745.8 276.1,743.2 276.4,745.3 276.7,743.2 276.9,745.3 277.2,743.1 277.5,745.9 277.7,743.2 278.0,745.5 278.3,743.5 278.5,745.7 278.8,743.2 279.1,745.5 279.4,743.7 279.6,745.9 279.9,743.3 280.2,745.3 280.4,743.3 280.7,745.1 281.0,743.8 281.2,745.1 281.5,743.1 281.8,745.7 282.1,743.9 282.3,745.4 282.6,743.2 282.9,745.6 283.1,743.5 283.4,745.7 283.7,743.7 283.9,745.6 284.2,743.8 284.5,745.7 284.8,743.6 285.0,745.6 285.3,742.8 285.6,745.9 285.8,743.1 286.1,745.5 286.4,742.8 286.6,745.8 286.9,742.8 287.2,746.4 287.5,742.0 287.7,746.2 288.0,743.0 288.3,745.9 288.5,742.9 288.8,745.1 289.1,743.4 289.3,745.9 289.6,742.6 289.9,745.8 290.2,742.5 290.4,745.9 290.7,742.9 291.0,745.5 291.2,742.6 291.5,747.1 291.8,742.1 292.0,747.0 292.3,742.8 292.6,747.1 292.9,739.7 293.1,746.5 293.4,741.6 293.7,748.6 293.9,740.7 294.2,747.1 294.5,742.7 294.7,746.5 295.0,742.9 295.3,747.4 295.6,743.0 295.8,746.2 296.1,741.3 296.4,746.2 296.6,743.1 296.9,746.1 297.2,743.5 297.4,745.4 297.7,743.0 298.0,745.7 298.3,743.3 298.5,745.6 298.8,743.6 299.1,745.2 299.3,743.9 299.6,745.1 299.9,743.8 300.1,745.3 300.4,743.9 300.7,745.3 301.0,743.8 301.2,745.2 301.5,743.9 301.8,745.5 302.0,744.1 302.3,745.1 302.6,743.4 302.8,745.1 303.1,743.9 303.4,745.6 303.7,744.2 303.9,745.1 304.2,744.0 304.5,745.5 304.7,743.9 305.0,744.9 305.3,744.1 305.5,744.7 305.8,743.9 306.1,745.3 306.4,743.7 306.6,744.8 306.9,744.1 307.2,745.4 307.4,743.8 307.7,745.4 308.0,743.9 308.2,744.9 308.5,743.9 308.8,745.0 309.1,744.1 309.3,745.2 309.6,743.6 309.9,744.9 310.1,744.1 310.4,745.0 310.7,744.1 310.9,744.9 311.2,743.7 311.5,744.9 311.8,744.2 312.0,744.8" fill="none" stroke="#000" stroke-width="0.7" stroke-linejoin="round"/>
<g clip-path="url(#sc3)"><g filter="url(#jet3)">
<rect x="95.3" y="778.0" width="217.6" height="52.3" fill="#000"/>
<path d="M113.0,779.0L202.0,779.0L222.0,788.0L236.0,798.0L236.0,829.3L113.0,829.3Z" fill="rgb(97,97,97)" filter="url(#sb2)"/>
<path d="M113.0,790.0L195.0,791.0L220.0,801.0L235.0,812.0L235.0,829.3L113.0,829.3Z" fill="rgb(125,125,125)" filter="url(#sb2)"/>
<path d="M113.0,802.0L185.0,803.0L205.0,812.0L225.0,820.0L225.0,829.3L113.0,829.3Z" fill="rgb(153,153,153)" filter="url(#sb2)"/>
<path d="M116.0,810.0L160.0,811.0L180.0,818.0L192.0,826.0L192.0,829.3L116.0,829.3Z" fill="rgb(211,211,211)" filter="url(#sb2)"/>
<path d="M226.0,793.0L234.0,793.0L236.0,829.3L225.0,829.3Z" fill="rgb(93,93,93)" filter="url(#sb3)"/>
<path d="M244.0,806.0L276.0,810.0L278.0,829.3L242.0,829.3Z" fill="rgb(93,93,93)" filter="url(#sb3)"/>
<path d="M250.0,819.0L274.0,820.0L274.0,829.3L250.0,829.3Z" fill="rgb(111,111,111)" filter="url(#sb2)"/>
<path d="M284.0,789.0L290.0,789.0L291.0,829.3L283.0,829.3Z" fill="rgb(121,121,121)" filter="url(#sb2)"/>
<path d="M236.0,824.0L300.0,825.0L300.0,829.3L236.0,829.3Z" fill="rgb(81,81,81)" filter="url(#sb1)"/>
<path d="M113.0,826.2L236.0,826.6L236.0,829.3L113.0,829.3Z" fill="rgb(161,161,161)" filter="url(#sb1)"/>
<path d="M103.6,779.0L107.5,779.0L107.5,829.3L103.0,829.3Z" fill="rgb(145,145,145)" filter="url(#sb1)"/>
<path d="M111.2,779.0L113.6,779.0L114.2,829.3L111.2,829.3Z" fill="rgb(121,121,121)" filter="url(#sb1)"/>
<rect x="203.0" y="779.0" width="1.6" height="50.3" fill="rgb(158,158,158)" filter="url(#sb1)"/>
<rect x="98.5" y="803.0" width="1.2" height="3.0" fill="rgb(140,140,140)" filter="url(#sb1)"/>
</g>
<path d="M107.3,780.0L111.4,780.0L111.8,810.0L112.8,829.3L106.6,829.3L107.0,805.0Z" fill="#ff1a00" stroke="#ffb000" stroke-width="0.5"/>
</g>
<text x="82.7" y="786.2" font-size="9.5" font-weight="normal" text-anchor="end" fill="#111">100</text>
<text x="82.7" y="829.3" font-size="9.5" font-weight="normal" text-anchor="end" fill="#111">0</text>
<text x="81.0" y="803.9" font-size="9.6" font-weight="normal" text-anchor="middle" fill="#111" transform="rotate(-90 81.0 803.9)">Hz</text>
<text x="87.4" y="839.1" font-size="10.2" fill="#000" textLength="102.5" lengthAdjust="spacingAndGlyphs">Kindling stimulation</text>
<text x="397.3" y="717.7" font-size="11.5" fill="#f15a29" textLength="31.5" lengthAdjust="spacingAndGlyphs">Light</text>
<rect x="384.7" y="721.7" width="10.6" height="107.2" fill="#000"/>
<path d="M399.3,722.5V767.8M402.0,722.5V767.8M404.1,722.5V767.8M406.5,722.5V767.8" fill="none" stroke="#000" stroke-width="0.8"/>
<path d="M408.3,739.5 408.6,752.3 408.8,739.4 409.1,749.7 409.4,727.9 409.6,751.6 409.9,734.5 410.2,750.8 410.5,735.1 410.7,750.4 411.0,731.8 411.3,749.6 411.5,737.3 411.8,753.9 412.1,741.7 412.3,756.8 412.6,739.2 412.9,756.7 413.2,737.4 413.4,750.5 413.7,740.4 414.0,752.6 414.2,739.1 414.5,755.4 414.8,738.6 415.0,752.2 415.3,741.6 415.6,751.5 415.9,738.7 416.1,756.8 416.4,741.1 416.7,762.4 416.9,738.2 417.2,752.6 417.5,737.7 417.7,752.8 418.0,737.8 418.3,752.0 418.6,739.8 418.8,761.5 419.1,737.6 419.4,751.8 419.6,737.3 419.9,756.1 420.2,734.6 420.4,757.1 420.7,734.0 421.0,751.6 421.3,738.5 421.5,761.8 421.8,734.2 422.1,751.7 422.3,738.8 422.6,754.5 422.9,737.9 423.1,760.2 423.4,740.0 423.7,758.7 424.0,737.5 424.2,760.0 424.5,739.7 424.8,759.4 425.0,741.1 425.3,754.0 425.6,737.6 425.8,752.2 426.1,737.9 426.4,758.2 426.7,737.9 426.9,759.6 427.2,740.4 427.5,760.2 427.7,739.8 428.0,757.1 428.3,741.0 428.5,757.9 428.8,739.5 429.1,758.1 429.4,738.2 429.6,754.1 429.9,741.9 430.2,753.6 430.4,740.6 430.7,752.1 431.0,741.9 431.2,758.9 431.5,740.7 431.8,757.0 432.1,739.6 432.3,766.8 432.6,739.7 432.9,757.9 433.1,739.0 433.4,759.6 433.7,740.9 433.9,753.8 434.2,739.6 434.5,758.3 434.8,740.8 435.0,759.7 435.3,738.2 435.6,755.3 435.8,741.4 436.1,757.5 436.4,740.0 436.6,753.4 436.9,743.2 437.2,759.2 437.5,739.9 437.7,756.1 438.0,741.6 438.3,753.9 438.5,740.9 438.8,761.7 439.1,739.1 439.3,752.0 439.6,739.8 439.9,751.6 440.2,741.2 440.4,763.1 440.7,740.2 441.0,753.6 441.2,739.0 441.5,755.8 441.8,741.1 442.0,764.5 442.3,740.9 442.6,760.6 442.9,739.0 443.1,759.2 443.4,735.0 443.7,753.3 443.9,739.0 444.2,756.9 444.5,741.1 444.7,759.0 445.0,739.8 445.3,756.2 445.6,741.7 445.8,754.4 446.1,741.5 446.4,756.6 446.6,740.7 446.9,757.6 447.2,740.1 447.4,753.6 447.7,737.8 448.0,758.2 448.3,740.5 448.5,757.2 448.8,737.9 449.1,752.9 449.3,739.0 449.6,756.3 449.9,739.9 450.1,753.7 450.4,738.8 450.7,757.1 451.0,741.3 451.2,755.6 451.5,740.6 451.8,755.2 452.0,740.3 452.3,753.0 452.6,742.2 452.8,753.6 453.1,740.2 453.4,752.2 453.7,739.2 453.9,748.7 454.2,741.2 454.5,748.2 454.7,741.5 455.0,751.9 455.3,740.6 455.5,751.7 455.8,742.0 456.1,750.7 456.4,740.6 456.6,748.7 456.9,741.1 457.2,753.3 457.4,742.6 457.7,748.7 458.0,741.1 458.2,749.0 458.5,741.4 458.8,750.4 459.1,742.2 459.3,749.3 459.6,740.5 459.9,751.6 460.1,742.7 460.4,751.6 460.7,742.7 460.9,751.8 461.2,741.2 461.5,750.7 461.8,740.8 462.0,750.2 462.3,742.2 462.6,751.2 462.8,740.6 463.1,748.8 463.4,741.1 463.6,750.1 463.9,740.9 464.2,753.1 464.5,740.8 464.7,750.6 465.0,742.9 465.3,750.7 465.5,741.6 465.8,749.7 466.1,741.9 466.3,748.2 466.6,743.1 466.9,748.0 467.2,742.3 467.4,749.1 467.7,743.6 468.0,748.4 468.2,742.6 468.5,747.1 468.8,742.8 469.0,748.8 469.3,742.4 469.6,748.5 469.9,742.8 470.1,748.5 470.4,744.0 470.7,747.6 470.9,743.5 471.2,747.4 471.5,742.9 471.7,747.3 472.0,743.4 472.3,748.1 472.6,743.4 472.8,747.5 473.1,742.9 473.4,748.3 473.6,743.0 473.9,747.7 474.2,743.4 474.4,748.9 474.7,742.2 475.0,748.7 475.3,743.5 475.5,748.5 475.8,742.3 476.1,748.2 476.3,742.5 476.6,751.1 476.9,741.7 477.1,747.7 477.4,742.6 477.7,750.5 478.0,740.2 478.2,750.5 478.5,742.8 478.8,748.7 479.0,743.4 479.3,747.4 479.6,742.3 479.8,747.5 480.1,743.8 480.4,746.9 480.7,743.4 480.9,747.5 481.2,743.7 481.5,747.0 481.7,742.8 482.0,747.0 482.3,742.6 482.5,748.1 482.8,743.1 483.1,748.1 483.4,743.4 483.6,747.7 483.9,744.0 484.2,747.9 484.4,742.8 484.7,748.2 485.0,743.1 485.2,747.3 485.5,743.2 485.8,748.8 486.1,743.2 486.3,748.2 486.6,743.3 486.9,748.3 487.1,743.9 487.4,747.1 487.7,743.3 487.9,748.0 488.2,743.9 488.5,748.7 488.8,743.7 489.0,748.0 489.3,743.1 489.6,748.1 489.8,742.2 490.1,747.7 490.4,743.4 490.6,748.2 490.9,741.8 491.2,748.5 491.5,741.4 491.7,748.2 492.0,743.7 492.3,747.2 492.5,743.9 492.8,747.2 493.1,743.8 493.3,748.7 493.6,742.5 493.9,748.0 494.2,743.0 494.4,748.4 494.7,742.0 495.0,748.8 495.2,742.6 495.5,748.7 495.8,742.1 496.0,748.6 496.3,741.9 496.6,748.0 496.9,743.2 497.1,750.1 497.4,742.7 497.7,748.1 497.9,743.2 498.2,747.3 498.5,743.3 498.7,747.2 499.0,742.9 499.3,747.4 499.6,744.2 499.8,747.8 500.1,744.0 500.4,747.3 500.6,742.4 500.9,748.4 501.2,743.6 501.4,748.8 501.7,742.2 502.0,747.9 502.3,742.8 502.5,748.5 502.8,741.3 503.1,748.5 503.3,741.3 503.6,748.7 503.9,742.7 504.1,748.6 504.4,740.6 504.7,747.4 505.0,743.2 505.2,748.3 505.5,743.2 505.8,748.6 506.0,742.6 506.3,749.9 506.6,743.8 506.8,749.7 507.1,743.6 507.4,751.1 507.7,743.1 507.9,748.6 508.2,742.3 508.5,748.3 508.7,742.0 509.0,748.1 509.3,741.7 509.5,750.0 509.8,743.6 510.1,748.0 510.4,742.6 510.6,748.0 510.9,742.9 511.2,749.6 511.4,742.0 511.7,750.6 512.0,741.5 512.2,747.7 512.5,741.6 512.8,748.3 513.1,742.7 513.3,747.8 513.6,741.3 513.9,748.7 514.1,741.8 514.4,750.2 514.7,739.6 514.9,748.5 515.2,740.5 515.5,750.9 515.8,740.3 516.0,748.8 516.3,741.1 516.6,750.1 516.8,741.1 517.1,751.1 517.4,739.7 517.6,748.8 517.9,740.9 518.2,748.0 518.5,739.8 518.7,752.0 519.0,740.3 519.3,750.9 519.5,741.9 519.8,749.6 520.1,742.8 520.3,749.6 520.6,743.4 520.9,747.2 521.2,743.6 521.4,747.9 521.7,742.2 522.0,748.1 522.2,743.2 522.5,747.7 522.8,743.0 523.0,747.0 523.3,742.5 523.6,746.9 523.9,743.7 524.1,748.2 524.4,742.9 524.7,748.9 524.9,743.2 525.2,747.2 525.5,743.6 525.7,748.0 526.0,744.1 526.3,747.0 526.6,743.1 526.8,747.2 527.1,743.5 527.4,746.7 527.6,743.2 527.9,746.9 528.2,743.1 528.4,746.4 528.7,743.2 529.0,746.6 529.3,743.7 529.5,747.1 529.8,742.8 530.1,746.3 530.3,743.3 530.6,746.8 530.9,743.3 531.1,746.8 531.4,742.7 531.7,746.7 532.0,744.4 532.2,746.2 532.5,744.4 532.8,746.1 533.0,744.6 533.3,745.9 533.6,744.3 533.8,745.8 534.1,744.5 534.4,746.0 534.7,744.8 534.9,746.2 535.2,745.0 535.5,746.0 535.7,745.0 536.0,745.7 536.3,745.1 536.5,745.7 536.8,744.9 537.1,745.9 537.4,745.0 537.6,745.7 537.9,745.0 538.2,745.6" fill="none" stroke="#000" stroke-width="0.7" stroke-linejoin="round"/>
<g clip-path="url(#sc4)"><g filter="url(#jet4)">
<rect x="393.3" y="776.8" width="145.1" height="53.4" fill="#000"/>
<path d="M408.0,777.8L466.0,777.8L488.0,793.0L510.0,800.0L527.0,810.0L527.0,829.2L408.0,829.2Z" fill="rgb(53,53,53)" filter="url(#sb2)"/>
<path d="M408.0,797.0L488.0,798.0L510.0,806.0L526.0,815.0L526.0,829.2L408.0,829.2Z" fill="rgb(105,105,105)" filter="url(#sb2)"/>
<path d="M408.0,807.0L478.0,808.0L500.0,815.0L518.0,822.0L518.0,829.2L408.0,829.2Z" fill="rgb(149,149,149)" filter="url(#sb2)"/>
<path d="M410.0,816.0L458.0,817.0L476.0,822.0L488.0,827.0L488.0,829.2L410.0,829.2Z" fill="rgb(193,193,193)" filter="url(#sb2)"/>
<path d="M510.0,781.0L519.0,781.0L520.0,829.2L509.0,829.2Z" fill="rgb(97,97,97)" filter="url(#sb2)"/>
<path d="M406.5,777.8L409.2,777.8L411.5,829.2L406.5,829.2Z" fill="rgb(121,121,121)" filter="url(#sb1)"/>
</g>
<path d="M403.6,778.8L406.9,778.8L407.4,808.0L408.4,818.0L410.4,829.2L403.2,829.2Z" fill="#ff1a00" stroke="#ffb000" stroke-width="0.5"/>
</g>
<text x="381.5" y="786.5" font-size="9.5" font-weight="normal" text-anchor="end" fill="#111">100</text>
<text x="381.5" y="829.3" font-size="9.5" font-weight="normal" text-anchor="end" fill="#111">0</text>
<text x="380.2" y="803.9" font-size="9.6" font-weight="normal" text-anchor="middle" fill="#111" transform="rotate(-90 380.2 803.9)">Hz</text>
<text x="560.7" y="762.6" font-size="9.5" font-weight="normal" fill="#111" textLength="22.8" lengthAdjust="spacingAndGlyphs">2 mV</text>
<path d="M587.4,750.2V767.3H615.2" fill="none" stroke="#000" stroke-width="1.1"/>
<text x="594.7" y="778.2" font-size="9.5" font-weight="normal" fill="#111" textLength="14.2" lengthAdjust="spacingAndGlyphs">5 S</text>
<rect x="560.0" y="804.2" width="4.5" height="28.5" fill="url(#cbar)"/>
<text x="566.9" y="804.2" font-size="6.6" font-weight="normal" fill="#333">80</text>
<text x="566.9" y="833.1" font-size="6.6" font-weight="normal" fill="#333">50</text>
<text x="569.0" y="818.1" font-size="6.4" font-weight="normal" text-anchor="middle" fill="#333" transform="rotate(90 569.0 818.1)">dB</text>
</svg>
</body></html>
